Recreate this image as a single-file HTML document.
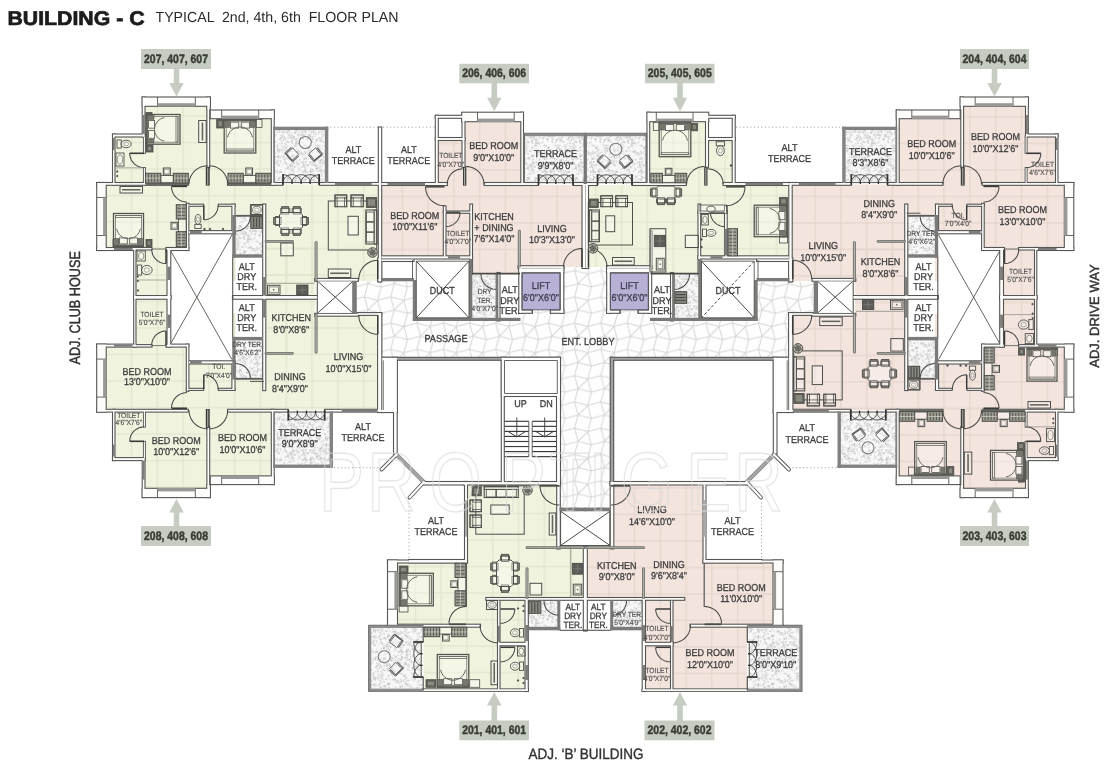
<!DOCTYPE html>
<html lang="en">
<head>
<meta charset="utf-8">
<title>Building C - Typical 2nd, 4th, 6th Floor Plan</title>
<style>
html,body{margin:0;padding:0;background:#fff;}
body{width:1104px;height:768px;overflow:hidden;}
svg{display:block;}
#all{filter:blur(0.5px);}
svg text{font-family:"Liberation Sans",sans-serif;text-rendering:geometricPrecision;}
</style>
</head>
<body>
<svg width="1104" height="768" viewBox="0 0 1104 768">
<defs>
<pattern id="tx" width="48" height="48" patternUnits="userSpaceOnUse"><rect width="48" height="48" fill="#f8f8f8"/><ellipse cx="11.42" cy="26.12" rx="0.87" ry="0.76" fill="#cccccc" transform="rotate(112.63 11.42 26.12)"/><ellipse cx="29.07" cy="43.62" rx="0.97" ry="0.73" fill="#c4c4c4" transform="rotate(34.51 29.07 43.62)"/><ellipse cx="22.57" cy="40.15" rx="0.98" ry="0.78" fill="#c4c4c4" transform="rotate(27.11 22.57 40.15)"/><ellipse cx="7.28" cy="44.44" rx="0.89" ry="0.41" fill="#d4d4d4" transform="rotate(139.9 7.28 44.44)"/><ellipse cx="36.4" cy="28.37" rx="0.8" ry="0.42" fill="#dedede" transform="rotate(155.79 36.4 28.37)"/><ellipse cx="28.55" cy="44.17" rx="0.89" ry="0.87" fill="#c4c4c4" transform="rotate(76.85 28.55 44.17)"/><ellipse cx="38.44" cy="21.34" rx="1.44" ry="0.93" fill="#d4d4d4" transform="rotate(17.54 38.44 21.34)"/><ellipse cx="23.75" cy="12.38" rx="1.17" ry="0.87" fill="#dedede" transform="rotate(153.94 23.75 12.38)"/><ellipse cx="24.35" cy="18.52" rx="0.85" ry="0.75" fill="#dadada" transform="rotate(105.17 24.35 18.52)"/><ellipse cx="32.74" cy="44.59" rx="1.36" ry="0.99" fill="#d4d4d4" transform="rotate(120.83 32.74 44.59)"/><ellipse cx="33.53" cy="15.67" rx="1.04" ry="0.74" fill="#c4c4c4" transform="rotate(18.73 33.53 15.67)"/><ellipse cx="10.13" cy="39.92" rx="1.07" ry="0.57" fill="#e6e6e6" transform="rotate(11.42 10.13 39.92)"/><ellipse cx="30.66" cy="23.21" rx="0.84" ry="0.44" fill="#cccccc" transform="rotate(161.48 30.66 23.21)"/><ellipse cx="14.11" cy="36.9" rx="1.37" ry="0.43" fill="#cccccc" transform="rotate(110.62 14.11 36.9)"/><ellipse cx="18.13" cy="28.15" rx="1.05" ry="0.95" fill="#d4d4d4" transform="rotate(50.23 18.13 28.15)"/><ellipse cx="-0.07" cy="14.86" rx="0.58" ry="0.76" fill="#d4d4d4" transform="rotate(5.65 -0.07 14.86)"/><ellipse cx="47.93" cy="14.86" rx="0.58" ry="0.76" fill="#d4d4d4" transform="rotate(5.65 47.93 14.86)"/><ellipse cx="-1.37" cy="14" rx="0.76" ry="0.81" fill="#dadada" transform="rotate(176.38 -1.37 14)"/><ellipse cx="46.63" cy="14" rx="0.76" ry="0.81" fill="#dadada" transform="rotate(176.38 46.63 14)"/><ellipse cx="15.06" cy="-1.98" rx="1.4" ry="0.63" fill="#e2e2e2" transform="rotate(82.87 15.06 -1.98)"/><ellipse cx="15.06" cy="46.02" rx="1.4" ry="0.63" fill="#e2e2e2" transform="rotate(82.87 15.06 46.02)"/><ellipse cx="18.54" cy="41.61" rx="1.18" ry="0.46" fill="#e6e6e6" transform="rotate(175.12 18.54 41.61)"/><ellipse cx="24.34" cy="20.7" rx="1.22" ry="0.54" fill="#dadada" transform="rotate(54.2 24.34 20.7)"/><ellipse cx="25.01" cy="26.32" rx="0.51" ry="0.65" fill="#cccccc" transform="rotate(104.39 25.01 26.32)"/><ellipse cx="18.07" cy="28.28" rx="0.63" ry="0.78" fill="#dadada" transform="rotate(59.84 18.07 28.28)"/><ellipse cx="32.61" cy="16.92" rx="1.21" ry="0.84" fill="#cccccc" transform="rotate(3.99 32.61 16.92)"/><ellipse cx="-2.17" cy="1.02" rx="0.87" ry="0.78" fill="#e2e2e2" transform="rotate(53.75 -2.17 1.02)"/><ellipse cx="-2.17" cy="49.02" rx="0.87" ry="0.78" fill="#e2e2e2" transform="rotate(53.75 -2.17 49.02)"/><ellipse cx="45.83" cy="1.02" rx="0.87" ry="0.78" fill="#e2e2e2" transform="rotate(53.75 45.83 1.02)"/><ellipse cx="45.83" cy="49.02" rx="0.87" ry="0.78" fill="#e2e2e2" transform="rotate(53.75 45.83 49.02)"/><ellipse cx="15.36" cy="17.47" rx="0.81" ry="0.62" fill="#dadada" transform="rotate(107.21 15.36 17.47)"/><ellipse cx="37.79" cy="5.03" rx="1.31" ry="0.98" fill="#d4d4d4" transform="rotate(123.07 37.79 5.03)"/><ellipse cx="14.88" cy="10.68" rx="1.3" ry="0.54" fill="#dedede" transform="rotate(33.73 14.88 10.68)"/><ellipse cx="31.18" cy="4.66" rx="1.1" ry="0.97" fill="#d4d4d4" transform="rotate(121.49 31.18 4.66)"/><ellipse cx="21.04" cy="41.07" rx="0.67" ry="0.6" fill="#e2e2e2" transform="rotate(117.04 21.04 41.07)"/><ellipse cx="21.65" cy="10.8" rx="0.62" ry="0.72" fill="#e6e6e6" transform="rotate(34.34 21.65 10.8)"/><ellipse cx="40.14" cy="27.59" rx="1.36" ry="0.6" fill="#cccccc" transform="rotate(149.03 40.14 27.59)"/><ellipse cx="38.7" cy="16.57" rx="0.63" ry="0.58" fill="#dadada" transform="rotate(142.9 38.7 16.57)"/><ellipse cx="22.31" cy="30.44" rx="0.79" ry="0.74" fill="#dedede" transform="rotate(6.4 22.31 30.44)"/><ellipse cx="7.49" cy="0.22" rx="1.44" ry="0.93" fill="#dedede" transform="rotate(177.64 7.49 0.22)"/><ellipse cx="7.49" cy="48.22" rx="1.44" ry="0.93" fill="#dedede" transform="rotate(177.64 7.49 48.22)"/><ellipse cx="26.83" cy="-0.68" rx="1.22" ry="0.42" fill="#e6e6e6" transform="rotate(82.2 26.83 -0.68)"/><ellipse cx="26.83" cy="47.32" rx="1.22" ry="0.42" fill="#e6e6e6" transform="rotate(82.2 26.83 47.32)"/><ellipse cx="31.82" cy="24.91" rx="0.79" ry="0.6" fill="#cccccc" transform="rotate(40.94 31.82 24.91)"/><ellipse cx="41.18" cy="-1.39" rx="0.62" ry="0.55" fill="#e6e6e6" transform="rotate(6.33 41.18 -1.39)"/><ellipse cx="41.18" cy="46.61" rx="0.62" ry="0.55" fill="#e6e6e6" transform="rotate(6.33 41.18 46.61)"/><ellipse cx="33.3" cy="44.35" rx="1.4" ry="0.94" fill="#cccccc" transform="rotate(103.85 33.3 44.35)"/><ellipse cx="23.09" cy="5.8" rx="1" ry="0.54" fill="#e2e2e2" transform="rotate(3.57 23.09 5.8)"/><ellipse cx="19.86" cy="-2.93" rx="1.11" ry="0.6" fill="#e6e6e6" transform="rotate(45.45 19.86 -2.93)"/><ellipse cx="19.86" cy="45.07" rx="1.11" ry="0.6" fill="#e6e6e6" transform="rotate(45.45 19.86 45.07)"/><ellipse cx="25.97" cy="38.95" rx="0.56" ry="0.53" fill="#e6e6e6" transform="rotate(22 25.97 38.95)"/><ellipse cx="5.72" cy="11.49" rx="0.77" ry="0.93" fill="#cccccc" transform="rotate(23.13 5.72 11.49)"/><ellipse cx="23.4" cy="27.4" rx="0.9" ry="0.85" fill="#e2e2e2" transform="rotate(44.69 23.4 27.4)"/><ellipse cx="25.31" cy="20.3" rx="0.97" ry="0.87" fill="#cccccc" transform="rotate(0.33 25.31 20.3)"/><ellipse cx="37.21" cy="2.22" rx="0.55" ry="0.69" fill="#c4c4c4" transform="rotate(5.94 37.21 2.22)"/><ellipse cx="37.21" cy="50.22" rx="0.55" ry="0.69" fill="#c4c4c4" transform="rotate(5.94 37.21 50.22)"/><ellipse cx="4.13" cy="24.1" rx="0.82" ry="0.59" fill="#c4c4c4" transform="rotate(63.23 4.13 24.1)"/><ellipse cx="18.7" cy="14.6" rx="0.76" ry="0.99" fill="#d4d4d4" transform="rotate(77.17 18.7 14.6)"/><ellipse cx="26.67" cy="34.37" rx="0.88" ry="0.45" fill="#dadada" transform="rotate(32.14 26.67 34.37)"/><ellipse cx="22.12" cy="31.21" rx="1.04" ry="0.78" fill="#dedede" transform="rotate(7.82 22.12 31.21)"/><ellipse cx="2.55" cy="30.12" rx="1.26" ry="0.59" fill="#dedede" transform="rotate(171.05 2.55 30.12)"/><ellipse cx="50.55" cy="30.12" rx="1.26" ry="0.59" fill="#dedede" transform="rotate(171.05 50.55 30.12)"/><ellipse cx="22.12" cy="11.76" rx="1.04" ry="0.82" fill="#dedede" transform="rotate(12.88 22.12 11.76)"/><ellipse cx="10.77" cy="6.26" rx="0.53" ry="0.6" fill="#e2e2e2" transform="rotate(174.39 10.77 6.26)"/><ellipse cx="37.96" cy="12.58" rx="0.96" ry="0.47" fill="#c4c4c4" transform="rotate(146.38 37.96 12.58)"/><ellipse cx="40.79" cy="25.45" rx="0.88" ry="0.47" fill="#e2e2e2" transform="rotate(57.31 40.79 25.45)"/><ellipse cx="4.95" cy="28.21" rx="0.5" ry="0.49" fill="#cccccc" transform="rotate(139.37 4.95 28.21)"/><ellipse cx="25.31" cy="27.09" rx="1.16" ry="0.63" fill="#dadada" transform="rotate(147.5 25.31 27.09)"/><ellipse cx="40.39" cy="5.82" rx="1.34" ry="0.8" fill="#dadada" transform="rotate(150.51 40.39 5.82)"/><ellipse cx="27.8" cy="38.34" rx="0.54" ry="0.86" fill="#c4c4c4" transform="rotate(92.04 27.8 38.34)"/><ellipse cx="11.44" cy="26.61" rx="0.6" ry="0.73" fill="#e6e6e6" transform="rotate(99.02 11.44 26.61)"/><ellipse cx="27.07" cy="39.75" rx="0.74" ry="0.51" fill="#e2e2e2" transform="rotate(44.99 27.07 39.75)"/><ellipse cx="33.61" cy="-2.75" rx="0.75" ry="0.76" fill="#e2e2e2" transform="rotate(168.98 33.61 -2.75)"/><ellipse cx="33.61" cy="45.25" rx="0.75" ry="0.76" fill="#e2e2e2" transform="rotate(168.98 33.61 45.25)"/><ellipse cx="20.07" cy="4" rx="1" ry="0.98" fill="#c4c4c4" transform="rotate(74.31 20.07 4)"/><ellipse cx="-1.58" cy="19.93" rx="1.07" ry="0.75" fill="#c4c4c4" transform="rotate(166.31 -1.58 19.93)"/><ellipse cx="46.42" cy="19.93" rx="1.07" ry="0.75" fill="#c4c4c4" transform="rotate(166.31 46.42 19.93)"/><ellipse cx="23.22" cy="30.86" rx="1.4" ry="0.49" fill="#c4c4c4" transform="rotate(17.25 23.22 30.86)"/><ellipse cx="23.21" cy="33.53" rx="1.45" ry="0.75" fill="#d4d4d4" transform="rotate(154.46 23.21 33.53)"/><ellipse cx="12.83" cy="9.56" rx="1.09" ry="0.59" fill="#c4c4c4" transform="rotate(41.81 12.83 9.56)"/><ellipse cx="25.83" cy="37.42" rx="1.17" ry="0.91" fill="#e2e2e2" transform="rotate(107.14 25.83 37.42)"/><ellipse cx="28.06" cy="12.82" rx="0.72" ry="0.41" fill="#dedede" transform="rotate(86.31 28.06 12.82)"/><ellipse cx="9.63" cy="27.35" rx="0.74" ry="0.69" fill="#dedede" transform="rotate(155.48 9.63 27.35)"/><ellipse cx="-0.42" cy="23.02" rx="1.1" ry="0.68" fill="#e6e6e6" transform="rotate(150.23 -0.42 23.02)"/><ellipse cx="47.58" cy="23.02" rx="1.1" ry="0.68" fill="#e6e6e6" transform="rotate(150.23 47.58 23.02)"/><ellipse cx="31.32" cy="1.33" rx="1.49" ry="0.44" fill="#e6e6e6" transform="rotate(170.56 31.32 1.33)"/><ellipse cx="31.32" cy="49.33" rx="1.49" ry="0.44" fill="#e6e6e6" transform="rotate(170.56 31.32 49.33)"/><ellipse cx="35.21" cy="-1.91" rx="0.97" ry="0.54" fill="#c4c4c4" transform="rotate(42.26 35.21 -1.91)"/><ellipse cx="35.21" cy="46.09" rx="0.97" ry="0.54" fill="#c4c4c4" transform="rotate(42.26 35.21 46.09)"/><ellipse cx="37.31" cy="3.32" rx="0.72" ry="0.55" fill="#e6e6e6" transform="rotate(160.23 37.31 3.32)"/><ellipse cx="12.41" cy="8.98" rx="1.2" ry="0.92" fill="#dadada" transform="rotate(161.96 12.41 8.98)"/><ellipse cx="8.15" cy="2.16" rx="0.68" ry="0.45" fill="#cccccc" transform="rotate(143.8 8.15 2.16)"/><ellipse cx="8.15" cy="50.16" rx="0.68" ry="0.45" fill="#cccccc" transform="rotate(143.8 8.15 50.16)"/><ellipse cx="4.45" cy="40.03" rx="0.79" ry="0.61" fill="#c4c4c4" transform="rotate(104.45 4.45 40.03)"/><ellipse cx="16.16" cy="1.41" rx="0.83" ry="0.63" fill="#c4c4c4" transform="rotate(14.03 16.16 1.41)"/><ellipse cx="16.16" cy="49.41" rx="0.83" ry="0.63" fill="#c4c4c4" transform="rotate(14.03 16.16 49.41)"/><ellipse cx="28.09" cy="-2.14" rx="0.89" ry="0.73" fill="#dadada" transform="rotate(21.45 28.09 -2.14)"/><ellipse cx="28.09" cy="45.86" rx="0.89" ry="0.73" fill="#dadada" transform="rotate(21.45 28.09 45.86)"/><ellipse cx="3.66" cy="20.76" rx="0.94" ry="0.72" fill="#e2e2e2" transform="rotate(45.17 3.66 20.76)"/><ellipse cx="-2.82" cy="17.96" rx="1.27" ry="0.85" fill="#c4c4c4" transform="rotate(53.2 -2.82 17.96)"/><ellipse cx="45.18" cy="17.96" rx="1.27" ry="0.85" fill="#c4c4c4" transform="rotate(53.2 45.18 17.96)"/><ellipse cx="32.16" cy="-2.68" rx="1.32" ry="0.46" fill="#dadada" transform="rotate(170 32.16 -2.68)"/><ellipse cx="32.16" cy="45.32" rx="1.32" ry="0.46" fill="#dadada" transform="rotate(170 32.16 45.32)"/><ellipse cx="32.3" cy="25.74" rx="0.61" ry="0.7" fill="#c4c4c4" transform="rotate(63.39 32.3 25.74)"/><ellipse cx="14.13" cy="34.94" rx="1.24" ry="0.79" fill="#d4d4d4" transform="rotate(131.44 14.13 34.94)"/><ellipse cx="8.6" cy="42.72" rx="1.16" ry="0.47" fill="#d4d4d4" transform="rotate(167.73 8.6 42.72)"/><ellipse cx="44.2" cy="30.96" rx="1.15" ry="0.65" fill="#d4d4d4" transform="rotate(54.1 44.2 30.96)"/><ellipse cx="21.97" cy="15" rx="0.68" ry="0.44" fill="#e6e6e6" transform="rotate(128.85 21.97 15)"/><ellipse cx="26.58" cy="27.64" rx="0.89" ry="0.46" fill="#cccccc" transform="rotate(48.75 26.58 27.64)"/><ellipse cx="41.88" cy="2.02" rx="1" ry="0.55" fill="#dadada" transform="rotate(138.4 41.88 2.02)"/><ellipse cx="41.88" cy="50.02" rx="1" ry="0.55" fill="#dadada" transform="rotate(138.4 41.88 50.02)"/><ellipse cx="42.01" cy="-2.64" rx="0.95" ry="0.89" fill="#dedede" transform="rotate(12.46 42.01 -2.64)"/><ellipse cx="42.01" cy="45.36" rx="0.95" ry="0.89" fill="#dedede" transform="rotate(12.46 42.01 45.36)"/><ellipse cx="40.65" cy="5.38" rx="0.77" ry="0.46" fill="#e6e6e6" transform="rotate(20.28 40.65 5.38)"/><ellipse cx="43.68" cy="5.38" rx="1.2" ry="0.74" fill="#dedede" transform="rotate(120.63 43.68 5.38)"/><ellipse cx="39.16" cy="35.94" rx="1.09" ry="0.49" fill="#d4d4d4" transform="rotate(71.72 39.16 35.94)"/><ellipse cx="26.15" cy="8.18" rx="0.68" ry="0.92" fill="#dadada" transform="rotate(66.53 26.15 8.18)"/><ellipse cx="1.44" cy="38.55" rx="1.39" ry="0.97" fill="#e2e2e2" transform="rotate(68.97 1.44 38.55)"/><ellipse cx="49.44" cy="38.55" rx="1.39" ry="0.97" fill="#e2e2e2" transform="rotate(68.97 49.44 38.55)"/><ellipse cx="43.5" cy="14.86" rx="1" ry="0.72" fill="#e6e6e6" transform="rotate(127.25 43.5 14.86)"/><ellipse cx="32.05" cy="1.45" rx="0.69" ry="0.78" fill="#e6e6e6" transform="rotate(19.35 32.05 1.45)"/><ellipse cx="32.05" cy="49.45" rx="0.69" ry="0.78" fill="#e6e6e6" transform="rotate(19.35 32.05 49.45)"/><ellipse cx="31.77" cy="23.61" rx="1.02" ry="0.68" fill="#e2e2e2" transform="rotate(34.82 31.77 23.61)"/><ellipse cx="10.17" cy="39.01" rx="1.43" ry="0.97" fill="#dadada" transform="rotate(20.08 10.17 39.01)"/><ellipse cx="-1.97" cy="42.82" rx="0.64" ry="0.88" fill="#cccccc" transform="rotate(112.19 -1.97 42.82)"/><ellipse cx="46.03" cy="42.82" rx="0.64" ry="0.88" fill="#cccccc" transform="rotate(112.19 46.03 42.82)"/><ellipse cx="1.22" cy="29.68" rx="1.01" ry="0.7" fill="#dadada" transform="rotate(3.4 1.22 29.68)"/><ellipse cx="49.22" cy="29.68" rx="1.01" ry="0.7" fill="#dadada" transform="rotate(3.4 49.22 29.68)"/><ellipse cx="15.51" cy="41.78" rx="1.19" ry="0.48" fill="#e2e2e2" transform="rotate(154.49 15.51 41.78)"/><ellipse cx="37.22" cy="1.63" rx="0.58" ry="1" fill="#d4d4d4" transform="rotate(179.61 37.22 1.63)"/><ellipse cx="37.22" cy="49.63" rx="0.58" ry="1" fill="#d4d4d4" transform="rotate(179.61 37.22 49.63)"/><ellipse cx="44.72" cy="41.35" rx="0.94" ry="0.85" fill="#cccccc" transform="rotate(87.3 44.72 41.35)"/><ellipse cx="37.77" cy="19.61" rx="1.35" ry="0.82" fill="#dedede" transform="rotate(70.47 37.77 19.61)"/><ellipse cx="33.57" cy="25.8" rx="0.92" ry="0.79" fill="#dedede" transform="rotate(54.84 33.57 25.8)"/><ellipse cx="21.96" cy="33.18" rx="0.94" ry="0.67" fill="#dadada" transform="rotate(6.7 21.96 33.18)"/><ellipse cx="17.61" cy="17.81" rx="1.03" ry="0.76" fill="#cccccc" transform="rotate(40.29 17.61 17.81)"/><ellipse cx="38.6" cy="12.42" rx="0.87" ry="0.91" fill="#d4d4d4" transform="rotate(96.09 38.6 12.42)"/><ellipse cx="10.05" cy="8.2" rx="0.9" ry="0.5" fill="#cccccc" transform="rotate(4.95 10.05 8.2)"/><ellipse cx="29.22" cy="21.25" rx="0.68" ry="0.9" fill="#dadada" transform="rotate(72.56 29.22 21.25)"/><ellipse cx="19.57" cy="33.77" rx="0.55" ry="0.64" fill="#cccccc" transform="rotate(71.39 19.57 33.77)"/><ellipse cx="43.63" cy="42.39" rx="0.74" ry="0.63" fill="#dadada" transform="rotate(34.32 43.63 42.39)"/><ellipse cx="29.88" cy="16.63" rx="0.62" ry="0.43" fill="#dadada" transform="rotate(130.98 29.88 16.63)"/><ellipse cx="-0.9" cy="-2.78" rx="1.29" ry="0.98" fill="#e2e2e2" transform="rotate(87.94 -0.9 -2.78)"/><ellipse cx="-0.9" cy="45.22" rx="1.29" ry="0.98" fill="#e2e2e2" transform="rotate(87.94 -0.9 45.22)"/><ellipse cx="47.1" cy="-2.78" rx="1.29" ry="0.98" fill="#e2e2e2" transform="rotate(87.94 47.1 -2.78)"/><ellipse cx="47.1" cy="45.22" rx="1.29" ry="0.98" fill="#e2e2e2" transform="rotate(87.94 47.1 45.22)"/><ellipse cx="12.76" cy="39.1" rx="1.13" ry="0.61" fill="#c4c4c4" transform="rotate(16.87 12.76 39.1)"/><ellipse cx="20.9" cy="4.29" rx="1.12" ry="0.46" fill="#cccccc" transform="rotate(122.55 20.9 4.29)"/><ellipse cx="8.18" cy="1.76" rx="0.55" ry="0.79" fill="#d4d4d4" transform="rotate(162.05 8.18 1.76)"/><ellipse cx="8.18" cy="49.76" rx="0.55" ry="0.79" fill="#d4d4d4" transform="rotate(162.05 8.18 49.76)"/><ellipse cx="43.19" cy="36.36" rx="0.84" ry="0.69" fill="#c4c4c4" transform="rotate(63.28 43.19 36.36)"/><ellipse cx="1.64" cy="14.63" rx="1.11" ry="0.97" fill="#dadada" transform="rotate(15.8 1.64 14.63)"/><ellipse cx="49.64" cy="14.63" rx="1.11" ry="0.97" fill="#dadada" transform="rotate(15.8 49.64 14.63)"/><ellipse cx="8.84" cy="19.83" rx="1.01" ry="0.73" fill="#e6e6e6" transform="rotate(96.57 8.84 19.83)"/><ellipse cx="44.57" cy="8.38" rx="1.24" ry="0.84" fill="#e2e2e2" transform="rotate(150.42 44.57 8.38)"/><ellipse cx="17.24" cy="8.83" rx="1.3" ry="0.66" fill="#c4c4c4" transform="rotate(80.01 17.24 8.83)"/><ellipse cx="23.07" cy="12.93" rx="0.67" ry="0.83" fill="#c4c4c4" transform="rotate(109.03 23.07 12.93)"/><ellipse cx="33.45" cy="-2.43" rx="0.54" ry="0.5" fill="#e6e6e6" transform="rotate(135.3 33.45 -2.43)"/><ellipse cx="33.45" cy="45.57" rx="0.54" ry="0.5" fill="#e6e6e6" transform="rotate(135.3 33.45 45.57)"/><ellipse cx="22.41" cy="36.41" rx="1.18" ry="0.46" fill="#e6e6e6" transform="rotate(42.69 22.41 36.41)"/><ellipse cx="38.46" cy="2.71" rx="1.11" ry="0.43" fill="#e6e6e6" transform="rotate(83.96 38.46 2.71)"/><ellipse cx="38.46" cy="50.71" rx="1.11" ry="0.43" fill="#e6e6e6" transform="rotate(83.96 38.46 50.71)"/><ellipse cx="35.18" cy="16.02" rx="0.87" ry="0.44" fill="#cccccc" transform="rotate(71.88 35.18 16.02)"/><ellipse cx="16.25" cy="14.94" rx="0.95" ry="0.89" fill="#c4c4c4" transform="rotate(37.87 16.25 14.94)"/><ellipse cx="2.34" cy="7.33" rx="1.14" ry="0.75" fill="#d4d4d4" transform="rotate(2.1 2.34 7.33)"/><ellipse cx="50.34" cy="7.33" rx="1.14" ry="0.75" fill="#d4d4d4" transform="rotate(2.1 50.34 7.33)"/><ellipse cx="13.8" cy="10.02" rx="1.35" ry="0.71" fill="#e2e2e2" transform="rotate(90.89 13.8 10.02)"/><ellipse cx="15.31" cy="42.38" rx="1.28" ry="0.68" fill="#cccccc" transform="rotate(112.03 15.31 42.38)"/><ellipse cx="39.62" cy="5.4" rx="0.52" ry="0.98" fill="#dadada" transform="rotate(35.87 39.62 5.4)"/><ellipse cx="4.12" cy="22.33" rx="0.72" ry="0.9" fill="#c4c4c4" transform="rotate(110.78 4.12 22.33)"/><ellipse cx="23.31" cy="32.09" rx="1.2" ry="0.64" fill="#e6e6e6" transform="rotate(118.99 23.31 32.09)"/><ellipse cx="5.33" cy="40.1" rx="1.09" ry="0.89" fill="#e2e2e2" transform="rotate(37.08 5.33 40.1)"/><ellipse cx="0.36" cy="14.37" rx="1.14" ry="0.6" fill="#e6e6e6" transform="rotate(34.55 0.36 14.37)"/><ellipse cx="48.36" cy="14.37" rx="1.14" ry="0.6" fill="#e6e6e6" transform="rotate(34.55 48.36 14.37)"/><ellipse cx="3.43" cy="26.53" rx="1.24" ry="0.65" fill="#e2e2e2" transform="rotate(116.71 3.43 26.53)"/><ellipse cx="24.9" cy="11.99" rx="1.34" ry="0.44" fill="#dedede" transform="rotate(42.51 24.9 11.99)"/><ellipse cx="4.04" cy="10.46" rx="0.67" ry="0.96" fill="#e6e6e6" transform="rotate(130.75 4.04 10.46)"/><ellipse cx="42.02" cy="35.29" rx="0.96" ry="0.83" fill="#dadada" transform="rotate(153.46 42.02 35.29)"/><ellipse cx="-2.49" cy="43.35" rx="1.45" ry="0.69" fill="#dedede" transform="rotate(139.22 -2.49 43.35)"/><ellipse cx="45.51" cy="43.35" rx="1.45" ry="0.69" fill="#dedede" transform="rotate(139.22 45.51 43.35)"/><ellipse cx="22.53" cy="28.2" rx="0.53" ry="0.97" fill="#cccccc" transform="rotate(3.26 22.53 28.2)"/><ellipse cx="1.36" cy="7.23" rx="1" ry="0.44" fill="#d4d4d4" transform="rotate(84.98 1.36 7.23)"/><ellipse cx="49.36" cy="7.23" rx="1" ry="0.44" fill="#d4d4d4" transform="rotate(84.98 49.36 7.23)"/><ellipse cx="35.77" cy="13.25" rx="0.93" ry="0.61" fill="#c4c4c4" transform="rotate(133.58 35.77 13.25)"/><ellipse cx="37.54" cy="6.86" rx="0.94" ry="0.95" fill="#d4d4d4" transform="rotate(79.89 37.54 6.86)"/><ellipse cx="7.35" cy="36.61" rx="1.2" ry="0.99" fill="#c4c4c4" transform="rotate(176.34 7.35 36.61)"/><ellipse cx="17.88" cy="7.74" rx="0.81" ry="0.68" fill="#e2e2e2" transform="rotate(94.67 17.88 7.74)"/><ellipse cx="10.69" cy="-2.09" rx="0.79" ry="0.42" fill="#dadada" transform="rotate(67.23 10.69 -2.09)"/><ellipse cx="10.69" cy="45.91" rx="0.79" ry="0.42" fill="#dadada" transform="rotate(67.23 10.69 45.91)"/><ellipse cx="38.74" cy="14.28" rx="0.74" ry="0.88" fill="#d4d4d4" transform="rotate(1.81 38.74 14.28)"/><ellipse cx="30.2" cy="7.16" rx="0.52" ry="0.97" fill="#e6e6e6" transform="rotate(0.35 30.2 7.16)"/><ellipse cx="38.07" cy="17.03" rx="1.47" ry="0.62" fill="#dedede" transform="rotate(99.48 38.07 17.03)"/><ellipse cx="8.88" cy="0.63" rx="0.93" ry="0.6" fill="#e2e2e2" transform="rotate(9.23 8.88 0.63)"/><ellipse cx="8.88" cy="48.63" rx="0.93" ry="0.6" fill="#e2e2e2" transform="rotate(9.23 8.88 48.63)"/><ellipse cx="38.94" cy="21.6" rx="0.76" ry="0.8" fill="#c4c4c4" transform="rotate(89.75 38.94 21.6)"/><ellipse cx="12.5" cy="2.11" rx="0.93" ry="0.78" fill="#e6e6e6" transform="rotate(121.54 12.5 2.11)"/><ellipse cx="12.5" cy="50.11" rx="0.93" ry="0.78" fill="#e6e6e6" transform="rotate(121.54 12.5 50.11)"/><ellipse cx="38.81" cy="11.87" rx="0.64" ry="0.85" fill="#e2e2e2" transform="rotate(142.11 38.81 11.87)"/><ellipse cx="36.03" cy="16.2" rx="0.63" ry="0.41" fill="#dedede" transform="rotate(8.17 36.03 16.2)"/><ellipse cx="30.87" cy="43.05" rx="1.41" ry="0.68" fill="#e6e6e6" transform="rotate(119.79 30.87 43.05)"/><ellipse cx="39.07" cy="28.93" rx="0.91" ry="0.71" fill="#d4d4d4" transform="rotate(30.74 39.07 28.93)"/><ellipse cx="3.54" cy="6.7" rx="1.33" ry="0.46" fill="#dedede" transform="rotate(139.35 3.54 6.7)"/><ellipse cx="21.83" cy="38.54" rx="0.95" ry="0.98" fill="#dadada" transform="rotate(27.95 21.83 38.54)"/><ellipse cx="6.7" cy="1.81" rx="0.99" ry="0.54" fill="#e2e2e2" transform="rotate(82.61 6.7 1.81)"/><ellipse cx="6.7" cy="49.81" rx="0.99" ry="0.54" fill="#e2e2e2" transform="rotate(82.61 6.7 49.81)"/><ellipse cx="29.4" cy="1.47" rx="1.07" ry="0.73" fill="#dadada" transform="rotate(87.77 29.4 1.47)"/><ellipse cx="29.4" cy="49.47" rx="1.07" ry="0.73" fill="#dadada" transform="rotate(87.77 29.4 49.47)"/><ellipse cx="37.7" cy="36.18" rx="0.77" ry="0.66" fill="#cccccc" transform="rotate(13.65 37.7 36.18)"/><ellipse cx="24.71" cy="42.99" rx="1.46" ry="0.79" fill="#dadada" transform="rotate(35.12 24.71 42.99)"/><ellipse cx="8.69" cy="18.4" rx="1.33" ry="0.59" fill="#cccccc" transform="rotate(48.76 8.69 18.4)"/><ellipse cx="-2.7" cy="15.23" rx="0.89" ry="0.57" fill="#dadada" transform="rotate(23.67 -2.7 15.23)"/><ellipse cx="45.3" cy="15.23" rx="0.89" ry="0.57" fill="#dadada" transform="rotate(23.67 45.3 15.23)"/><ellipse cx="19.84" cy="43.17" rx="1" ry="0.97" fill="#c4c4c4" transform="rotate(132.74 19.84 43.17)"/><ellipse cx="25.26" cy="35.66" rx="1.34" ry="0.78" fill="#cccccc" transform="rotate(147.21 25.26 35.66)"/><ellipse cx="-2.78" cy="-1.23" rx="1.19" ry="0.66" fill="#dedede" transform="rotate(177.12 -2.78 -1.23)"/><ellipse cx="-2.78" cy="46.77" rx="1.19" ry="0.66" fill="#dedede" transform="rotate(177.12 -2.78 46.77)"/><ellipse cx="45.22" cy="-1.23" rx="1.19" ry="0.66" fill="#dedede" transform="rotate(177.12 45.22 -1.23)"/><ellipse cx="45.22" cy="46.77" rx="1.19" ry="0.66" fill="#dedede" transform="rotate(177.12 45.22 46.77)"/><ellipse cx="12.86" cy="26.21" rx="0.55" ry="0.54" fill="#d4d4d4" transform="rotate(172.36 12.86 26.21)"/><ellipse cx="7.19" cy="33.87" rx="1.19" ry="0.68" fill="#cccccc" transform="rotate(71.57 7.19 33.87)"/><ellipse cx="6.83" cy="2.62" rx="1.26" ry="0.51" fill="#e6e6e6" transform="rotate(34.13 6.83 2.62)"/><ellipse cx="6.83" cy="50.62" rx="1.26" ry="0.51" fill="#e6e6e6" transform="rotate(34.13 6.83 50.62)"/><ellipse cx="6.28" cy="7.04" rx="1.02" ry="0.49" fill="#e6e6e6" transform="rotate(38.57 6.28 7.04)"/><ellipse cx="5.14" cy="18.71" rx="1.49" ry="0.57" fill="#d4d4d4" transform="rotate(23.64 5.14 18.71)"/><ellipse cx="14.16" cy="18.41" rx="1.44" ry="0.76" fill="#cccccc" transform="rotate(168.22 14.16 18.41)"/><ellipse cx="-2.91" cy="-0.15" rx="1.48" ry="0.55" fill="#dedede" transform="rotate(63.79 -2.91 -0.15)"/><ellipse cx="-2.91" cy="47.85" rx="1.48" ry="0.55" fill="#dedede" transform="rotate(63.79 -2.91 47.85)"/><ellipse cx="45.09" cy="-0.15" rx="1.48" ry="0.55" fill="#dedede" transform="rotate(63.79 45.09 -0.15)"/><ellipse cx="45.09" cy="47.85" rx="1.48" ry="0.55" fill="#dedede" transform="rotate(63.79 45.09 47.85)"/><ellipse cx="4.98" cy="40.65" rx="0.97" ry="0.84" fill="#e6e6e6" transform="rotate(95.56 4.98 40.65)"/><ellipse cx="37.53" cy="27.31" rx="0.96" ry="0.72" fill="#e2e2e2" transform="rotate(79.61 37.53 27.31)"/><ellipse cx="21.9" cy="18.43" rx="1.26" ry="0.58" fill="#c4c4c4" transform="rotate(134.93 21.9 18.43)"/><ellipse cx="8.61" cy="-1.75" rx="1.34" ry="0.5" fill="#d4d4d4" transform="rotate(47.86 8.61 -1.75)"/><ellipse cx="8.61" cy="46.25" rx="1.34" ry="0.5" fill="#d4d4d4" transform="rotate(47.86 8.61 46.25)"/><ellipse cx="6.26" cy="28.97" rx="0.56" ry="0.77" fill="#e2e2e2" transform="rotate(32.02 6.26 28.97)"/><ellipse cx="0.67" cy="41.75" rx="1.29" ry="0.99" fill="#e2e2e2" transform="rotate(123.38 0.67 41.75)"/><ellipse cx="48.67" cy="41.75" rx="1.29" ry="0.99" fill="#e2e2e2" transform="rotate(123.38 48.67 41.75)"/><ellipse cx="33.46" cy="13.21" rx="0.96" ry="0.75" fill="#e2e2e2" transform="rotate(58.65 33.46 13.21)"/><ellipse cx="28.82" cy="15.51" rx="1.01" ry="0.62" fill="#dadada" transform="rotate(57.26 28.82 15.51)"/><ellipse cx="33.72" cy="37.01" rx="1.22" ry="0.61" fill="#dadada" transform="rotate(124.28 33.72 37.01)"/><ellipse cx="13.77" cy="-1.12" rx="0.77" ry="0.47" fill="#c4c4c4" transform="rotate(90.15 13.77 -1.12)"/><ellipse cx="13.77" cy="46.88" rx="0.77" ry="0.47" fill="#c4c4c4" transform="rotate(90.15 13.77 46.88)"/><ellipse cx="-0.22" cy="34.98" rx="0.75" ry="0.66" fill="#d4d4d4" transform="rotate(48.03 -0.22 34.98)"/><ellipse cx="47.78" cy="34.98" rx="0.75" ry="0.66" fill="#d4d4d4" transform="rotate(48.03 47.78 34.98)"/><ellipse cx="22.94" cy="25.51" rx="1.37" ry="0.99" fill="#dedede" transform="rotate(95.13 22.94 25.51)"/><ellipse cx="-0.26" cy="2.48" rx="0.92" ry="0.73" fill="#dadada" transform="rotate(109.9 -0.26 2.48)"/><ellipse cx="-0.26" cy="50.48" rx="0.92" ry="0.73" fill="#dadada" transform="rotate(109.9 -0.26 50.48)"/><ellipse cx="47.74" cy="2.48" rx="0.92" ry="0.73" fill="#dadada" transform="rotate(109.9 47.74 2.48)"/><ellipse cx="47.74" cy="50.48" rx="0.92" ry="0.73" fill="#dadada" transform="rotate(109.9 47.74 50.48)"/><ellipse cx="2.85" cy="41.02" rx="0.88" ry="0.99" fill="#d4d4d4" transform="rotate(65.99 2.85 41.02)"/><ellipse cx="50.85" cy="41.02" rx="0.88" ry="0.99" fill="#d4d4d4" transform="rotate(65.99 50.85 41.02)"/><ellipse cx="2.66" cy="23.72" rx="0.62" ry="0.84" fill="#e2e2e2" transform="rotate(70.13 2.66 23.72)"/><ellipse cx="50.66" cy="23.72" rx="0.62" ry="0.84" fill="#e2e2e2" transform="rotate(70.13 50.66 23.72)"/><ellipse cx="17.35" cy="14.43" rx="1.01" ry="0.64" fill="#c4c4c4" transform="rotate(67.06 17.35 14.43)"/><ellipse cx="32.9" cy="5" rx="1" ry="0.59" fill="#cccccc" transform="rotate(0.01 32.9 5)"/><ellipse cx="29.5" cy="6.7" rx="0.58" ry="0.59" fill="#cccccc" transform="rotate(50.94 29.5 6.7)"/><ellipse cx="1.36" cy="35.19" rx="0.81" ry="0.67" fill="#c4c4c4" transform="rotate(65.52 1.36 35.19)"/><ellipse cx="49.36" cy="35.19" rx="0.81" ry="0.67" fill="#c4c4c4" transform="rotate(65.52 49.36 35.19)"/><ellipse cx="40.21" cy="43.83" rx="0.94" ry="0.81" fill="#dedede" transform="rotate(21.73 40.21 43.83)"/><ellipse cx="10.79" cy="6.67" rx="0.81" ry="0.73" fill="#d4d4d4" transform="rotate(21.12 10.79 6.67)"/><ellipse cx="28.74" cy="4.07" rx="0.53" ry="0.61" fill="#e6e6e6" transform="rotate(1.35 28.74 4.07)"/><ellipse cx="-0.69" cy="22.69" rx="0.64" ry="0.52" fill="#e2e2e2" transform="rotate(114.44 -0.69 22.69)"/><ellipse cx="47.31" cy="22.69" rx="0.64" ry="0.52" fill="#e2e2e2" transform="rotate(114.44 47.31 22.69)"/><ellipse cx="30.18" cy="31.67" rx="0.94" ry="0.46" fill="#c4c4c4" transform="rotate(176.24 30.18 31.67)"/><ellipse cx="42.13" cy="3.09" rx="1.38" ry="0.85" fill="#e6e6e6" transform="rotate(57.8 42.13 3.09)"/><ellipse cx="0.46" cy="23.04" rx="0.92" ry="0.94" fill="#dadada" transform="rotate(148.77 0.46 23.04)"/><ellipse cx="48.46" cy="23.04" rx="0.92" ry="0.94" fill="#dadada" transform="rotate(148.77 48.46 23.04)"/><ellipse cx="30.92" cy="42.32" rx="0.73" ry="0.59" fill="#cccccc" transform="rotate(116.72 30.92 42.32)"/><ellipse cx="2.49" cy="24.87" rx="1.4" ry="0.71" fill="#e6e6e6" transform="rotate(43.09 2.49 24.87)"/><ellipse cx="50.49" cy="24.87" rx="1.4" ry="0.71" fill="#e6e6e6" transform="rotate(43.09 50.49 24.87)"/><ellipse cx="4.09" cy="11.15" rx="0.97" ry="0.91" fill="#dadada" transform="rotate(97.03 4.09 11.15)"/><ellipse cx="16.51" cy="21.89" rx="1.46" ry="0.54" fill="#dadada" transform="rotate(103.15 16.51 21.89)"/><ellipse cx="43.19" cy="6.38" rx="1.03" ry="0.77" fill="#e6e6e6" transform="rotate(63.87 43.19 6.38)"/><ellipse cx="41.28" cy="28.07" rx="1.22" ry="0.72" fill="#c4c4c4" transform="rotate(80.47 41.28 28.07)"/><ellipse cx="20.78" cy="14.98" rx="0.69" ry="0.92" fill="#e6e6e6" transform="rotate(38.89 20.78 14.98)"/><ellipse cx="4.97" cy="21.93" rx="1.43" ry="0.7" fill="#dadada" transform="rotate(151.6 4.97 21.93)"/><ellipse cx="8.95" cy="1.81" rx="1" ry="0.63" fill="#e6e6e6" transform="rotate(153.26 8.95 1.81)"/><ellipse cx="8.95" cy="49.81" rx="1" ry="0.63" fill="#e6e6e6" transform="rotate(153.26 8.95 49.81)"/><ellipse cx="35" cy="11.37" rx="0.87" ry="0.53" fill="#dadada" transform="rotate(51.29 35 11.37)"/><ellipse cx="12.64" cy="33.32" rx="0.84" ry="0.47" fill="#dedede" transform="rotate(39.67 12.64 33.32)"/><ellipse cx="8.3" cy="8.08" rx="0.98" ry="0.53" fill="#dadada" transform="rotate(145.94 8.3 8.08)"/><ellipse cx="29.25" cy="8.44" rx="1.25" ry="0.64" fill="#e2e2e2" transform="rotate(97.12 29.25 8.44)"/><ellipse cx="8.51" cy="14.49" rx="0.87" ry="0.45" fill="#dedede" transform="rotate(96.54 8.51 14.49)"/><ellipse cx="23.53" cy="27.79" rx="0.77" ry="0.94" fill="#d4d4d4" transform="rotate(123.42 23.53 27.79)"/><ellipse cx="18.68" cy="24.03" rx="0.99" ry="0.64" fill="#e6e6e6" transform="rotate(111.44 18.68 24.03)"/><ellipse cx="8.58" cy="34.41" rx="0.84" ry="0.84" fill="#cccccc" transform="rotate(105.02 8.58 34.41)"/><ellipse cx="16.75" cy="7.04" rx="0.8" ry="0.78" fill="#dedede" transform="rotate(27.35 16.75 7.04)"/><ellipse cx="17.99" cy="2.01" rx="0.85" ry="0.78" fill="#c4c4c4" transform="rotate(112.2 17.99 2.01)"/><ellipse cx="17.99" cy="50.01" rx="0.85" ry="0.78" fill="#c4c4c4" transform="rotate(112.2 17.99 50.01)"/><ellipse cx="36.54" cy="26.52" rx="0.8" ry="0.94" fill="#e2e2e2" transform="rotate(159.23 36.54 26.52)"/><ellipse cx="15.53" cy="19.69" rx="1.42" ry="0.79" fill="#dedede" transform="rotate(166.27 15.53 19.69)"/><ellipse cx="32.57" cy="35.29" rx="0.85" ry="0.69" fill="#d4d4d4" transform="rotate(102.09 32.57 35.29)"/><ellipse cx="14.18" cy="9.08" rx="1.33" ry="0.83" fill="#d4d4d4" transform="rotate(58.33 14.18 9.08)"/><ellipse cx="15.34" cy="34.79" rx="0.67" ry="0.64" fill="#dedede" transform="rotate(35.32 15.34 34.79)"/><ellipse cx="26.54" cy="17.55" rx="1.22" ry="0.76" fill="#d4d4d4" transform="rotate(126.33 26.54 17.55)"/><ellipse cx="24.24" cy="8.02" rx="0.6" ry="0.72" fill="#e6e6e6" transform="rotate(166.17 24.24 8.02)"/><ellipse cx="26.73" cy="15.15" rx="0.77" ry="0.69" fill="#d4d4d4" transform="rotate(123.15 26.73 15.15)"/><ellipse cx="-2.81" cy="5.63" rx="1.45" ry="0.69" fill="#dadada" transform="rotate(78.13 -2.81 5.63)"/><ellipse cx="45.19" cy="5.63" rx="1.45" ry="0.69" fill="#dadada" transform="rotate(78.13 45.19 5.63)"/><ellipse cx="17.73" cy="32.72" rx="0.76" ry="0.87" fill="#c4c4c4" transform="rotate(170.51 17.73 32.72)"/><ellipse cx="10.7" cy="-0.7" rx="1.29" ry="0.84" fill="#cccccc" transform="rotate(162.52 10.7 -0.7)"/><ellipse cx="10.7" cy="47.3" rx="1.29" ry="0.84" fill="#cccccc" transform="rotate(162.52 10.7 47.3)"/><ellipse cx="41.69" cy="6.5" rx="0.58" ry="0.99" fill="#cccccc" transform="rotate(60.12 41.69 6.5)"/><ellipse cx="15.68" cy="36.59" rx="0.67" ry="0.8" fill="#e2e2e2" transform="rotate(48.5 15.68 36.59)"/><ellipse cx="6.38" cy="43.19" rx="0.94" ry="0.66" fill="#e2e2e2" transform="rotate(101.83 6.38 43.19)"/><ellipse cx="20.53" cy="38.61" rx="0.76" ry="0.73" fill="#dedede" transform="rotate(105.42 20.53 38.61)"/><ellipse cx="7.38" cy="1.51" rx="0.93" ry="0.4" fill="#d4d4d4" transform="rotate(142.36 7.38 1.51)"/><ellipse cx="7.38" cy="49.51" rx="0.93" ry="0.4" fill="#d4d4d4" transform="rotate(142.36 7.38 49.51)"/><ellipse cx="24.24" cy="-2.25" rx="1.35" ry="0.84" fill="#cccccc" transform="rotate(67.05 24.24 -2.25)"/><ellipse cx="24.24" cy="45.75" rx="1.35" ry="0.84" fill="#cccccc" transform="rotate(67.05 24.24 45.75)"/><ellipse cx="30.16" cy="27.06" rx="1.47" ry="0.61" fill="#d4d4d4" transform="rotate(21.24 30.16 27.06)"/><ellipse cx="-0.94" cy="35.49" rx="0.98" ry="0.84" fill="#e2e2e2" transform="rotate(26.9 -0.94 35.49)"/><ellipse cx="47.06" cy="35.49" rx="0.98" ry="0.84" fill="#e2e2e2" transform="rotate(26.9 47.06 35.49)"/><ellipse cx="16.17" cy="39.12" rx="1.23" ry="0.56" fill="#cccccc" transform="rotate(15.62 16.17 39.12)"/><ellipse cx="42.45" cy="6.63" rx="0.51" ry="0.45" fill="#dedede" transform="rotate(141.34 42.45 6.63)"/><ellipse cx="33.99" cy="26.54" rx="1.16" ry="0.67" fill="#e6e6e6" transform="rotate(31.7 33.99 26.54)"/><ellipse cx="0.09" cy="13.51" rx="1.2" ry="0.5" fill="#e2e2e2" transform="rotate(5.88 0.09 13.51)"/><ellipse cx="48.09" cy="13.51" rx="1.2" ry="0.5" fill="#e2e2e2" transform="rotate(5.88 48.09 13.51)"/><ellipse cx="34.86" cy="40.04" rx="0.86" ry="0.43" fill="#cccccc" transform="rotate(38.05 34.86 40.04)"/><ellipse cx="38.66" cy="21.36" rx="1.17" ry="0.6" fill="#dedede" transform="rotate(40.43 38.66 21.36)"/><ellipse cx="11.36" cy="0.28" rx="0.71" ry="0.49" fill="#dedede" transform="rotate(70.61 11.36 0.28)"/><ellipse cx="11.36" cy="48.28" rx="0.71" ry="0.49" fill="#dedede" transform="rotate(70.61 11.36 48.28)"/><ellipse cx="15.16" cy="27.5" rx="1.05" ry="0.76" fill="#cccccc" transform="rotate(52.2 15.16 27.5)"/><ellipse cx="19.49" cy="28.24" rx="0.72" ry="0.67" fill="#c4c4c4" transform="rotate(91.9 19.49 28.24)"/><ellipse cx="36.57" cy="28.87" rx="1.16" ry="0.84" fill="#dedede" transform="rotate(93.89 36.57 28.87)"/><ellipse cx="30.57" cy="38.4" rx="0.68" ry="0.67" fill="#dadada" transform="rotate(95.48 30.57 38.4)"/><ellipse cx="44.48" cy="27.94" rx="1.12" ry="0.66" fill="#e2e2e2" transform="rotate(22.7 44.48 27.94)"/><ellipse cx="8.07" cy="17.58" rx="1.5" ry="0.47" fill="#dedede" transform="rotate(89.91 8.07 17.58)"/><ellipse cx="38.52" cy="35.54" rx="1.27" ry="0.41" fill="#e2e2e2" transform="rotate(4.14 38.52 35.54)"/><ellipse cx="0.23" cy="34.01" rx="1.37" ry="0.94" fill="#c4c4c4" transform="rotate(8.63 0.23 34.01)"/><ellipse cx="48.23" cy="34.01" rx="1.37" ry="0.94" fill="#c4c4c4" transform="rotate(8.63 48.23 34.01)"/><ellipse cx="14.22" cy="39.2" rx="0.99" ry="0.87" fill="#dadada" transform="rotate(144.32 14.22 39.2)"/><ellipse cx="30.03" cy="4.25" rx="1.46" ry="0.43" fill="#d4d4d4" transform="rotate(173.53 30.03 4.25)"/><ellipse cx="11.4" cy="7.61" rx="0.89" ry="0.85" fill="#d4d4d4" transform="rotate(130.07 11.4 7.61)"/><ellipse cx="30.27" cy="3.97" rx="1.17" ry="0.71" fill="#cccccc" transform="rotate(173.2 30.27 3.97)"/><ellipse cx="23.8" cy="17.39" rx="1" ry="0.45" fill="#dadada" transform="rotate(120.02 23.8 17.39)"/><ellipse cx="26.91" cy="18.76" rx="0.97" ry="0.76" fill="#dadada" transform="rotate(5.2 26.91 18.76)"/><ellipse cx="23.1" cy="30.49" rx="1.29" ry="0.85" fill="#cccccc" transform="rotate(37 23.1 30.49)"/><ellipse cx="31.23" cy="35.7" rx="1.46" ry="0.69" fill="#dadada" transform="rotate(36.5 31.23 35.7)"/><ellipse cx="28.8" cy="31.84" rx="1.5" ry="0.43" fill="#dedede" transform="rotate(72.37 28.8 31.84)"/><ellipse cx="8.72" cy="4.71" rx="0.68" ry="0.7" fill="#dedede" transform="rotate(45.93 8.72 4.71)"/><ellipse cx="27.11" cy="16.33" rx="0.93" ry="0.42" fill="#e6e6e6" transform="rotate(131.92 27.11 16.33)"/><ellipse cx="18.93" cy="43.4" rx="0.89" ry="0.72" fill="#d4d4d4" transform="rotate(24.85 18.93 43.4)"/><ellipse cx="36.75" cy="1.49" rx="0.91" ry="0.91" fill="#dedede" transform="rotate(108.8 36.75 1.49)"/><ellipse cx="36.75" cy="49.49" rx="0.91" ry="0.91" fill="#dedede" transform="rotate(108.8 36.75 49.49)"/><ellipse cx="22.96" cy="18.17" rx="1" ry="0.66" fill="#dedede" transform="rotate(36.02 22.96 18.17)"/><ellipse cx="2.8" cy="26.87" rx="0.66" ry="0.41" fill="#c4c4c4" transform="rotate(101.95 2.8 26.87)"/><ellipse cx="50.8" cy="26.87" rx="0.66" ry="0.41" fill="#c4c4c4" transform="rotate(101.95 50.8 26.87)"/><ellipse cx="38.42" cy="34.22" rx="1.48" ry="0.48" fill="#cccccc" transform="rotate(139.79 38.42 34.22)"/><ellipse cx="5.86" cy="28.54" rx="1.45" ry="0.58" fill="#dedede" transform="rotate(153.95 5.86 28.54)"/><ellipse cx="20.88" cy="6.97" rx="0.72" ry="0.9" fill="#dadada" transform="rotate(75.99 20.88 6.97)"/><ellipse cx="30.06" cy="24.67" rx="0.53" ry="0.73" fill="#dadada" transform="rotate(106.32 30.06 24.67)"/><ellipse cx="15.21" cy="18.5" rx="1.48" ry="0.57" fill="#dedede" transform="rotate(15.43 15.21 18.5)"/><ellipse cx="11.71" cy="10.64" rx="1.44" ry="0.54" fill="#dadada" transform="rotate(162.2 11.71 10.64)"/><ellipse cx="26.81" cy="37.15" rx="1.33" ry="0.52" fill="#cccccc" transform="rotate(131.29 26.81 37.15)"/><ellipse cx="24.36" cy="14.31" rx="1.34" ry="0.96" fill="#e6e6e6" transform="rotate(135.55 24.36 14.31)"/><ellipse cx="28.1" cy="37.98" rx="0.84" ry="0.57" fill="#d4d4d4" transform="rotate(62.01 28.1 37.98)"/><ellipse cx="43.45" cy="43.88" rx="1.06" ry="0.47" fill="#cccccc" transform="rotate(76.87 43.45 43.88)"/><ellipse cx="25.6" cy="18.96" rx="1.08" ry="0.9" fill="#dedede" transform="rotate(94.67 25.6 18.96)"/><ellipse cx="44.28" cy="14.94" rx="1.16" ry="0.46" fill="#dedede" transform="rotate(161.71 44.28 14.94)"/><ellipse cx="34.34" cy="38.16" rx="1.28" ry="0.54" fill="#e2e2e2" transform="rotate(134.51 34.34 38.16)"/><ellipse cx="27.62" cy="1.18" rx="1.37" ry="0.61" fill="#dadada" transform="rotate(30.53 27.62 1.18)"/><ellipse cx="27.62" cy="49.18" rx="1.37" ry="0.61" fill="#dadada" transform="rotate(30.53 27.62 49.18)"/><ellipse cx="2.28" cy="37.4" rx="1.11" ry="0.44" fill="#e2e2e2" transform="rotate(160.54 2.28 37.4)"/><ellipse cx="50.28" cy="37.4" rx="1.11" ry="0.44" fill="#e2e2e2" transform="rotate(160.54 50.28 37.4)"/><ellipse cx="13.96" cy="23.35" rx="1.28" ry="0.66" fill="#dedede" transform="rotate(138.22 13.96 23.35)"/><ellipse cx="0.04" cy="37.58" rx="0.87" ry="0.91" fill="#e6e6e6" transform="rotate(50.05 0.04 37.58)"/><ellipse cx="48.04" cy="37.58" rx="0.87" ry="0.91" fill="#e6e6e6" transform="rotate(50.05 48.04 37.58)"/><ellipse cx="24.75" cy="40.62" rx="0.88" ry="0.62" fill="#cccccc" transform="rotate(65.87 24.75 40.62)"/><ellipse cx="44.83" cy="15.84" rx="1.06" ry="0.72" fill="#cccccc" transform="rotate(1.86 44.83 15.84)"/><ellipse cx="34.34" cy="8.93" rx="1.48" ry="0.47" fill="#d4d4d4" transform="rotate(155.94 34.34 8.93)"/><ellipse cx="35.37" cy="-1.81" rx="0.81" ry="0.62" fill="#d4d4d4" transform="rotate(0.8 35.37 -1.81)"/><ellipse cx="35.37" cy="46.19" rx="0.81" ry="0.62" fill="#d4d4d4" transform="rotate(0.8 35.37 46.19)"/><ellipse cx="40.58" cy="42.09" rx="1.48" ry="0.43" fill="#cccccc" transform="rotate(68.23 40.58 42.09)"/><ellipse cx="30.76" cy="24.1" rx="0.85" ry="0.69" fill="#dedede" transform="rotate(1.54 30.76 24.1)"/><ellipse cx="32.49" cy="42.01" rx="1.05" ry="0.45" fill="#cccccc" transform="rotate(160.4 32.49 42.01)"/><ellipse cx="31.96" cy="9.68" rx="0.6" ry="0.45" fill="#e6e6e6" transform="rotate(59.9 31.96 9.68)"/><ellipse cx="10.12" cy="34.35" rx="0.54" ry="0.71" fill="#d4d4d4" transform="rotate(168.75 10.12 34.35)"/><ellipse cx="15.66" cy="21.36" rx="1.48" ry="0.58" fill="#cccccc" transform="rotate(57.9 15.66 21.36)"/><ellipse cx="41.27" cy="33.7" rx="1.15" ry="0.41" fill="#dedede" transform="rotate(135.83 41.27 33.7)"/><ellipse cx="6.16" cy="40.65" rx="0.95" ry="0.71" fill="#d4d4d4" transform="rotate(120.48 6.16 40.65)"/><ellipse cx="29.75" cy="43.9" rx="0.8" ry="0.78" fill="#e6e6e6" transform="rotate(14.04 29.75 43.9)"/><ellipse cx="7.92" cy="43.17" rx="0.94" ry="0.63" fill="#c4c4c4" transform="rotate(93.68 7.92 43.17)"/><ellipse cx="25.71" cy="14.01" rx="0.84" ry="0.85" fill="#dadada" transform="rotate(30.91 25.71 14.01)"/><ellipse cx="3.54" cy="44.55" rx="1.23" ry="0.76" fill="#e2e2e2" transform="rotate(72.84 3.54 44.55)"/><ellipse cx="20.67" cy="10.39" rx="0.6" ry="0.61" fill="#dadada" transform="rotate(108.14 20.67 10.39)"/><ellipse cx="21.15" cy="2.63" rx="1.14" ry="0.72" fill="#dadada" transform="rotate(148.53 21.15 2.63)"/><ellipse cx="21.15" cy="50.63" rx="1.14" ry="0.72" fill="#dadada" transform="rotate(148.53 21.15 50.63)"/><ellipse cx="29.64" cy="23.77" rx="1.02" ry="0.69" fill="#d4d4d4" transform="rotate(149.64 29.64 23.77)"/><ellipse cx="40.67" cy="-0.07" rx="0.59" ry="0.81" fill="#e6e6e6" transform="rotate(146.35 40.67 -0.07)"/><ellipse cx="40.67" cy="47.93" rx="0.59" ry="0.81" fill="#e6e6e6" transform="rotate(146.35 40.67 47.93)"/><ellipse cx="21.26" cy="34.15" rx="0.7" ry="0.56" fill="#e2e2e2" transform="rotate(23.93 21.26 34.15)"/><ellipse cx="43.54" cy="12.57" rx="1.49" ry="0.96" fill="#d4d4d4" transform="rotate(112.52 43.54 12.57)"/><ellipse cx="21.84" cy="27.15" rx="0.79" ry="0.8" fill="#c4c4c4" transform="rotate(146.34 21.84 27.15)"/><ellipse cx="4.85" cy="15.61" rx="0.8" ry="0.76" fill="#c4c4c4" transform="rotate(164.23 4.85 15.61)"/><ellipse cx="15.3" cy="14.08" rx="1.13" ry="0.75" fill="#e6e6e6" transform="rotate(89.36 15.3 14.08)"/><ellipse cx="-0.78" cy="22.85" rx="0.74" ry="0.52" fill="#e2e2e2" transform="rotate(6.34 -0.78 22.85)"/><ellipse cx="47.22" cy="22.85" rx="0.74" ry="0.52" fill="#e2e2e2" transform="rotate(6.34 47.22 22.85)"/><ellipse cx="3.56" cy="39.45" rx="0.68" ry="0.68" fill="#d4d4d4" transform="rotate(58.8 3.56 39.45)"/><ellipse cx="40.87" cy="27.88" rx="0.74" ry="0.83" fill="#cccccc" transform="rotate(114.2 40.87 27.88)"/><ellipse cx="0.55" cy="26.18" rx="1.18" ry="0.59" fill="#e2e2e2" transform="rotate(102.74 0.55 26.18)"/><ellipse cx="48.55" cy="26.18" rx="1.18" ry="0.59" fill="#e2e2e2" transform="rotate(102.74 48.55 26.18)"/><ellipse cx="11.96" cy="41.39" rx="1.32" ry="0.75" fill="#dedede" transform="rotate(26.82 11.96 41.39)"/><ellipse cx="32.16" cy="19.44" rx="0.96" ry="0.64" fill="#c4c4c4" transform="rotate(4.02 32.16 19.44)"/><ellipse cx="33.53" cy="29.65" rx="1.48" ry="0.56" fill="#cccccc" transform="rotate(55 33.53 29.65)"/><ellipse cx="0.39" cy="-1.77" rx="1.3" ry="0.64" fill="#c4c4c4" transform="rotate(7.92 0.39 -1.77)"/><ellipse cx="0.39" cy="46.23" rx="1.3" ry="0.64" fill="#c4c4c4" transform="rotate(7.92 0.39 46.23)"/><ellipse cx="48.39" cy="-1.77" rx="1.3" ry="0.64" fill="#c4c4c4" transform="rotate(7.92 48.39 -1.77)"/><ellipse cx="48.39" cy="46.23" rx="1.3" ry="0.64" fill="#c4c4c4" transform="rotate(7.92 48.39 46.23)"/><ellipse cx="42.13" cy="36.46" rx="1.19" ry="0.91" fill="#dadada" transform="rotate(7.66 42.13 36.46)"/><ellipse cx="-2.79" cy="8.82" rx="1.41" ry="0.61" fill="#cccccc" transform="rotate(74.38 -2.79 8.82)"/><ellipse cx="45.21" cy="8.82" rx="1.41" ry="0.61" fill="#cccccc" transform="rotate(74.38 45.21 8.82)"/><ellipse cx="44.58" cy="33.41" rx="0.86" ry="0.7" fill="#e6e6e6" transform="rotate(134.74 44.58 33.41)"/><ellipse cx="18.4" cy="33.31" rx="0.79" ry="0.5" fill="#c4c4c4" transform="rotate(65.42 18.4 33.31)"/><ellipse cx="0" cy="31.14" rx="0.99" ry="0.52" fill="#dedede" transform="rotate(102.63 0 31.14)"/><ellipse cx="48" cy="31.14" rx="0.99" ry="0.52" fill="#dedede" transform="rotate(102.63 48 31.14)"/><ellipse cx="-0.97" cy="36.44" rx="1.03" ry="0.89" fill="#d4d4d4" transform="rotate(79.66 -0.97 36.44)"/><ellipse cx="47.03" cy="36.44" rx="1.03" ry="0.89" fill="#d4d4d4" transform="rotate(79.66 47.03 36.44)"/><ellipse cx="36.06" cy="19.43" rx="0.76" ry="0.63" fill="#cccccc" transform="rotate(103.13 36.06 19.43)"/><ellipse cx="9.91" cy="31.34" rx="0.71" ry="0.85" fill="#e6e6e6" transform="rotate(103.38 9.91 31.34)"/><ellipse cx="38.03" cy="12.45" rx="1.34" ry="0.82" fill="#c4c4c4" transform="rotate(116.42 38.03 12.45)"/><ellipse cx="26.91" cy="20.91" rx="1.14" ry="0.71" fill="#dadada" transform="rotate(51.4 26.91 20.91)"/><ellipse cx="42.49" cy="36.42" rx="0.78" ry="0.52" fill="#e6e6e6" transform="rotate(131.59 42.49 36.42)"/><ellipse cx="19.12" cy="39.36" rx="1.15" ry="0.53" fill="#e6e6e6" transform="rotate(42 19.12 39.36)"/><ellipse cx="28.27" cy="21.54" rx="1.15" ry="0.85" fill="#cccccc" transform="rotate(176.89 28.27 21.54)"/><ellipse cx="24.64" cy="-2.07" rx="0.52" ry="0.93" fill="#e6e6e6" transform="rotate(74.35 24.64 -2.07)"/><ellipse cx="24.64" cy="45.93" rx="0.52" ry="0.93" fill="#e6e6e6" transform="rotate(74.35 24.64 45.93)"/><ellipse cx="1.5" cy="38.05" rx="1.12" ry="0.75" fill="#e2e2e2" transform="rotate(55.92 1.5 38.05)"/><ellipse cx="49.5" cy="38.05" rx="1.12" ry="0.75" fill="#e2e2e2" transform="rotate(55.92 49.5 38.05)"/><ellipse cx="17.12" cy="35.67" rx="0.63" ry="0.95" fill="#dedede" transform="rotate(31.1 17.12 35.67)"/><ellipse cx="36.92" cy="32.28" rx="0.76" ry="0.54" fill="#e2e2e2" transform="rotate(121.73 36.92 32.28)"/><ellipse cx="36.67" cy="36.48" rx="0.58" ry="0.89" fill="#e2e2e2" transform="rotate(2.17 36.67 36.48)"/><ellipse cx="32.27" cy="41.81" rx="1.06" ry="0.66" fill="#dedede" transform="rotate(20.87 32.27 41.81)"/><ellipse cx="15.1" cy="39.09" rx="0.86" ry="0.94" fill="#cccccc" transform="rotate(72.16 15.1 39.09)"/><ellipse cx="22.28" cy="9.34" rx="1.18" ry="0.66" fill="#dadada" transform="rotate(131.6 22.28 9.34)"/><ellipse cx="26.12" cy="41.23" rx="1.09" ry="0.61" fill="#e6e6e6" transform="rotate(136.44 26.12 41.23)"/><ellipse cx="11.89" cy="32.61" rx="1.41" ry="0.92" fill="#cccccc" transform="rotate(8.82 11.89 32.61)"/><ellipse cx="-1.35" cy="0.08" rx="0.7" ry="0.54" fill="#d4d4d4" transform="rotate(142.72 -1.35 0.08)"/><ellipse cx="-1.35" cy="48.08" rx="0.7" ry="0.54" fill="#d4d4d4" transform="rotate(142.72 -1.35 48.08)"/><ellipse cx="46.65" cy="0.08" rx="0.7" ry="0.54" fill="#d4d4d4" transform="rotate(142.72 46.65 0.08)"/><ellipse cx="46.65" cy="48.08" rx="0.7" ry="0.54" fill="#d4d4d4" transform="rotate(142.72 46.65 48.08)"/><ellipse cx="17.03" cy="25.6" rx="0.59" ry="0.64" fill="#cccccc" transform="rotate(90.6 17.03 25.6)"/><ellipse cx="43.13" cy="39.35" rx="0.71" ry="0.87" fill="#d4d4d4" transform="rotate(74.69 43.13 39.35)"/><ellipse cx="5.23" cy="4.24" rx="0.57" ry="0.83" fill="#e6e6e6" transform="rotate(121.21 5.23 4.24)"/><ellipse cx="9.46" cy="21.35" rx="0.59" ry="0.61" fill="#e2e2e2" transform="rotate(159.24 9.46 21.35)"/><ellipse cx="31.65" cy="6.81" rx="0.73" ry="0.69" fill="#c4c4c4" transform="rotate(72.8 31.65 6.81)"/><ellipse cx="2.91" cy="41.71" rx="1.12" ry="0.89" fill="#cccccc" transform="rotate(63.76 2.91 41.71)"/><ellipse cx="50.91" cy="41.71" rx="1.12" ry="0.89" fill="#cccccc" transform="rotate(63.76 50.91 41.71)"/><ellipse cx="30.75" cy="7.65" rx="1.12" ry="0.67" fill="#d4d4d4" transform="rotate(138.59 30.75 7.65)"/><ellipse cx="42.15" cy="41.09" rx="1.34" ry="0.73" fill="#c4c4c4" transform="rotate(157.55 42.15 41.09)"/><ellipse cx="10.15" cy="37.24" rx="1.44" ry="0.58" fill="#e2e2e2" transform="rotate(78.82 10.15 37.24)"/><ellipse cx="22.12" cy="5.81" rx="1.47" ry="0.75" fill="#d4d4d4" transform="rotate(133.27 22.12 5.81)"/><ellipse cx="10.86" cy="42.54" rx="1.46" ry="0.56" fill="#e6e6e6" transform="rotate(22.59 10.86 42.54)"/><ellipse cx="41.5" cy="42.86" rx="1.48" ry="0.42" fill="#e6e6e6" transform="rotate(69.47 41.5 42.86)"/><ellipse cx="11.26" cy="20.11" rx="1.24" ry="0.45" fill="#cccccc" transform="rotate(167.09 11.26 20.11)"/><ellipse cx="38.93" cy="8.44" rx="0.82" ry="0.76" fill="#dadada" transform="rotate(163.41 38.93 8.44)"/><ellipse cx="22.57" cy="33.54" rx="0.79" ry="0.9" fill="#dadada" transform="rotate(19.59 22.57 33.54)"/><ellipse cx="28.43" cy="2.97" rx="1.44" ry="0.59" fill="#dadada" transform="rotate(12.27 28.43 2.97)"/><ellipse cx="28.43" cy="50.97" rx="1.44" ry="0.59" fill="#dadada" transform="rotate(12.27 28.43 50.97)"/><ellipse cx="5.73" cy="41.37" rx="1.19" ry="0.77" fill="#cccccc" transform="rotate(84.56 5.73 41.37)"/><ellipse cx="40.99" cy="39.47" rx="1.21" ry="0.63" fill="#d4d4d4" transform="rotate(45.32 40.99 39.47)"/><ellipse cx="40.52" cy="16.9" rx="1.15" ry="0.44" fill="#dadada" transform="rotate(140.81 40.52 16.9)"/><ellipse cx="26.23" cy="30.14" rx="0.66" ry="0.55" fill="#d4d4d4" transform="rotate(123.96 26.23 30.14)"/><ellipse cx="23.5" cy="24.44" rx="0.59" ry="0.58" fill="#e6e6e6" transform="rotate(12.88 23.5 24.44)"/><ellipse cx="-2.67" cy="25.26" rx="1.25" ry="0.81" fill="#e2e2e2" transform="rotate(35.14 -2.67 25.26)"/><ellipse cx="45.33" cy="25.26" rx="1.25" ry="0.81" fill="#e2e2e2" transform="rotate(35.14 45.33 25.26)"/><ellipse cx="34.72" cy="18.89" rx="1.45" ry="0.78" fill="#c4c4c4" transform="rotate(52.3 34.72 18.89)"/><ellipse cx="38.99" cy="6.89" rx="1.2" ry="0.78" fill="#cccccc" transform="rotate(168.9 38.99 6.89)"/><ellipse cx="11.58" cy="24.29" rx="0.95" ry="0.84" fill="#e6e6e6" transform="rotate(74.58 11.58 24.29)"/><ellipse cx="19.1" cy="21.05" rx="1.06" ry="0.99" fill="#e6e6e6" transform="rotate(96.01 19.1 21.05)"/><ellipse cx="-1.95" cy="3.76" rx="1.32" ry="0.77" fill="#cccccc" transform="rotate(56.8 -1.95 3.76)"/><ellipse cx="46.05" cy="3.76" rx="1.32" ry="0.77" fill="#cccccc" transform="rotate(56.8 46.05 3.76)"/><ellipse cx="3.83" cy="-1.58" rx="1.11" ry="0.56" fill="#cccccc" transform="rotate(83.58 3.83 -1.58)"/><ellipse cx="3.83" cy="46.42" rx="1.11" ry="0.56" fill="#cccccc" transform="rotate(83.58 3.83 46.42)"/><ellipse cx="-0.06" cy="21.79" rx="1.07" ry="0.77" fill="#e6e6e6" transform="rotate(87.02 -0.06 21.79)"/><ellipse cx="47.94" cy="21.79" rx="1.07" ry="0.77" fill="#e6e6e6" transform="rotate(87.02 47.94 21.79)"/><ellipse cx="5.19" cy="18.21" rx="1" ry="0.83" fill="#c4c4c4" transform="rotate(53.7 5.19 18.21)"/><ellipse cx="42.08" cy="-0.79" rx="1.18" ry="0.58" fill="#d4d4d4" transform="rotate(24.72 42.08 -0.79)"/><ellipse cx="42.08" cy="47.21" rx="1.18" ry="0.58" fill="#d4d4d4" transform="rotate(24.72 42.08 47.21)"/><ellipse cx="34.7" cy="2.02" rx="0.91" ry="0.63" fill="#e6e6e6" transform="rotate(144.67 34.7 2.02)"/><ellipse cx="34.7" cy="50.02" rx="0.91" ry="0.63" fill="#e6e6e6" transform="rotate(144.67 34.7 50.02)"/><ellipse cx="44.62" cy="37.64" rx="0.65" ry="0.4" fill="#dedede" transform="rotate(172.91 44.62 37.64)"/><ellipse cx="21.61" cy="11.73" rx="1.34" ry="0.81" fill="#cccccc" transform="rotate(115.97 21.61 11.73)"/><ellipse cx="32.49" cy="16.91" rx="1.15" ry="0.97" fill="#c4c4c4" transform="rotate(142.73 32.49 16.91)"/><ellipse cx="16.67" cy="1.19" rx="0.86" ry="0.43" fill="#dadada" transform="rotate(151.82 16.67 1.19)"/><ellipse cx="16.67" cy="49.19" rx="0.86" ry="0.43" fill="#dadada" transform="rotate(151.82 16.67 49.19)"/><ellipse cx="23.55" cy="36.07" rx="0.7" ry="0.83" fill="#cccccc" transform="rotate(176.13 23.55 36.07)"/><ellipse cx="42.24" cy="-2.78" rx="0.51" ry="0.55" fill="#dedede" transform="rotate(57.9 42.24 -2.78)"/><ellipse cx="42.24" cy="45.22" rx="0.51" ry="0.55" fill="#dedede" transform="rotate(57.9 42.24 45.22)"/><ellipse cx="3.34" cy="30.22" rx="0.51" ry="0.91" fill="#e2e2e2" transform="rotate(54.43 3.34 30.22)"/><ellipse cx="6.56" cy="19.34" rx="0.65" ry="0.85" fill="#cccccc" transform="rotate(17.16 6.56 19.34)"/><ellipse cx="41.59" cy="11.87" rx="0.52" ry="0.81" fill="#e6e6e6" transform="rotate(56.33 41.59 11.87)"/><ellipse cx="26.49" cy="19.83" rx="1.45" ry="0.6" fill="#e6e6e6" transform="rotate(85.67 26.49 19.83)"/><ellipse cx="33.73" cy="18.31" rx="1.34" ry="0.9" fill="#e6e6e6" transform="rotate(30.84 33.73 18.31)"/><ellipse cx="17.22" cy="26.75" rx="1.4" ry="0.94" fill="#cccccc" transform="rotate(32.17 17.22 26.75)"/><ellipse cx="16.42" cy="8.47" rx="0.73" ry="0.92" fill="#e2e2e2" transform="rotate(23.52 16.42 8.47)"/><ellipse cx="14.62" cy="22.27" rx="0.79" ry="0.46" fill="#cccccc" transform="rotate(11.91 14.62 22.27)"/><ellipse cx="39.41" cy="43.05" rx="1.06" ry="0.55" fill="#d4d4d4" transform="rotate(164.21 39.41 43.05)"/><ellipse cx="8.32" cy="-1.18" rx="1.23" ry="0.87" fill="#c4c4c4" transform="rotate(94.56 8.32 -1.18)"/><ellipse cx="8.32" cy="46.82" rx="1.23" ry="0.87" fill="#c4c4c4" transform="rotate(94.56 8.32 46.82)"/><ellipse cx="-1.01" cy="7.5" rx="0.84" ry="0.99" fill="#e6e6e6" transform="rotate(142.59 -1.01 7.5)"/><ellipse cx="46.99" cy="7.5" rx="0.84" ry="0.99" fill="#e6e6e6" transform="rotate(142.59 46.99 7.5)"/><ellipse cx="11.37" cy="32.03" rx="0.67" ry="0.83" fill="#dadada" transform="rotate(44.26 11.37 32.03)"/><ellipse cx="44.65" cy="2.28" rx="0.95" ry="0.94" fill="#dadada" transform="rotate(59.84 44.65 2.28)"/><ellipse cx="44.65" cy="50.28" rx="0.95" ry="0.94" fill="#dadada" transform="rotate(59.84 44.65 50.28)"/><ellipse cx="16.16" cy="27.59" rx="1.07" ry="0.94" fill="#dadada" transform="rotate(17.83 16.16 27.59)"/><ellipse cx="33.94" cy="9.35" rx="1.19" ry="0.75" fill="#e2e2e2" transform="rotate(86.9 33.94 9.35)"/><ellipse cx="21.44" cy="34.13" rx="1.19" ry="0.98" fill="#dedede" transform="rotate(145.93 21.44 34.13)"/><ellipse cx="-1.13" cy="24.52" rx="1.18" ry="0.6" fill="#dadada" transform="rotate(26.8 -1.13 24.52)"/><ellipse cx="46.87" cy="24.52" rx="1.18" ry="0.6" fill="#dadada" transform="rotate(26.8 46.87 24.52)"/><ellipse cx="2.94" cy="29.31" rx="0.5" ry="0.54" fill="#dadada" transform="rotate(66.54 2.94 29.31)"/><ellipse cx="50.94" cy="29.31" rx="0.5" ry="0.54" fill="#dadada" transform="rotate(66.54 50.94 29.31)"/><ellipse cx="8.59" cy="21.3" rx="0.63" ry="0.49" fill="#dadada" transform="rotate(94.05 8.59 21.3)"/><ellipse cx="28.57" cy="24.76" rx="1.2" ry="0.93" fill="#c4c4c4" transform="rotate(76.43 28.57 24.76)"/><ellipse cx="3.88" cy="19.98" rx="1.35" ry="0.74" fill="#e6e6e6" transform="rotate(46.03 3.88 19.98)"/><ellipse cx="5.2" cy="6.57" rx="0.52" ry="0.66" fill="#dadada" transform="rotate(154.57 5.2 6.57)"/><ellipse cx="10.03" cy="19.17" rx="1.24" ry="0.94" fill="#dedede" transform="rotate(21.35 10.03 19.17)"/><ellipse cx="4.23" cy="25.31" rx="0.64" ry="0.76" fill="#dedede" transform="rotate(153.24 4.23 25.31)"/><ellipse cx="11.55" cy="15.79" rx="0.93" ry="0.98" fill="#cccccc" transform="rotate(70.89 11.55 15.79)"/><ellipse cx="18.08" cy="24.28" rx="0.77" ry="0.79" fill="#e6e6e6" transform="rotate(45.98 18.08 24.28)"/><ellipse cx="16.88" cy="10.64" rx="0.58" ry="0.48" fill="#cccccc" transform="rotate(38.8 16.88 10.64)"/><ellipse cx="20" cy="21.27" rx="1.46" ry="0.98" fill="#d4d4d4" transform="rotate(137.83 20 21.27)"/><ellipse cx="4.42" cy="36.85" rx="1.14" ry="0.71" fill="#e2e2e2" transform="rotate(4.67 4.42 36.85)"/><ellipse cx="11.58" cy="35.97" rx="1.1" ry="0.67" fill="#e2e2e2" transform="rotate(84.9 11.58 35.97)"/><ellipse cx="30.64" cy="36.44" rx="1.25" ry="0.7" fill="#d4d4d4" transform="rotate(123.13 30.64 36.44)"/><ellipse cx="-1.99" cy="36.32" rx="0.85" ry="0.41" fill="#dedede" transform="rotate(78.7 -1.99 36.32)"/><ellipse cx="46.01" cy="36.32" rx="0.85" ry="0.41" fill="#dedede" transform="rotate(78.7 46.01 36.32)"/><ellipse cx="15.02" cy="28.51" rx="0.53" ry="0.73" fill="#e2e2e2" transform="rotate(25.79 15.02 28.51)"/><ellipse cx="4.56" cy="21.35" rx="0.79" ry="0.69" fill="#dadada" transform="rotate(92.49 4.56 21.35)"/><ellipse cx="2.53" cy="20.62" rx="1.41" ry="0.96" fill="#d4d4d4" transform="rotate(117.36 2.53 20.62)"/><ellipse cx="50.53" cy="20.62" rx="1.41" ry="0.96" fill="#d4d4d4" transform="rotate(117.36 50.53 20.62)"/><ellipse cx="42.11" cy="22.86" rx="1.06" ry="0.44" fill="#e2e2e2" transform="rotate(2.74 42.11 22.86)"/><ellipse cx="23.49" cy="20.43" rx="1.16" ry="0.9" fill="#e2e2e2" transform="rotate(71.43 23.49 20.43)"/><ellipse cx="18.08" cy="17.68" rx="1.21" ry="0.75" fill="#dedede" transform="rotate(150.56 18.08 17.68)"/><ellipse cx="24.11" cy="8.81" rx="0.75" ry="0.89" fill="#d4d4d4" transform="rotate(62.88 24.11 8.81)"/><ellipse cx="-0.1" cy="24.11" rx="1.27" ry="0.56" fill="#c4c4c4" transform="rotate(171.24 -0.1 24.11)"/><ellipse cx="47.9" cy="24.11" rx="1.27" ry="0.56" fill="#c4c4c4" transform="rotate(171.24 47.9 24.11)"/><ellipse cx="10.4" cy="24.22" rx="1.1" ry="0.45" fill="#dadada" transform="rotate(106.31 10.4 24.22)"/><ellipse cx="39.85" cy="20.77" rx="0.61" ry="0.75" fill="#e6e6e6" transform="rotate(22.26 39.85 20.77)"/><ellipse cx="5.34" cy="42.03" rx="1.41" ry="0.87" fill="#d4d4d4" transform="rotate(114.59 5.34 42.03)"/><ellipse cx="26.67" cy="32.44" rx="1.15" ry="0.92" fill="#dadada" transform="rotate(154.08 26.67 32.44)"/><ellipse cx="43.44" cy="32.1" rx="0.82" ry="0.58" fill="#e6e6e6" transform="rotate(114.54 43.44 32.1)"/><ellipse cx="40.74" cy="32.97" rx="1.04" ry="0.82" fill="#e6e6e6" transform="rotate(35.14 40.74 32.97)"/><ellipse cx="17.4" cy="13.77" rx="1.41" ry="0.95" fill="#dedede" transform="rotate(131.94 17.4 13.77)"/><ellipse cx="28.79" cy="22.27" rx="1.2" ry="0.46" fill="#dedede" transform="rotate(157.55 28.79 22.27)"/><ellipse cx="32.24" cy="21.7" rx="1.35" ry="0.72" fill="#dedede" transform="rotate(64.22 32.24 21.7)"/><ellipse cx="17.25" cy="35.87" rx="0.66" ry="0.95" fill="#cccccc" transform="rotate(8.99 17.25 35.87)"/><ellipse cx="40.71" cy="17.94" rx="1.03" ry="0.75" fill="#dadada" transform="rotate(129.22 40.71 17.94)"/><ellipse cx="0.21" cy="40.13" rx="1.36" ry="0.52" fill="#dedede" transform="rotate(104.42 0.21 40.13)"/><ellipse cx="48.21" cy="40.13" rx="1.36" ry="0.52" fill="#dedede" transform="rotate(104.42 48.21 40.13)"/><ellipse cx="14.58" cy="35.97" rx="0.88" ry="0.76" fill="#e6e6e6" transform="rotate(57.73 14.58 35.97)"/><ellipse cx="17.21" cy="38.8" rx="1.14" ry="0.7" fill="#e6e6e6" transform="rotate(122.46 17.21 38.8)"/><ellipse cx="9.14" cy="44.69" rx="1.46" ry="0.48" fill="#c4c4c4" transform="rotate(139.6 9.14 44.69)"/><ellipse cx="12.64" cy="37.47" rx="0.8" ry="0.87" fill="#dedede" transform="rotate(91.51 12.64 37.47)"/><ellipse cx="43" cy="20.19" rx="0.88" ry="0.68" fill="#dedede" transform="rotate(42.58 43 20.19)"/><ellipse cx="4.35" cy="12.45" rx="1.5" ry="0.85" fill="#c4c4c4" transform="rotate(161.28 4.35 12.45)"/><ellipse cx="21.3" cy="39.81" rx="1.45" ry="0.8" fill="#cccccc" transform="rotate(127.48 21.3 39.81)"/><ellipse cx="39.35" cy="34.12" rx="1.26" ry="0.95" fill="#cccccc" transform="rotate(77.26 39.35 34.12)"/><ellipse cx="28.7" cy="5.8" rx="1.11" ry="0.78" fill="#d4d4d4" transform="rotate(64.42 28.7 5.8)"/><ellipse cx="32.66" cy="26.87" rx="1.37" ry="0.83" fill="#cccccc" transform="rotate(156.35 32.66 26.87)"/><ellipse cx="22.82" cy="26.59" rx="0.88" ry="0.72" fill="#cccccc" transform="rotate(79.79 22.82 26.59)"/><ellipse cx="39.06" cy="0.12" rx="1.4" ry="0.6" fill="#dedede" transform="rotate(113.16 39.06 0.12)"/><ellipse cx="39.06" cy="48.12" rx="1.4" ry="0.6" fill="#dedede" transform="rotate(113.16 39.06 48.12)"/><ellipse cx="28.69" cy="6.62" rx="0.87" ry="0.77" fill="#e2e2e2" transform="rotate(151.4 28.69 6.62)"/><ellipse cx="21.89" cy="7.46" rx="0.86" ry="0.74" fill="#e2e2e2" transform="rotate(67.04 21.89 7.46)"/><ellipse cx="4.11" cy="27.23" rx="0.86" ry="0.52" fill="#e6e6e6" transform="rotate(132.51 4.11 27.23)"/><ellipse cx="-2.84" cy="25.43" rx="0.52" ry="0.45" fill="#e6e6e6" transform="rotate(136.32 -2.84 25.43)"/><ellipse cx="45.16" cy="25.43" rx="0.52" ry="0.45" fill="#e6e6e6" transform="rotate(136.32 45.16 25.43)"/><ellipse cx="35.17" cy="26.98" rx="0.89" ry="0.76" fill="#cccccc" transform="rotate(172.28 35.17 26.98)"/><ellipse cx="0" cy="9.87" rx="1.11" ry="0.91" fill="#dadada" transform="rotate(117.02 0 9.87)"/><ellipse cx="48" cy="9.87" rx="1.11" ry="0.91" fill="#dadada" transform="rotate(117.02 48 9.87)"/><ellipse cx="17.49" cy="35.19" rx="1.36" ry="0.94" fill="#cccccc" transform="rotate(102.93 17.49 35.19)"/><ellipse cx="35.75" cy="38.95" rx="0.88" ry="0.85" fill="#d4d4d4" transform="rotate(69.46 35.75 38.95)"/><ellipse cx="36.41" cy="17.85" rx="0.87" ry="0.9" fill="#dadada" transform="rotate(140.36 36.41 17.85)"/><ellipse cx="15.3" cy="10" rx="1.23" ry="0.51" fill="#e2e2e2" transform="rotate(105.29 15.3 10)"/><ellipse cx="17.35" cy="20.36" rx="1.47" ry="0.8" fill="#e2e2e2" transform="rotate(163.08 17.35 20.36)"/><ellipse cx="19.41" cy="8.92" rx="1.45" ry="0.85" fill="#dedede" transform="rotate(98.19 19.41 8.92)"/><ellipse cx="33.55" cy="43.71" rx="0.52" ry="0.66" fill="#cccccc" transform="rotate(98.34 33.55 43.71)"/><ellipse cx="4.75" cy="-0.91" rx="0.87" ry="1" fill="#dadada" transform="rotate(138.51 4.75 -0.91)"/><ellipse cx="4.75" cy="47.09" rx="0.87" ry="1" fill="#dadada" transform="rotate(138.51 4.75 47.09)"/><ellipse cx="38.92" cy="27.08" rx="0.6" ry="0.69" fill="#dedede" transform="rotate(143.88 38.92 27.08)"/><ellipse cx="26.08" cy="37.55" rx="1.32" ry="0.9" fill="#e6e6e6" transform="rotate(51.92 26.08 37.55)"/><ellipse cx="23.64" cy="41.59" rx="0.52" ry="0.93" fill="#dedede" transform="rotate(43.14 23.64 41.59)"/><ellipse cx="17.55" cy="30.05" rx="0.95" ry="0.75" fill="#dadada" transform="rotate(56.67 17.55 30.05)"/><ellipse cx="34.1" cy="44" rx="1.4" ry="0.56" fill="#e6e6e6" transform="rotate(90.32 34.1 44)"/><ellipse cx="4.32" cy="3.39" rx="0.68" ry="0.84" fill="#c4c4c4" transform="rotate(58.52 4.32 3.39)"/><ellipse cx="38.36" cy="18.97" rx="0.54" ry="0.56" fill="#d4d4d4" transform="rotate(125.28 38.36 18.97)"/><ellipse cx="33.73" cy="41.47" rx="1.32" ry="0.77" fill="#e2e2e2" transform="rotate(155.88 33.73 41.47)"/><ellipse cx="43.19" cy="3.61" rx="1.11" ry="0.85" fill="#e6e6e6" transform="rotate(38.31 43.19 3.61)"/><ellipse cx="42.37" cy="5.08" rx="1.4" ry="0.56" fill="#e6e6e6" transform="rotate(135.9 42.37 5.08)"/><ellipse cx="9.58" cy="7.6" rx="1.04" ry="0.72" fill="#c4c4c4" transform="rotate(13 9.58 7.6)"/><ellipse cx="30.8" cy="1.47" rx="0.94" ry="0.56" fill="#c4c4c4" transform="rotate(40.41 30.8 1.47)"/><ellipse cx="30.8" cy="49.47" rx="0.94" ry="0.56" fill="#c4c4c4" transform="rotate(40.41 30.8 49.47)"/><ellipse cx="-2.86" cy="17.38" rx="1.33" ry="0.67" fill="#e6e6e6" transform="rotate(58.88 -2.86 17.38)"/><ellipse cx="45.14" cy="17.38" rx="1.33" ry="0.67" fill="#e6e6e6" transform="rotate(58.88 45.14 17.38)"/><ellipse cx="35.13" cy="38.94" rx="1.36" ry="0.62" fill="#dedede" transform="rotate(73.14 35.13 38.94)"/><ellipse cx="2.47" cy="21.88" rx="1.45" ry="0.91" fill="#d4d4d4" transform="rotate(66.4 2.47 21.88)"/><ellipse cx="50.47" cy="21.88" rx="1.45" ry="0.91" fill="#d4d4d4" transform="rotate(66.4 50.47 21.88)"/><ellipse cx="1.06" cy="39.07" rx="0.7" ry="0.45" fill="#c4c4c4" transform="rotate(163.64 1.06 39.07)"/><ellipse cx="49.06" cy="39.07" rx="0.7" ry="0.45" fill="#c4c4c4" transform="rotate(163.64 49.06 39.07)"/><ellipse cx="6.7" cy="23.19" rx="1.48" ry="0.75" fill="#cccccc" transform="rotate(110.83 6.7 23.19)"/><ellipse cx="25.54" cy="30.12" rx="1.46" ry="0.57" fill="#e2e2e2" transform="rotate(31.29 25.54 30.12)"/><ellipse cx="1.02" cy="14.15" rx="1.38" ry="0.73" fill="#cccccc" transform="rotate(70.77 1.02 14.15)"/><ellipse cx="49.02" cy="14.15" rx="1.38" ry="0.73" fill="#cccccc" transform="rotate(70.77 49.02 14.15)"/><ellipse cx="22.63" cy="9.51" rx="0.95" ry="0.67" fill="#e6e6e6" transform="rotate(67.57 22.63 9.51)"/><ellipse cx="16.37" cy="23.61" rx="1.03" ry="0.84" fill="#d4d4d4" transform="rotate(21.09 16.37 23.61)"/><ellipse cx="3.99" cy="4.3" rx="0.56" ry="0.98" fill="#dedede" transform="rotate(90.99 3.99 4.3)"/><ellipse cx="44.33" cy="10.32" rx="0.74" ry="0.77" fill="#e6e6e6" transform="rotate(32.31 44.33 10.32)"/><ellipse cx="27.26" cy="14.93" rx="0.68" ry="0.58" fill="#dadada" transform="rotate(26.99 27.26 14.93)"/><ellipse cx="-2.83" cy="-0.68" rx="0.69" ry="0.83" fill="#e2e2e2" transform="rotate(169.28 -2.83 -0.68)"/><ellipse cx="-2.83" cy="47.32" rx="0.69" ry="0.83" fill="#e2e2e2" transform="rotate(169.28 -2.83 47.32)"/><ellipse cx="45.17" cy="-0.68" rx="0.69" ry="0.83" fill="#e2e2e2" transform="rotate(169.28 45.17 -0.68)"/><ellipse cx="45.17" cy="47.32" rx="0.69" ry="0.83" fill="#e2e2e2" transform="rotate(169.28 45.17 47.32)"/><ellipse cx="16.89" cy="21.63" rx="1.04" ry="0.87" fill="#e2e2e2" transform="rotate(54.64 16.89 21.63)"/><ellipse cx="1.77" cy="32.47" rx="0.52" ry="0.8" fill="#e6e6e6" transform="rotate(71.75 1.77 32.47)"/><ellipse cx="49.77" cy="32.47" rx="0.52" ry="0.8" fill="#e6e6e6" transform="rotate(71.75 49.77 32.47)"/><ellipse cx="42.42" cy="8.39" rx="1.13" ry="0.48" fill="#e2e2e2" transform="rotate(48.8 42.42 8.39)"/><ellipse cx="-2.91" cy="8.43" rx="0.73" ry="0.99" fill="#e6e6e6" transform="rotate(18.38 -2.91 8.43)"/><ellipse cx="45.09" cy="8.43" rx="0.73" ry="0.99" fill="#e6e6e6" transform="rotate(18.38 45.09 8.43)"/><ellipse cx="40.62" cy="13.4" rx="1.26" ry="0.85" fill="#e2e2e2" transform="rotate(107.27 40.62 13.4)"/><ellipse cx="14.35" cy="28.76" rx="0.54" ry="0.55" fill="#c4c4c4" transform="rotate(120.07 14.35 28.76)"/><ellipse cx="34.13" cy="22.19" rx="1.4" ry="0.59" fill="#e2e2e2" transform="rotate(99.25 34.13 22.19)"/><ellipse cx="9.2" cy="19.23" rx="0.93" ry="0.83" fill="#e2e2e2" transform="rotate(90.8 9.2 19.23)"/><ellipse cx="21.65" cy="33.38" rx="1.36" ry="0.99" fill="#dedede" transform="rotate(41.34 21.65 33.38)"/><ellipse cx="44.68" cy="9.71" rx="1.09" ry="0.51" fill="#dadada" transform="rotate(72.79 44.68 9.71)"/><ellipse cx="14.65" cy="11.23" rx="0.79" ry="0.57" fill="#dadada" transform="rotate(95.92 14.65 11.23)"/><ellipse cx="24.68" cy="25.55" rx="1.39" ry="0.65" fill="#dadada" transform="rotate(98.29 24.68 25.55)"/><ellipse cx="35.16" cy="34.79" rx="0.9" ry="0.52" fill="#c4c4c4" transform="rotate(136.42 35.16 34.79)"/><ellipse cx="7.44" cy="2.38" rx="0.8" ry="0.55" fill="#dedede" transform="rotate(164.85 7.44 2.38)"/><ellipse cx="7.44" cy="50.38" rx="0.8" ry="0.55" fill="#dedede" transform="rotate(164.85 7.44 50.38)"/><ellipse cx="-1.42" cy="5.48" rx="1.19" ry="0.87" fill="#e2e2e2" transform="rotate(25.43 -1.42 5.48)"/><ellipse cx="46.58" cy="5.48" rx="1.19" ry="0.87" fill="#e2e2e2" transform="rotate(25.43 46.58 5.48)"/><ellipse cx="16.21" cy="40.86" rx="1.22" ry="0.78" fill="#e6e6e6" transform="rotate(55.32 16.21 40.86)"/><ellipse cx="28.16" cy="38.26" rx="1.47" ry="0.49" fill="#e6e6e6" transform="rotate(152.51 28.16 38.26)"/><ellipse cx="31.16" cy="16.02" rx="0.68" ry="0.66" fill="#dadada" transform="rotate(67.04 31.16 16.02)"/><ellipse cx="32.81" cy="10.6" rx="0.69" ry="0.47" fill="#dadada" transform="rotate(171.71 32.81 10.6)"/><ellipse cx="34.12" cy="31.94" rx="1.14" ry="0.94" fill="#dedede" transform="rotate(136.39 34.12 31.94)"/><ellipse cx="31.13" cy="18.25" rx="0.87" ry="0.94" fill="#dedede" transform="rotate(7.02 31.13 18.25)"/><ellipse cx="34.47" cy="36.04" rx="0.8" ry="0.72" fill="#e2e2e2" transform="rotate(13.47 34.47 36.04)"/><ellipse cx="44.2" cy="35.34" rx="1.2" ry="0.73" fill="#cccccc" transform="rotate(179.61 44.2 35.34)"/><ellipse cx="8.24" cy="-1.73" rx="1.49" ry="0.53" fill="#d4d4d4" transform="rotate(52.5 8.24 -1.73)"/><ellipse cx="8.24" cy="46.27" rx="1.49" ry="0.53" fill="#d4d4d4" transform="rotate(52.5 8.24 46.27)"/><ellipse cx="14.72" cy="8.94" rx="1.1" ry="0.57" fill="#e6e6e6" transform="rotate(113.28 14.72 8.94)"/><ellipse cx="37.15" cy="17.1" rx="0.83" ry="0.66" fill="#dadada" transform="rotate(126.03 37.15 17.1)"/><ellipse cx="34.36" cy="39.72" rx="0.78" ry="0.42" fill="#e6e6e6" transform="rotate(177.06 34.36 39.72)"/><ellipse cx="26.66" cy="22.12" rx="1.23" ry="0.46" fill="#cccccc" transform="rotate(32 26.66 22.12)"/><ellipse cx="35.81" cy="-2.05" rx="0.66" ry="0.69" fill="#dedede" transform="rotate(155.41 35.81 -2.05)"/><ellipse cx="35.81" cy="45.95" rx="0.66" ry="0.69" fill="#dedede" transform="rotate(155.41 35.81 45.95)"/><ellipse cx="39.43" cy="14.07" rx="0.72" ry="0.72" fill="#e2e2e2" transform="rotate(41.26 39.43 14.07)"/><ellipse cx="16.24" cy="30.94" rx="0.92" ry="0.98" fill="#e6e6e6" transform="rotate(158.92 16.24 30.94)"/><ellipse cx="35.93" cy="9.29" rx="1.4" ry="0.77" fill="#e2e2e2" transform="rotate(160 35.93 9.29)"/><ellipse cx="5.21" cy="26.33" rx="1.29" ry="0.91" fill="#d4d4d4" transform="rotate(97.02 5.21 26.33)"/><ellipse cx="3.89" cy="44.76" rx="1.04" ry="0.75" fill="#c4c4c4" transform="rotate(165.42 3.89 44.76)"/><ellipse cx="13.93" cy="31.31" rx="0.64" ry="0.59" fill="#d4d4d4" transform="rotate(4.01 13.93 31.31)"/></pattern>
<pattern id="lb" width="26.27" height="26.27" patternUnits="userSpaceOnUse" patternTransform="translate(5 3)"><rect width="26.27" height="26.27" fill="#fefefe"/><path d="M-21.46 -17.94L-34.6 -21.46M-4.81 -8.33L-17.94 -4.81M-34.6 -21.46L-31.08 -34.6M-17.94 -4.81L-21.46 -17.94M-31.08 -34.6L-17.94 -31.08M-21.46 -17.94L-8.33 -21.46M-17.94 -31.08L-21.46 -17.94M-8.33 -21.46L-4.81 -8.33M-21.46 -17.94L-31.08 -8.33M-17.94 -31.08L-4.81 -34.6M-21.46 8.33L-34.6 4.81M-4.81 17.94L-17.94 21.46M-34.6 4.81L-31.08 -8.33M-17.94 21.46L-21.46 8.33M-31.08 -8.33L-17.94 -4.81M-21.46 8.33L-8.33 4.81M-17.94 -4.81L-21.46 8.33M-8.33 4.81L-4.81 17.94M-21.46 8.33L-31.08 17.94M-17.94 -4.81L-4.81 -8.33M-21.46 34.6L-34.6 31.08M-4.81 44.22L-17.94 47.74M-34.6 31.08L-31.08 17.94M-17.94 47.74L-21.46 34.6M-31.08 17.94L-17.94 21.46M-21.46 34.6L-8.33 31.08M-17.94 21.46L-21.46 34.6M-8.33 31.08L-4.81 44.22M-21.46 34.6L-31.08 44.22M-17.94 21.46L-4.81 17.94M-21.46 60.87L-34.6 57.35M-4.81 70.49L-17.94 74.01M-34.6 57.35L-31.08 44.22M-17.94 74.01L-21.46 60.87M-31.08 44.22L-17.94 47.74M-21.46 60.87L-8.33 57.35M-17.94 47.74L-21.46 60.87M-8.33 57.35L-4.81 70.49M-21.46 60.87L-31.08 70.49M-17.94 47.74L-4.81 44.22M4.81 -17.94L-8.33 -21.46M21.46 -8.33L8.33 -4.81M-8.33 -21.46L-4.81 -34.6M8.33 -4.81L4.81 -17.94M-4.81 -34.6L8.33 -31.08M4.81 -17.94L17.94 -21.46M8.33 -31.08L4.81 -17.94M17.94 -21.46L21.46 -8.33M4.81 -17.94L-4.81 -8.33M8.33 -31.08L21.46 -34.6M4.81 8.33L-8.33 4.81M21.46 17.94L8.33 21.46M-8.33 4.81L-4.81 -8.33M8.33 21.46L4.81 8.33M-4.81 -8.33L8.33 -4.81M4.81 8.33L17.94 4.81M8.33 -4.81L4.81 8.33M17.94 4.81L21.46 17.94M4.81 8.33L-4.81 17.94M8.33 -4.81L21.46 -8.33M4.81 34.6L-8.33 31.08M21.46 44.22L8.33 47.74M-8.33 31.08L-4.81 17.94M8.33 47.74L4.81 34.6M-4.81 17.94L8.33 21.46M4.81 34.6L17.94 31.08M8.33 21.46L4.81 34.6M17.94 31.08L21.46 44.22M4.81 34.6L-4.81 44.22M8.33 21.46L21.46 17.94M4.81 60.87L-8.33 57.35M21.46 70.49L8.33 74.01M-8.33 57.35L-4.81 44.22M8.33 74.01L4.81 60.87M-4.81 44.22L8.33 47.74M4.81 60.87L17.94 57.35M8.33 47.74L4.81 60.87M17.94 57.35L21.46 70.49M4.81 60.87L-4.81 70.49M8.33 47.74L21.46 44.22M31.08 -17.94L17.94 -21.46M47.74 -8.33L34.6 -4.81M17.94 -21.46L21.46 -34.6M34.6 -4.81L31.08 -17.94M21.46 -34.6L34.6 -31.08M31.08 -17.94L44.22 -21.46M34.6 -31.08L31.08 -17.94M44.22 -21.46L47.74 -8.33M31.08 -17.94L21.46 -8.33M34.6 -31.08L47.74 -34.6M31.08 8.33L17.94 4.81M47.74 17.94L34.6 21.46M17.94 4.81L21.46 -8.33M34.6 21.46L31.08 8.33M21.46 -8.33L34.6 -4.81M31.08 8.33L44.22 4.81M34.6 -4.81L31.08 8.33M44.22 4.81L47.74 17.94M31.08 8.33L21.46 17.94M34.6 -4.81L47.74 -8.33M31.08 34.6L17.94 31.08M47.74 44.22L34.6 47.74M17.94 31.08L21.46 17.94M34.6 47.74L31.08 34.6M21.46 17.94L34.6 21.46M31.08 34.6L44.22 31.08M34.6 21.46L31.08 34.6M44.22 31.08L47.74 44.22M31.08 34.6L21.46 44.22M34.6 21.46L47.74 17.94M31.08 60.87L17.94 57.35M47.74 70.49L34.6 74.01M17.94 57.35L21.46 44.22M34.6 74.01L31.08 60.87M21.46 44.22L34.6 47.74M31.08 60.87L44.22 57.35M34.6 47.74L31.08 60.87M44.22 57.35L47.74 70.49M31.08 60.87L21.46 70.49M34.6 47.74L47.74 44.22M57.35 -17.94L44.22 -21.46M74.01 -8.33L60.87 -4.81M44.22 -21.46L47.74 -34.6M60.87 -4.81L57.35 -17.94M47.74 -34.6L60.87 -31.08M57.35 -17.94L70.49 -21.46M60.87 -31.08L57.35 -17.94M70.49 -21.46L74.01 -8.33M57.35 -17.94L47.74 -8.33M60.87 -31.08L74.01 -34.6M57.35 8.33L44.22 4.81M74.01 17.94L60.87 21.46M44.22 4.81L47.74 -8.33M60.87 21.46L57.35 8.33M47.74 -8.33L60.87 -4.81M57.35 8.33L70.49 4.81M60.87 -4.81L57.35 8.33M70.49 4.81L74.01 17.94M57.35 8.33L47.74 17.94M60.87 -4.81L74.01 -8.33M57.35 34.6L44.22 31.08M74.01 44.22L60.87 47.74M44.22 31.08L47.74 17.94M60.87 47.74L57.35 34.6M47.74 17.94L60.87 21.46M57.35 34.6L70.49 31.08M60.87 21.46L57.35 34.6M70.49 31.08L74.01 44.22M57.35 34.6L47.74 44.22M60.87 21.46L74.01 17.94M57.35 60.87L44.22 57.35M74.01 70.49L60.87 74.01M44.22 57.35L47.74 44.22M60.87 74.01L57.35 60.87M47.74 44.22L60.87 47.74M57.35 60.87L70.49 57.35M60.87 47.74L57.35 60.87M70.49 57.35L74.01 70.49M57.35 60.87L47.74 70.49M60.87 47.74L74.01 44.22" stroke="#d6d6d6" stroke-width="1" fill="none"/></pattern>
<pattern id="gg" width="25.8" height="26.5" patternUnits="userSpaceOnUse" patternTransform="translate(1.7 9.2)"><path d="M0.8 0V26.5 M0 0.8H25.8" stroke="#e2e5ce" stroke-width="1.3" fill="none"/></pattern>
<pattern id="gp" width="25.8" height="26.5" patternUnits="userSpaceOnUse" patternTransform="translate(14.5 10.1)"><path d="M0.8 0V26.5 M0 0.8H25.8" stroke="#e4d5cd" stroke-width="1.3" fill="none"/></pattern>
</defs>
<rect width="1104" height="768" fill="#ffffff"/>
<g id="all">
<g id="L-lobby" shape-rendering="auto">
<rect x="356.7" y="281.5" width="229.3" height="76.5" fill="url(#lb)"/>
<rect x="563" y="267.5" width="23" height="54.5" fill="url(#lb)"/>
<rect x="560" y="357" width="26" height="151" fill="url(#lb)"/>
<rect x="584.5" y="281.5" width="229.3" height="76.5" fill="url(#lb)"/>
<rect x="584.5" y="267.5" width="23" height="54.5" fill="url(#lb)"/>
<rect x="584.5" y="357" width="26" height="151" fill="url(#lb)"/>
</g>
<g id="L-fill" shape-rendering="auto">
<rect x="144.3" y="106.3" width="63.7" height="78.7" fill="#f0f3de"/>
<rect x="209" y="118.7" width="62.5" height="66.3" fill="#f0f3de"/>
<rect x="115" y="137" width="29.5" height="47" fill="#f0f3de"/>
<rect x="106" y="184.5" width="81.5" height="65.5" fill="#f0f3de"/>
<rect x="187" y="184.5" width="191.5" height="96.5" fill="#f0f3de"/>
<rect x="136" y="249.5" width="31.5" height="46.5" fill="#f0f3de"/>
<rect x="265.5" y="241" width="50" height="55" fill="#f0f3de"/>
<rect x="144.3" y="409.6" width="63.7" height="78.7" fill="#f0f3de"/>
<rect x="209" y="409.6" width="62.5" height="66.3" fill="#f0f3de"/>
<rect x="115" y="410.6" width="29.5" height="47" fill="#f0f3de"/>
<rect x="106" y="344.6" width="81.5" height="65.5" fill="#f0f3de"/>
<rect x="187" y="313.6" width="191.5" height="96.5" fill="#f0f3de"/>
<rect x="136" y="298.6" width="31.5" height="46.5" fill="#f0f3de"/>
<rect x="265.5" y="298.6" width="50" height="55" fill="#f0f3de"/>
<rect x="962.5" y="106.3" width="63.7" height="78.7" fill="#f3e4dd"/>
<rect x="899" y="118.7" width="62.5" height="66.3" fill="#f3e4dd"/>
<rect x="1026" y="137" width="29.5" height="47" fill="#f3e4dd"/>
<rect x="983" y="184.5" width="81.5" height="65.5" fill="#f3e4dd"/>
<rect x="792" y="184.5" width="191.5" height="96.5" fill="#f3e4dd"/>
<rect x="1003" y="249.5" width="31.5" height="46.5" fill="#f3e4dd"/>
<rect x="855" y="241" width="50" height="55" fill="#f3e4dd"/>
<rect x="962.5" y="409.6" width="63.7" height="78.7" fill="#f3e4dd"/>
<rect x="899" y="409.6" width="62.5" height="66.3" fill="#f3e4dd"/>
<rect x="1026" y="410.6" width="29.5" height="47" fill="#f3e4dd"/>
<rect x="983" y="344.6" width="81.5" height="65.5" fill="#f3e4dd"/>
<rect x="792" y="313.6" width="191.5" height="96.5" fill="#f3e4dd"/>
<rect x="1003" y="298.6" width="31.5" height="46.5" fill="#f3e4dd"/>
<rect x="855" y="298.6" width="50" height="55" fill="#f3e4dd"/>
<rect x="438" y="140" width="25" height="45" fill="#f3e4dd"/>
<rect x="465" y="121.5" width="56" height="64" fill="#f3e4dd"/>
<rect x="382" y="185" width="203.5" height="72" fill="#f3e4dd"/>
<rect x="471.5" y="256" width="47.5" height="18" fill="#f3e4dd"/>
<rect x="518" y="256" width="67.5" height="11" fill="#f3e4dd"/>
<rect x="707.5" y="140" width="25" height="45" fill="#f0f3de"/>
<rect x="649.5" y="121.5" width="56" height="64" fill="#f0f3de"/>
<rect x="585" y="185" width="203.5" height="72" fill="#f0f3de"/>
<rect x="651.5" y="256" width="47.5" height="18" fill="#f0f3de"/>
<rect x="585" y="256" width="67.5" height="11" fill="#f0f3de"/>
<rect x="467" y="484.5" width="93" height="63.5" fill="#f0f3de"/>
<rect x="467" y="547" width="117" height="53.5" fill="#f0f3de"/>
<rect x="397" y="562.5" width="70.5" height="62.5" fill="#f0f3de"/>
<rect x="467" y="600" width="32" height="27" fill="#f0f3de"/>
<rect x="423.5" y="626.5" width="75.5" height="62.5" fill="#f0f3de"/>
<rect x="499" y="600" width="27" height="89" fill="#f0f3de"/>
<rect x="610.5" y="484.5" width="93" height="63.5" fill="#f3e4dd"/>
<rect x="586.5" y="547" width="117" height="53.5" fill="#f3e4dd"/>
<rect x="703" y="562.5" width="70.5" height="62.5" fill="#f3e4dd"/>
<rect x="671.5" y="600" width="32" height="27" fill="#f3e4dd"/>
<rect x="671.5" y="626.5" width="75.5" height="62.5" fill="#f3e4dd"/>
<rect x="644.5" y="600" width="27" height="89" fill="#f3e4dd"/>
</g>
<g id="L-grid" shape-rendering="auto">
<rect x="144.3" y="106.3" width="63.7" height="78.7" fill="url(#gg)"/>
<rect x="209" y="118.7" width="62.5" height="66.3" fill="url(#gg)"/>
<rect x="115" y="137" width="29.5" height="47" fill="url(#gg)"/>
<rect x="106" y="184.5" width="81.5" height="65.5" fill="url(#gg)"/>
<rect x="187" y="184.5" width="191.5" height="96.5" fill="url(#gg)"/>
<rect x="136" y="249.5" width="31.5" height="46.5" fill="url(#gg)"/>
<rect x="265.5" y="241" width="50" height="55" fill="url(#gg)"/>
<rect x="144.3" y="409.6" width="63.7" height="78.7" fill="url(#gg)"/>
<rect x="209" y="409.6" width="62.5" height="66.3" fill="url(#gg)"/>
<rect x="115" y="410.6" width="29.5" height="47" fill="url(#gg)"/>
<rect x="106" y="344.6" width="81.5" height="65.5" fill="url(#gg)"/>
<rect x="187" y="313.6" width="191.5" height="96.5" fill="url(#gg)"/>
<rect x="136" y="298.6" width="31.5" height="46.5" fill="url(#gg)"/>
<rect x="265.5" y="298.6" width="50" height="55" fill="url(#gg)"/>
<rect x="962.5" y="106.3" width="63.7" height="78.7" fill="url(#gp)"/>
<rect x="899" y="118.7" width="62.5" height="66.3" fill="url(#gp)"/>
<rect x="1026" y="137" width="29.5" height="47" fill="url(#gp)"/>
<rect x="983" y="184.5" width="81.5" height="65.5" fill="url(#gp)"/>
<rect x="792" y="184.5" width="191.5" height="96.5" fill="url(#gp)"/>
<rect x="1003" y="249.5" width="31.5" height="46.5" fill="url(#gp)"/>
<rect x="855" y="241" width="50" height="55" fill="url(#gp)"/>
<rect x="962.5" y="409.6" width="63.7" height="78.7" fill="url(#gp)"/>
<rect x="899" y="409.6" width="62.5" height="66.3" fill="url(#gp)"/>
<rect x="1026" y="410.6" width="29.5" height="47" fill="url(#gp)"/>
<rect x="983" y="344.6" width="81.5" height="65.5" fill="url(#gp)"/>
<rect x="792" y="313.6" width="191.5" height="96.5" fill="url(#gp)"/>
<rect x="1003" y="298.6" width="31.5" height="46.5" fill="url(#gp)"/>
<rect x="855" y="298.6" width="50" height="55" fill="url(#gp)"/>
<rect x="438" y="140" width="25" height="45" fill="url(#gp)"/>
<rect x="465" y="121.5" width="56" height="64" fill="url(#gp)"/>
<rect x="382" y="185" width="203.5" height="72" fill="url(#gp)"/>
<rect x="471.5" y="256" width="47.5" height="18" fill="url(#gp)"/>
<rect x="518" y="256" width="67.5" height="11" fill="url(#gp)"/>
<rect x="707.5" y="140" width="25" height="45" fill="url(#gg)"/>
<rect x="649.5" y="121.5" width="56" height="64" fill="url(#gg)"/>
<rect x="585" y="185" width="203.5" height="72" fill="url(#gg)"/>
<rect x="651.5" y="256" width="47.5" height="18" fill="url(#gg)"/>
<rect x="585" y="256" width="67.5" height="11" fill="url(#gg)"/>
<rect x="467" y="484.5" width="93" height="63.5" fill="url(#gg)"/>
<rect x="467" y="547" width="117" height="53.5" fill="url(#gg)"/>
<rect x="397" y="562.5" width="70.5" height="62.5" fill="url(#gg)"/>
<rect x="467" y="600" width="32" height="27" fill="url(#gg)"/>
<rect x="423.5" y="626.5" width="75.5" height="62.5" fill="url(#gg)"/>
<rect x="499" y="600" width="27" height="89" fill="url(#gg)"/>
<rect x="610.5" y="484.5" width="93" height="63.5" fill="url(#gp)"/>
<rect x="586.5" y="547" width="117" height="53.5" fill="url(#gp)"/>
<rect x="703" y="562.5" width="70.5" height="62.5" fill="url(#gp)"/>
<rect x="671.5" y="600" width="32" height="27" fill="url(#gp)"/>
<rect x="671.5" y="626.5" width="75.5" height="62.5" fill="url(#gp)"/>
<rect x="644.5" y="600" width="27" height="89" fill="url(#gp)"/>
</g>
<g id="L-white" shape-rendering="auto">
<path d="M170.8 250.5 L188.7 250.5 L188.7 233.5 L232.5 233.5 L232.5 298 L170.8 298Z" fill="#ffffff" stroke="none" stroke-width="0"/>
<rect x="235.5" y="257" width="27.5" height="41" fill="#ffffff"/>
<path d="M170.8 344.1 L188.7 344.1 L188.7 361.1 L232.5 361.1 L232.5 296.6 L170.8 296.6Z" fill="#ffffff" stroke="none" stroke-width="0"/>
<rect x="235.5" y="296.6" width="27.5" height="41" fill="#ffffff"/>
<path d="M999.7 250.5 L981.8 250.5 L981.8 233.5 L938 233.5 L938 298 L999.7 298Z" fill="#ffffff" stroke="none" stroke-width="0"/>
<rect x="907.5" y="257" width="27.5" height="41" fill="#ffffff"/>
<path d="M999.7 344.1 L981.8 344.1 L981.8 361.1 L938 361.1 L938 296.6 L999.7 296.6Z" fill="#ffffff" stroke="none" stroke-width="0"/>
<rect x="907.5" y="296.6" width="27.5" height="41" fill="#ffffff"/>
<rect x="382" y="259" width="32" height="20" fill="#ffffff"/>
<rect x="318.3" y="281.8" width="33.7" height="30.7" fill="#ffffff"/>
<rect x="416" y="260.5" width="53" height="58" fill="#ffffff"/>
<rect x="500" y="273.5" width="19.5" height="44.5" fill="#ffffff"/>
<rect x="519" y="268" width="44.5" height="45" fill="#ffffff"/>
<rect x="532.2" y="309.5" width="18.3" height="5" fill="url(#lb)"/>
<rect x="522.2" y="273" width="37.8" height="36.8" fill="#b8b0d5"/>
<rect x="560" y="511.5" width="26" height="34" fill="#ffffff"/>
<rect x="756.5" y="259" width="32" height="20" fill="#ffffff"/>
<rect x="818.5" y="281.8" width="33.7" height="30.7" fill="#ffffff"/>
<rect x="701.5" y="260.5" width="53" height="58" fill="#ffffff"/>
<rect x="651" y="273.5" width="19.5" height="44.5" fill="#ffffff"/>
<rect x="607" y="268" width="44.5" height="45" fill="#ffffff"/>
<rect x="620" y="309.5" width="18.3" height="5" fill="url(#lb)"/>
<rect x="610.5" y="273" width="37.8" height="36.8" fill="#b8b0d5"/>
<rect x="584.5" y="511.5" width="26" height="34" fill="#ffffff"/>
<rect x="438" y="118.5" width="24.5" height="19.5" fill="#ffffff"/>
<rect x="708" y="118.5" width="24.5" height="19.5" fill="#ffffff"/>
<rect x="560" y="600" width="24" height="30.5" fill="#ffffff"/>
<rect x="586.5" y="600" width="24" height="30.5" fill="#ffffff"/>
<rect x="504.3" y="397" width="52.2" height="84.5" fill="#ffffff"/>
</g>
<g id="L-tex" shape-rendering="auto">
<rect x="274.5" y="129.5" width="50.8" height="53.5" fill="url(#tx)"/>
<rect x="235.5" y="216" width="27.5" height="38.5" fill="url(#tx)"/>
<rect x="274.5" y="411.6" width="55.5" height="53.5" fill="url(#tx)"/>
<rect x="235.5" y="340.1" width="27.5" height="38.5" fill="url(#tx)"/>
<rect x="845.2" y="129.5" width="50.8" height="53.5" fill="url(#tx)"/>
<rect x="907.5" y="216" width="27.5" height="38.5" fill="url(#tx)"/>
<rect x="840.5" y="411.6" width="55.5" height="53.5" fill="url(#tx)"/>
<rect x="907.5" y="340.1" width="27.5" height="38.5" fill="url(#tx)"/>
<rect x="472.3" y="274.5" width="25.2" height="43.5" fill="url(#tx)"/>
<rect x="673" y="274.5" width="25.2" height="43.5" fill="url(#tx)"/>
<rect x="524.8" y="136" width="59.2" height="47" fill="url(#tx)"/>
<rect x="586.5" y="136" width="59.2" height="47" fill="url(#tx)"/>
<rect x="371" y="628" width="51" height="60.5" fill="url(#tx)"/>
<rect x="527.5" y="600.5" width="30.5" height="26.5" fill="url(#tx)"/>
<rect x="748.5" y="628" width="51" height="60.5" fill="url(#tx)"/>
<rect x="612.5" y="600.5" width="30.5" height="26.5" fill="url(#tx)"/>
</g>
<g id="L-wall_o" shape-rendering="auto">
<rect x="141.65" y="96.45" width="69.2" height="10.4" fill="#555553"/>
<rect x="209.75" y="109.45" width="65" height="9.8" fill="#555553"/>
<rect x="96.15" y="181.95" width="10.6" height="69.1" fill="#555553"/>
<rect x="141.65" y="96.45" width="3.9" height="41.1" fill="#555553"/>
<rect x="111.95" y="133.45" width="33.6" height="4.1" fill="#555553"/>
<rect x="111.95" y="133.45" width="3.6" height="52.4" fill="#555553"/>
<rect x="96.15" y="181.95" width="92.7" height="3.9" fill="#555553"/>
<rect x="206.45" y="96.45" width="4.4" height="14.1" fill="#555553"/>
<rect x="206.35" y="104.45" width="3.9" height="64.1" fill="#555553"/>
<rect x="270.75" y="109.45" width="4" height="76.4" fill="#555553"/>
<rect x="226.95" y="181.95" width="56.6" height="3.9" fill="#555553"/>
<rect x="318.65" y="181.95" width="63.6" height="3.9" fill="#555553"/>
<rect x="142.95" y="135.55" width="2.9" height="18.2" fill="#555553"/>
<rect x="142.95" y="167.05" width="2.9" height="17.4" fill="#555553"/>
<rect x="96.15" y="246.95" width="40.4" height="4.1" fill="#555553"/>
<rect x="133.15" y="246.95" width="3.4" height="52.6" fill="#555553"/>
<rect x="133.15" y="246.95" width="19.4" height="3.6" fill="#555553"/>
<rect x="165.45" y="246.95" width="23.8" height="4.1" fill="#555553"/>
<rect x="166.45" y="246.95" width="4.9" height="52.6" fill="#555553"/>
<rect x="133.15" y="295.05" width="38.2" height="4.5" fill="#555553"/>
<rect x="185.75" y="202.75" width="3.7" height="48.3" fill="#555553"/>
<rect x="185.75" y="203.65" width="18.4" height="3.2" fill="#555553"/>
<rect x="217.75" y="203.65" width="17.8" height="3.2" fill="#555553"/>
<rect x="187.75" y="230.05" width="47.8" height="4.3" fill="#555553"/>
<rect x="231.35" y="203.65" width="4.2" height="30.7" fill="#555553"/>
<rect x="262.15" y="203.45" width="4.2" height="96.1" fill="#555553"/>
<rect x="231.95" y="295.05" width="86.1" height="4.5" fill="#555553"/>
<rect x="314.15" y="277.85" width="44.8" height="4" fill="#555553"/>
<rect x="377.75" y="126.45" width="4.5" height="156.1" fill="#555553"/>
<rect x="141.65" y="487.75" width="69.2" height="10.4" fill="#555553"/>
<rect x="209.75" y="475.35" width="65" height="9.8" fill="#555553"/>
<rect x="96.15" y="343.55" width="10.6" height="69.1" fill="#555553"/>
<rect x="141.65" y="457.05" width="3.9" height="41.1" fill="#555553"/>
<rect x="111.95" y="457.05" width="33.6" height="4.1" fill="#555553"/>
<rect x="111.95" y="408.75" width="3.6" height="52.4" fill="#555553"/>
<rect x="96.15" y="408.75" width="92.7" height="3.9" fill="#555553"/>
<rect x="206.45" y="484.05" width="4.4" height="14.1" fill="#555553"/>
<rect x="206.35" y="426.05" width="3.9" height="64.1" fill="#555553"/>
<rect x="270.75" y="408.75" width="4" height="76.4" fill="#555553"/>
<rect x="226.95" y="408.75" width="61.9" height="3.9" fill="#555553"/>
<rect x="324.15" y="408.75" width="58.1" height="3.9" fill="#555553"/>
<rect x="142.95" y="440.85" width="2.9" height="18.2" fill="#555553"/>
<rect x="142.95" y="410.15" width="2.9" height="17.4" fill="#555553"/>
<rect x="96.15" y="343.55" width="40.4" height="4.1" fill="#555553"/>
<rect x="133.15" y="295.05" width="3.4" height="52.6" fill="#555553"/>
<rect x="133.15" y="344.05" width="19.4" height="3.6" fill="#555553"/>
<rect x="165.45" y="343.55" width="23.8" height="4.1" fill="#555553"/>
<rect x="166.45" y="295.05" width="4.9" height="52.6" fill="#555553"/>
<rect x="133.15" y="295.05" width="38.2" height="4.5" fill="#555553"/>
<rect x="185.75" y="343.55" width="3.7" height="48.3" fill="#555553"/>
<rect x="185.75" y="387.75" width="18.4" height="3.2" fill="#555553"/>
<rect x="217.75" y="387.75" width="17.8" height="3.2" fill="#555553"/>
<rect x="187.75" y="360.25" width="47.8" height="4.3" fill="#555553"/>
<rect x="231.35" y="360.25" width="4.2" height="30.7" fill="#555553"/>
<rect x="262.15" y="295.05" width="4.2" height="96.1" fill="#555553"/>
<rect x="231.95" y="295.05" width="86.1" height="4.5" fill="#555553"/>
<rect x="314.15" y="312.75" width="44.8" height="4" fill="#555553"/>
<rect x="377.75" y="312.05" width="4.5" height="100.1" fill="#555553"/>
<rect x="959.65" y="96.45" width="69.2" height="10.4" fill="#555553"/>
<rect x="895.75" y="109.45" width="65" height="9.8" fill="#555553"/>
<rect x="1063.75" y="181.95" width="10.6" height="69.1" fill="#555553"/>
<rect x="1024.95" y="96.45" width="3.9" height="41.1" fill="#555553"/>
<rect x="1024.95" y="133.45" width="33.6" height="4.1" fill="#555553"/>
<rect x="1054.95" y="133.45" width="3.6" height="52.4" fill="#555553"/>
<rect x="981.65" y="181.95" width="92.7" height="3.9" fill="#555553"/>
<rect x="959.65" y="96.45" width="4.4" height="14.1" fill="#555553"/>
<rect x="960.25" y="104.45" width="3.9" height="64.1" fill="#555553"/>
<rect x="895.75" y="109.45" width="4" height="76.4" fill="#555553"/>
<rect x="886.95" y="181.95" width="56.6" height="3.9" fill="#555553"/>
<rect x="788.25" y="181.95" width="63.6" height="3.9" fill="#555553"/>
<rect x="1024.65" y="135.55" width="2.9" height="18.2" fill="#555553"/>
<rect x="1024.65" y="167.05" width="2.9" height="17.4" fill="#555553"/>
<rect x="1033.95" y="246.95" width="40.4" height="4.1" fill="#555553"/>
<rect x="1033.95" y="246.95" width="3.4" height="52.6" fill="#555553"/>
<rect x="1017.95" y="246.95" width="19.4" height="3.6" fill="#555553"/>
<rect x="981.25" y="246.95" width="23.8" height="4.1" fill="#555553"/>
<rect x="999.15" y="246.95" width="4.9" height="52.6" fill="#555553"/>
<rect x="999.15" y="295.05" width="38.2" height="4.5" fill="#555553"/>
<rect x="981.05" y="202.75" width="3.7" height="48.3" fill="#555553"/>
<rect x="966.35" y="203.65" width="18.4" height="3.2" fill="#555553"/>
<rect x="934.95" y="203.65" width="17.8" height="3.2" fill="#555553"/>
<rect x="934.95" y="230.05" width="47.8" height="4.3" fill="#555553"/>
<rect x="934.95" y="203.65" width="4.2" height="30.7" fill="#555553"/>
<rect x="904.15" y="203.45" width="4.2" height="96.1" fill="#555553"/>
<rect x="852.45" y="295.05" width="86.1" height="4.5" fill="#555553"/>
<rect x="811.55" y="277.85" width="44.8" height="4" fill="#555553"/>
<rect x="788.25" y="182.45" width="4.5" height="100.1" fill="#555553"/>
<rect x="959.65" y="487.75" width="69.2" height="10.4" fill="#555553"/>
<rect x="895.75" y="475.35" width="65" height="9.8" fill="#555553"/>
<rect x="1063.75" y="343.55" width="10.6" height="69.1" fill="#555553"/>
<rect x="1024.95" y="457.05" width="3.9" height="41.1" fill="#555553"/>
<rect x="1024.95" y="457.05" width="33.6" height="4.1" fill="#555553"/>
<rect x="1054.95" y="408.75" width="3.6" height="52.4" fill="#555553"/>
<rect x="981.65" y="408.75" width="92.7" height="3.9" fill="#555553"/>
<rect x="959.65" y="484.05" width="4.4" height="14.1" fill="#555553"/>
<rect x="960.25" y="426.05" width="3.9" height="64.1" fill="#555553"/>
<rect x="895.75" y="408.75" width="4" height="76.4" fill="#555553"/>
<rect x="885.25" y="408.75" width="58.3" height="3.9" fill="#555553"/>
<rect x="788.25" y="408.75" width="63.1" height="3.9" fill="#555553"/>
<rect x="1024.65" y="440.85" width="2.9" height="18.2" fill="#555553"/>
<rect x="1024.65" y="410.15" width="2.9" height="17.4" fill="#555553"/>
<rect x="1033.95" y="343.55" width="40.4" height="4.1" fill="#555553"/>
<rect x="1033.95" y="295.05" width="3.4" height="52.6" fill="#555553"/>
<rect x="1017.95" y="344.05" width="19.4" height="3.6" fill="#555553"/>
<rect x="981.25" y="343.55" width="23.8" height="4.1" fill="#555553"/>
<rect x="999.15" y="295.05" width="4.9" height="52.6" fill="#555553"/>
<rect x="999.15" y="295.05" width="38.2" height="4.5" fill="#555553"/>
<rect x="981.05" y="343.55" width="3.7" height="48.3" fill="#555553"/>
<rect x="966.35" y="387.75" width="18.4" height="3.2" fill="#555553"/>
<rect x="934.95" y="387.75" width="17.8" height="3.2" fill="#555553"/>
<rect x="934.95" y="360.25" width="47.8" height="4.3" fill="#555553"/>
<rect x="934.95" y="360.25" width="4.2" height="30.7" fill="#555553"/>
<rect x="904.15" y="295.05" width="4.2" height="96.1" fill="#555553"/>
<rect x="852.45" y="295.05" width="86.1" height="4.5" fill="#555553"/>
<rect x="811.55" y="312.75" width="44.8" height="4" fill="#555553"/>
<rect x="788.25" y="312.05" width="4.5" height="100.1" fill="#555553"/>
<rect x="380.45" y="258.25" width="34.1" height="3.8" fill="#555553"/>
<rect x="316.75" y="280.25" width="36.8" height="33.8" fill="#555553"/>
<rect x="377.05" y="257.45" width="5.2" height="24.7" fill="#555553"/>
<rect x="377.05" y="312.65" width="5.2" height="100.4" fill="#555553"/>
<rect x="356.25" y="312.05" width="26" height="3.9" fill="#555553"/>
<rect x="496.45" y="271.95" width="4.1" height="49.6" fill="#555553"/>
<rect x="518.25" y="267.25" width="4.3" height="46.6" fill="#555553"/>
<rect x="559.65" y="267.25" width="4.7" height="46.6" fill="#555553"/>
<rect x="518.25" y="267.25" width="46.1" height="6.1" fill="#555553"/>
<rect x="518.25" y="309.45" width="14.7" height="4.4" fill="#555553"/>
<rect x="549.75" y="309.45" width="14.6" height="4.4" fill="#555553"/>
<rect x="381.15" y="356.75" width="179.9" height="4.1" fill="#555553"/>
<rect x="381.15" y="356.75" width="16.6" height="56.3" fill="#555553"/>
<rect x="392.95" y="356.75" width="4.8" height="97.8" fill="#555553"/>
<rect x="377.05" y="408.95" width="20.7" height="4.1" fill="#555553"/>
<path d="M396.3 454.5 L423.3 481.5" fill="none" stroke="#8a8a8a" stroke-width="4"/>
<path d="M396.5 454.5 L381.5 469.5" fill="none" stroke="#555553" stroke-width="3.9" stroke-linecap="round"/>
<path d="M424 482 L409.5 497.5" fill="none" stroke="#555553" stroke-width="3.9" stroke-linecap="round"/>
<rect x="422.45" y="480.95" width="44.1" height="4.6" fill="#555553"/>
<rect x="407.95" y="558.95" width="58.6" height="4.4" fill="#555553"/>
<rect x="755.95" y="258.25" width="34.1" height="3.8" fill="#555553"/>
<rect x="816.95" y="280.25" width="36.8" height="33.8" fill="#555553"/>
<rect x="788.25" y="257.45" width="5.2" height="24.7" fill="#555553"/>
<rect x="788.25" y="312.65" width="5.2" height="100.4" fill="#555553"/>
<rect x="788.25" y="312.05" width="26" height="3.9" fill="#555553"/>
<rect x="669.95" y="271.95" width="4.1" height="49.6" fill="#555553"/>
<rect x="647.95" y="267.25" width="4.3" height="46.6" fill="#555553"/>
<rect x="606.15" y="267.25" width="4.7" height="46.6" fill="#555553"/>
<rect x="606.15" y="267.25" width="46.1" height="6.1" fill="#555553"/>
<rect x="637.55" y="309.45" width="14.7" height="4.4" fill="#555553"/>
<rect x="606.15" y="309.45" width="14.6" height="4.4" fill="#555553"/>
<rect x="609.95" y="356.75" width="179.4" height="4.1" fill="#555553"/>
<rect x="609.65" y="356.75" width="4.6" height="128.8" fill="#555553"/>
<rect x="772.75" y="356.75" width="16.6" height="56.3" fill="#555553"/>
<rect x="772.75" y="356.75" width="4.8" height="97.8" fill="#555553"/>
<rect x="772.75" y="408.95" width="20.7" height="4.1" fill="#555553"/>
<path d="M774.2 454.5 L747.2 481.5" fill="none" stroke="#8a8a8a" stroke-width="4"/>
<path d="M774 454.5 L789 469.5" fill="none" stroke="#555553" stroke-width="3.9" stroke-linecap="round"/>
<path d="M746.5 482 L761 497.5" fill="none" stroke="#555553" stroke-width="3.9" stroke-linecap="round"/>
<rect x="703.95" y="480.95" width="44.1" height="4.6" fill="#555553"/>
<rect x="703.95" y="558.95" width="58.6" height="4.4" fill="#555553"/>
<rect x="461.15" y="111.65" width="62.7" height="10.6" fill="#555553"/>
<rect x="434.75" y="114.75" width="4.1" height="71.3" fill="#555553"/>
<rect x="434.75" y="114.75" width="28.8" height="4.1" fill="#555553"/>
<rect x="434.75" y="136.95" width="30.8" height="4.1" fill="#555553"/>
<rect x="461.45" y="114.75" width="4.1" height="53.8" fill="#555553"/>
<rect x="520.25" y="111.65" width="3.8" height="74.4" fill="#555553"/>
<rect x="380.45" y="181.95" width="67.6" height="4.1" fill="#555553"/>
<rect x="483.65" y="181.95" width="55.4" height="4.1" fill="#555553"/>
<rect x="572.45" y="181.95" width="14.1" height="4.1" fill="#555553"/>
<rect x="442.75" y="205.25" width="3.8" height="53.8" fill="#555553"/>
<rect x="442.75" y="210.45" width="30.3" height="3.4" fill="#555553"/>
<rect x="469.25" y="203.45" width="3.8" height="71.1" fill="#555553"/>
<rect x="380.45" y="255.25" width="92.6" height="4.3" fill="#555553"/>
<rect x="517.45" y="265.15" width="47.1" height="3.9" fill="#555553"/>
<rect x="581.45" y="181.95" width="4.7" height="87.1" fill="#555553"/>
<rect x="646.65" y="111.65" width="62.7" height="10.6" fill="#555553"/>
<rect x="731.65" y="114.75" width="4.1" height="71.3" fill="#555553"/>
<rect x="706.95" y="114.75" width="28.8" height="4.1" fill="#555553"/>
<rect x="704.95" y="136.95" width="30.8" height="4.1" fill="#555553"/>
<rect x="704.95" y="114.75" width="4.1" height="53.8" fill="#555553"/>
<rect x="646.45" y="111.65" width="3.8" height="74.4" fill="#555553"/>
<rect x="722.45" y="181.95" width="67.6" height="4.1" fill="#555553"/>
<rect x="631.45" y="181.95" width="55.4" height="4.1" fill="#555553"/>
<rect x="583.95" y="181.95" width="14.1" height="4.1" fill="#555553"/>
<rect x="723.95" y="205.25" width="3.8" height="53.8" fill="#555553"/>
<rect x="697.45" y="210.45" width="30.3" height="3.4" fill="#555553"/>
<rect x="697.45" y="203.45" width="3.8" height="71.1" fill="#555553"/>
<rect x="697.45" y="255.25" width="92.6" height="4.3" fill="#555553"/>
<rect x="605.95" y="265.15" width="47.1" height="3.9" fill="#555553"/>
<rect x="584.35" y="181.95" width="4.7" height="87.1" fill="#555553"/>
<rect x="462.95" y="480.95" width="98.1" height="4.6" fill="#555553"/>
<rect x="463.95" y="480.95" width="4.1" height="82.6" fill="#555553"/>
<rect x="556.15" y="480.95" width="4.7" height="68.6" fill="#555553"/>
<rect x="582.75" y="545.95" width="4.7" height="85.4" fill="#555553"/>
<rect x="485.25" y="596.95" width="102.2" height="3.9" fill="#555553"/>
<rect x="386.95" y="559.45" width="11.1" height="68.1" fill="#555553"/>
<rect x="386.95" y="559.45" width="81.1" height="4.1" fill="#555553"/>
<rect x="386.95" y="623.65" width="94.1" height="4.1" fill="#555553"/>
<rect x="422.05" y="688.35" width="106.9" height="3.5" fill="#555553"/>
<rect x="496.95" y="599.45" width="3.6" height="92.1" fill="#555553"/>
<rect x="524.45" y="596.95" width="4.4" height="95.1" fill="#555553"/>
<rect x="496.95" y="641.75" width="31.6" height="4.6" fill="#555553"/>
<rect x="609.45" y="480.95" width="98.1" height="4.6" fill="#555553"/>
<rect x="702.45" y="480.95" width="4.1" height="82.6" fill="#555553"/>
<rect x="609.65" y="480.95" width="4.7" height="68.6" fill="#555553"/>
<rect x="583.05" y="545.95" width="4.7" height="85.4" fill="#555553"/>
<rect x="583.05" y="596.95" width="102.2" height="3.9" fill="#555553"/>
<rect x="772.45" y="559.45" width="11.1" height="68.1" fill="#555553"/>
<rect x="702.45" y="559.45" width="81.1" height="4.1" fill="#555553"/>
<rect x="689.45" y="623.65" width="94.1" height="4.1" fill="#555553"/>
<rect x="641.55" y="688.35" width="106.9" height="3.5" fill="#555553"/>
<rect x="669.95" y="599.45" width="3.6" height="92.1" fill="#555553"/>
<rect x="641.65" y="596.95" width="4.4" height="95.1" fill="#555553"/>
<rect x="641.95" y="641.75" width="31.6" height="4.6" fill="#555553"/>
<rect x="500.75" y="356.75" width="60.3" height="40.3" fill="#555553"/>
<rect x="500.75" y="356.75" width="4.1" height="126.8" fill="#555553"/>
<rect x="555.95" y="356.75" width="5.1" height="126.8" fill="#555553"/>
</g>
<g id="L-wall_i" shape-rendering="auto">
<rect x="142.75" y="97.55" width="67" height="8.2" fill="#fdfdfc"/>
<rect x="210.85" y="110.55" width="62.8" height="7.6" fill="#fdfdfc"/>
<rect x="97.25" y="183.05" width="8.4" height="66.9" fill="#fdfdfc"/>
<rect x="142.75" y="97.55" width="1.7" height="38.9" fill="#fdfdfc"/>
<rect x="113.05" y="134.55" width="31.4" height="1.9" fill="#fdfdfc"/>
<rect x="113.05" y="134.55" width="1.4" height="50.2" fill="#fdfdfc"/>
<rect x="97.25" y="183.05" width="90.5" height="1.7" fill="#fdfdfc"/>
<rect x="207.55" y="97.55" width="2.2" height="11.9" fill="#fdfdfc"/>
<rect x="207.45" y="105.55" width="1.7" height="61.9" fill="#fdfdfc"/>
<rect x="271.85" y="110.55" width="1.8" height="74.2" fill="#fdfdfc"/>
<rect x="228.05" y="183.05" width="54.4" height="1.7" fill="#fdfdfc"/>
<rect x="319.75" y="183.05" width="61.4" height="1.7" fill="#fdfdfc"/>
<rect x="143.85" y="136.45" width="1.1" height="16.4" fill="#fdfdfc"/>
<rect x="143.85" y="167.95" width="1.1" height="15.6" fill="#fdfdfc"/>
<rect x="97.25" y="248.05" width="38.2" height="1.9" fill="#fdfdfc"/>
<rect x="134.25" y="248.05" width="1.2" height="50.4" fill="#fdfdfc"/>
<rect x="134.25" y="248.05" width="17.2" height="1.4" fill="#fdfdfc"/>
<rect x="166.55" y="248.05" width="21.6" height="1.9" fill="#fdfdfc"/>
<rect x="167.55" y="248.05" width="2.7" height="50.4" fill="#fdfdfc"/>
<rect x="134.25" y="296.15" width="36" height="2.3" fill="#fdfdfc"/>
<rect x="186.85" y="203.85" width="1.5" height="46.1" fill="#fdfdfc"/>
<rect x="186.85" y="204.75" width="16.2" height="1" fill="#fdfdfc"/>
<rect x="218.85" y="204.75" width="15.6" height="1" fill="#fdfdfc"/>
<rect x="188.85" y="231.15" width="45.6" height="2.1" fill="#fdfdfc"/>
<rect x="232.45" y="204.75" width="2" height="28.5" fill="#fdfdfc"/>
<rect x="263.25" y="204.55" width="2" height="93.9" fill="#fdfdfc"/>
<rect x="233.05" y="296.15" width="83.9" height="2.3" fill="#fdfdfc"/>
<rect x="315.25" y="278.95" width="42.6" height="1.8" fill="#fdfdfc"/>
<rect x="378.85" y="127.55" width="2.3" height="153.9" fill="#fdfdfc"/>
<rect x="142.75" y="488.85" width="67" height="8.2" fill="#fdfdfc"/>
<rect x="210.85" y="476.45" width="62.8" height="7.6" fill="#fdfdfc"/>
<rect x="97.25" y="344.65" width="8.4" height="66.9" fill="#fdfdfc"/>
<rect x="142.75" y="458.15" width="1.7" height="38.9" fill="#fdfdfc"/>
<rect x="113.05" y="458.15" width="31.4" height="1.9" fill="#fdfdfc"/>
<rect x="113.05" y="409.85" width="1.4" height="50.2" fill="#fdfdfc"/>
<rect x="97.25" y="409.85" width="90.5" height="1.7" fill="#fdfdfc"/>
<rect x="207.55" y="485.15" width="2.2" height="11.9" fill="#fdfdfc"/>
<rect x="207.45" y="427.15" width="1.7" height="61.9" fill="#fdfdfc"/>
<rect x="271.85" y="409.85" width="1.8" height="74.2" fill="#fdfdfc"/>
<rect x="228.05" y="409.85" width="59.7" height="1.7" fill="#fdfdfc"/>
<rect x="325.25" y="409.85" width="55.9" height="1.7" fill="#fdfdfc"/>
<rect x="143.85" y="441.75" width="1.1" height="16.4" fill="#fdfdfc"/>
<rect x="143.85" y="411.05" width="1.1" height="15.6" fill="#fdfdfc"/>
<rect x="97.25" y="344.65" width="38.2" height="1.9" fill="#fdfdfc"/>
<rect x="134.25" y="296.15" width="1.2" height="50.4" fill="#fdfdfc"/>
<rect x="134.25" y="345.15" width="17.2" height="1.4" fill="#fdfdfc"/>
<rect x="166.55" y="344.65" width="21.6" height="1.9" fill="#fdfdfc"/>
<rect x="167.55" y="296.15" width="2.7" height="50.4" fill="#fdfdfc"/>
<rect x="134.25" y="296.15" width="36" height="2.3" fill="#fdfdfc"/>
<rect x="186.85" y="344.65" width="1.5" height="46.1" fill="#fdfdfc"/>
<rect x="186.85" y="388.85" width="16.2" height="1" fill="#fdfdfc"/>
<rect x="218.85" y="388.85" width="15.6" height="1" fill="#fdfdfc"/>
<rect x="188.85" y="361.35" width="45.6" height="2.1" fill="#fdfdfc"/>
<rect x="232.45" y="361.35" width="2" height="28.5" fill="#fdfdfc"/>
<rect x="263.25" y="296.15" width="2" height="93.9" fill="#fdfdfc"/>
<rect x="233.05" y="296.15" width="83.9" height="2.3" fill="#fdfdfc"/>
<rect x="315.25" y="313.85" width="42.6" height="1.8" fill="#fdfdfc"/>
<rect x="378.85" y="313.15" width="2.3" height="97.9" fill="#fdfdfc"/>
<rect x="960.75" y="97.55" width="67" height="8.2" fill="#fdfdfc"/>
<rect x="896.85" y="110.55" width="62.8" height="7.6" fill="#fdfdfc"/>
<rect x="1064.85" y="183.05" width="8.4" height="66.9" fill="#fdfdfc"/>
<rect x="1026.05" y="97.55" width="1.7" height="38.9" fill="#fdfdfc"/>
<rect x="1026.05" y="134.55" width="31.4" height="1.9" fill="#fdfdfc"/>
<rect x="1056.05" y="134.55" width="1.4" height="50.2" fill="#fdfdfc"/>
<rect x="982.75" y="183.05" width="90.5" height="1.7" fill="#fdfdfc"/>
<rect x="960.75" y="97.55" width="2.2" height="11.9" fill="#fdfdfc"/>
<rect x="961.35" y="105.55" width="1.7" height="61.9" fill="#fdfdfc"/>
<rect x="896.85" y="110.55" width="1.8" height="74.2" fill="#fdfdfc"/>
<rect x="888.05" y="183.05" width="54.4" height="1.7" fill="#fdfdfc"/>
<rect x="789.35" y="183.05" width="61.4" height="1.7" fill="#fdfdfc"/>
<rect x="1025.55" y="136.45" width="1.1" height="16.4" fill="#fdfdfc"/>
<rect x="1025.55" y="167.95" width="1.1" height="15.6" fill="#fdfdfc"/>
<rect x="1035.05" y="248.05" width="38.2" height="1.9" fill="#fdfdfc"/>
<rect x="1035.05" y="248.05" width="1.2" height="50.4" fill="#fdfdfc"/>
<rect x="1019.05" y="248.05" width="17.2" height="1.4" fill="#fdfdfc"/>
<rect x="982.35" y="248.05" width="21.6" height="1.9" fill="#fdfdfc"/>
<rect x="1000.25" y="248.05" width="2.7" height="50.4" fill="#fdfdfc"/>
<rect x="1000.25" y="296.15" width="36" height="2.3" fill="#fdfdfc"/>
<rect x="982.15" y="203.85" width="1.5" height="46.1" fill="#fdfdfc"/>
<rect x="967.45" y="204.75" width="16.2" height="1" fill="#fdfdfc"/>
<rect x="936.05" y="204.75" width="15.6" height="1" fill="#fdfdfc"/>
<rect x="936.05" y="231.15" width="45.6" height="2.1" fill="#fdfdfc"/>
<rect x="936.05" y="204.75" width="2" height="28.5" fill="#fdfdfc"/>
<rect x="905.25" y="204.55" width="2" height="93.9" fill="#fdfdfc"/>
<rect x="853.55" y="296.15" width="83.9" height="2.3" fill="#fdfdfc"/>
<rect x="812.65" y="278.95" width="42.6" height="1.8" fill="#fdfdfc"/>
<rect x="789.35" y="183.55" width="2.3" height="97.9" fill="#fdfdfc"/>
<rect x="960.75" y="488.85" width="67" height="8.2" fill="#fdfdfc"/>
<rect x="896.85" y="476.45" width="62.8" height="7.6" fill="#fdfdfc"/>
<rect x="1064.85" y="344.65" width="8.4" height="66.9" fill="#fdfdfc"/>
<rect x="1026.05" y="458.15" width="1.7" height="38.9" fill="#fdfdfc"/>
<rect x="1026.05" y="458.15" width="31.4" height="1.9" fill="#fdfdfc"/>
<rect x="1056.05" y="409.85" width="1.4" height="50.2" fill="#fdfdfc"/>
<rect x="982.75" y="409.85" width="90.5" height="1.7" fill="#fdfdfc"/>
<rect x="960.75" y="485.15" width="2.2" height="11.9" fill="#fdfdfc"/>
<rect x="961.35" y="427.15" width="1.7" height="61.9" fill="#fdfdfc"/>
<rect x="896.85" y="409.85" width="1.8" height="74.2" fill="#fdfdfc"/>
<rect x="886.35" y="409.85" width="56.1" height="1.7" fill="#fdfdfc"/>
<rect x="789.35" y="409.85" width="60.9" height="1.7" fill="#fdfdfc"/>
<rect x="1025.55" y="441.75" width="1.1" height="16.4" fill="#fdfdfc"/>
<rect x="1025.55" y="411.05" width="1.1" height="15.6" fill="#fdfdfc"/>
<rect x="1035.05" y="344.65" width="38.2" height="1.9" fill="#fdfdfc"/>
<rect x="1035.05" y="296.15" width="1.2" height="50.4" fill="#fdfdfc"/>
<rect x="1019.05" y="345.15" width="17.2" height="1.4" fill="#fdfdfc"/>
<rect x="982.35" y="344.65" width="21.6" height="1.9" fill="#fdfdfc"/>
<rect x="1000.25" y="296.15" width="2.7" height="50.4" fill="#fdfdfc"/>
<rect x="1000.25" y="296.15" width="36" height="2.3" fill="#fdfdfc"/>
<rect x="982.15" y="344.65" width="1.5" height="46.1" fill="#fdfdfc"/>
<rect x="967.45" y="388.85" width="16.2" height="1" fill="#fdfdfc"/>
<rect x="936.05" y="388.85" width="15.6" height="1" fill="#fdfdfc"/>
<rect x="936.05" y="361.35" width="45.6" height="2.1" fill="#fdfdfc"/>
<rect x="936.05" y="361.35" width="2" height="28.5" fill="#fdfdfc"/>
<rect x="905.25" y="296.15" width="2" height="93.9" fill="#fdfdfc"/>
<rect x="853.55" y="296.15" width="83.9" height="2.3" fill="#fdfdfc"/>
<rect x="812.65" y="313.85" width="42.6" height="1.8" fill="#fdfdfc"/>
<rect x="789.35" y="313.15" width="2.3" height="97.9" fill="#fdfdfc"/>
<rect x="381.55" y="259.35" width="31.9" height="1.6" fill="#ffffff"/>
<rect x="317.85" y="281.35" width="34.6" height="31.6" fill="#ffffff"/>
<rect x="378.15" y="258.55" width="3" height="22.5" fill="#fdfdfc"/>
<rect x="378.15" y="313.75" width="3" height="98.2" fill="#fdfdfc"/>
<rect x="357.35" y="313.15" width="23.8" height="1.7" fill="#fdfdfc"/>
<rect x="497.55" y="273.05" width="1.9" height="47.4" fill="#ffffff"/>
<rect x="519.35" y="268.35" width="2.1" height="44.4" fill="#ffffff"/>
<rect x="560.75" y="268.35" width="2.5" height="44.4" fill="#ffffff"/>
<rect x="519.35" y="268.35" width="43.9" height="3.9" fill="#ffffff"/>
<rect x="519.35" y="310.55" width="12.5" height="2.2" fill="#ffffff"/>
<rect x="550.85" y="310.55" width="12.4" height="2.2" fill="#ffffff"/>
<rect x="382.25" y="357.85" width="177.7" height="1.9" fill="#a2a2a2"/>
<rect x="382.25" y="357.85" width="14.4" height="54.1" fill="#ffffff"/>
<rect x="394.05" y="357.85" width="2.6" height="95.6" fill="#fdfdfc"/>
<rect x="378.15" y="410.05" width="18.5" height="1.9" fill="#fdfdfc"/>
<path d="M396.3 454.5 L423.3 481.5" fill="none" stroke="#a4a4a4" stroke-width="2.6"/>
<path d="M396.5 454.5 L381.5 469.5" fill="none" stroke="#fdfdfc" stroke-width="2.1" stroke-linecap="round"/>
<path d="M424 482 L409.5 497.5" fill="none" stroke="#fdfdfc" stroke-width="2.1" stroke-linecap="round"/>
<rect x="423.55" y="482.05" width="41.9" height="2.4" fill="#fdfdfc"/>
<rect x="409.05" y="560.05" width="56.4" height="2.2" fill="#fdfdfc"/>
<rect x="757.05" y="259.35" width="31.9" height="1.6" fill="#ffffff"/>
<rect x="818.05" y="281.35" width="34.6" height="31.6" fill="#ffffff"/>
<rect x="789.35" y="258.55" width="3" height="22.5" fill="#fdfdfc"/>
<rect x="789.35" y="313.75" width="3" height="98.2" fill="#fdfdfc"/>
<rect x="789.35" y="313.15" width="23.8" height="1.7" fill="#fdfdfc"/>
<rect x="671.05" y="273.05" width="1.9" height="47.4" fill="#ffffff"/>
<rect x="649.05" y="268.35" width="2.1" height="44.4" fill="#ffffff"/>
<rect x="607.25" y="268.35" width="2.5" height="44.4" fill="#ffffff"/>
<rect x="607.25" y="268.35" width="43.9" height="3.9" fill="#ffffff"/>
<rect x="638.65" y="310.55" width="12.5" height="2.2" fill="#ffffff"/>
<rect x="607.25" y="310.55" width="12.4" height="2.2" fill="#ffffff"/>
<rect x="611.05" y="357.85" width="177.2" height="1.9" fill="#a2a2a2"/>
<rect x="610.75" y="357.85" width="2.4" height="126.6" fill="#a2a2a2"/>
<rect x="773.85" y="357.85" width="14.4" height="54.1" fill="#ffffff"/>
<rect x="773.85" y="357.85" width="2.6" height="95.6" fill="#fdfdfc"/>
<rect x="773.85" y="410.05" width="18.5" height="1.9" fill="#fdfdfc"/>
<path d="M774.2 454.5 L747.2 481.5" fill="none" stroke="#a4a4a4" stroke-width="2.6"/>
<path d="M774 454.5 L789 469.5" fill="none" stroke="#fdfdfc" stroke-width="2.1" stroke-linecap="round"/>
<path d="M746.5 482 L761 497.5" fill="none" stroke="#fdfdfc" stroke-width="2.1" stroke-linecap="round"/>
<rect x="705.05" y="482.05" width="41.9" height="2.4" fill="#fdfdfc"/>
<rect x="705.05" y="560.05" width="56.4" height="2.2" fill="#fdfdfc"/>
<rect x="462.25" y="112.75" width="60.5" height="8.4" fill="#fdfdfc"/>
<rect x="435.85" y="115.85" width="1.9" height="69.1" fill="#fdfdfc"/>
<rect x="435.85" y="115.85" width="26.6" height="1.9" fill="#fdfdfc"/>
<rect x="435.85" y="138.05" width="28.6" height="1.9" fill="#fdfdfc"/>
<rect x="462.55" y="115.85" width="1.9" height="51.6" fill="#fdfdfc"/>
<rect x="521.35" y="112.75" width="1.6" height="72.2" fill="#fdfdfc"/>
<rect x="381.55" y="183.05" width="65.4" height="1.9" fill="#fdfdfc"/>
<rect x="484.75" y="183.05" width="53.2" height="1.9" fill="#fdfdfc"/>
<rect x="573.55" y="183.05" width="11.9" height="1.9" fill="#fdfdfc"/>
<rect x="443.85" y="206.35" width="1.6" height="51.6" fill="#fdfdfc"/>
<rect x="443.85" y="211.55" width="28.1" height="1.2" fill="#fdfdfc"/>
<rect x="470.35" y="204.55" width="1.6" height="68.9" fill="#fdfdfc"/>
<rect x="381.55" y="256.35" width="90.4" height="2.1" fill="#fdfdfc"/>
<rect x="518.55" y="266.25" width="44.9" height="1.7" fill="#fdfdfc"/>
<rect x="582.55" y="183.05" width="2.5" height="84.9" fill="#fdfdfc"/>
<rect x="647.75" y="112.75" width="60.5" height="8.4" fill="#fdfdfc"/>
<rect x="732.75" y="115.85" width="1.9" height="69.1" fill="#fdfdfc"/>
<rect x="708.05" y="115.85" width="26.6" height="1.9" fill="#fdfdfc"/>
<rect x="706.05" y="138.05" width="28.6" height="1.9" fill="#fdfdfc"/>
<rect x="706.05" y="115.85" width="1.9" height="51.6" fill="#fdfdfc"/>
<rect x="647.55" y="112.75" width="1.6" height="72.2" fill="#fdfdfc"/>
<rect x="723.55" y="183.05" width="65.4" height="1.9" fill="#fdfdfc"/>
<rect x="632.55" y="183.05" width="53.2" height="1.9" fill="#fdfdfc"/>
<rect x="585.05" y="183.05" width="11.9" height="1.9" fill="#fdfdfc"/>
<rect x="725.05" y="206.35" width="1.6" height="51.6" fill="#fdfdfc"/>
<rect x="698.55" y="211.55" width="28.1" height="1.2" fill="#fdfdfc"/>
<rect x="698.55" y="204.55" width="1.6" height="68.9" fill="#fdfdfc"/>
<rect x="698.55" y="256.35" width="90.4" height="2.1" fill="#fdfdfc"/>
<rect x="607.05" y="266.25" width="44.9" height="1.7" fill="#fdfdfc"/>
<rect x="585.45" y="183.05" width="2.5" height="84.9" fill="#fdfdfc"/>
<rect x="464.05" y="482.05" width="95.9" height="2.4" fill="#fdfdfc"/>
<rect x="465.05" y="482.05" width="1.9" height="80.4" fill="#fdfdfc"/>
<rect x="557.25" y="482.05" width="2.5" height="66.4" fill="#fdfdfc"/>
<rect x="583.85" y="547.05" width="2.5" height="83.2" fill="#fdfdfc"/>
<rect x="486.35" y="598.05" width="100" height="1.7" fill="#fdfdfc"/>
<rect x="388.05" y="560.55" width="8.9" height="65.9" fill="#fdfdfc"/>
<rect x="388.05" y="560.55" width="78.9" height="1.9" fill="#fdfdfc"/>
<rect x="388.05" y="624.75" width="91.9" height="1.9" fill="#fdfdfc"/>
<rect x="422.95" y="689.25" width="105.1" height="1.7" fill="#fdfdfc"/>
<rect x="498.05" y="600.55" width="1.4" height="89.9" fill="#fdfdfc"/>
<rect x="525.55" y="598.05" width="2.2" height="92.9" fill="#fdfdfc"/>
<rect x="498.05" y="642.85" width="29.4" height="2.4" fill="#fdfdfc"/>
<rect x="610.55" y="482.05" width="95.9" height="2.4" fill="#fdfdfc"/>
<rect x="703.55" y="482.05" width="1.9" height="80.4" fill="#fdfdfc"/>
<rect x="610.75" y="482.05" width="2.5" height="66.4" fill="#fdfdfc"/>
<rect x="584.15" y="547.05" width="2.5" height="83.2" fill="#fdfdfc"/>
<rect x="584.15" y="598.05" width="100" height="1.7" fill="#fdfdfc"/>
<rect x="773.55" y="560.55" width="8.9" height="65.9" fill="#fdfdfc"/>
<rect x="703.55" y="560.55" width="78.9" height="1.9" fill="#fdfdfc"/>
<rect x="690.55" y="624.75" width="91.9" height="1.9" fill="#fdfdfc"/>
<rect x="642.45" y="689.25" width="105.1" height="1.7" fill="#fdfdfc"/>
<rect x="671.05" y="600.55" width="1.4" height="89.9" fill="#fdfdfc"/>
<rect x="642.75" y="598.05" width="2.2" height="92.9" fill="#fdfdfc"/>
<rect x="643.05" y="642.85" width="29.4" height="2.4" fill="#fdfdfc"/>
<rect x="501.85" y="357.85" width="58.1" height="38.1" fill="#ffffff"/>
<rect x="501.85" y="357.85" width="1.9" height="124.6" fill="#fdfdfc"/>
<rect x="557.05" y="357.85" width="2.9" height="124.6" fill="#fdfdfc"/>
</g>
<g id="L-dark" shape-rendering="auto">
<path d="M157.5 97 L157.5 106.3" fill="none" stroke="#555553" stroke-width="0.9"/>
<path d="M195.3 97 L195.3 106.3" fill="none" stroke="#555553" stroke-width="0.9"/>
<rect x="157.5" y="103.2" width="37.8" height="3.4" fill="#9a9896"/>
<path d="M221.7 110 L221.7 118.7" fill="none" stroke="#555553" stroke-width="0.9"/>
<path d="M258.7 110 L258.7 118.7" fill="none" stroke="#555553" stroke-width="0.9"/>
<rect x="221.7" y="115.6" width="37" height="3.4" fill="#9a9896"/>
<path d="M96.7 197.5 L106.2 197.5" fill="none" stroke="#555553" stroke-width="0.9"/>
<path d="M96.7 235.5 L106.2 235.5" fill="none" stroke="#555553" stroke-width="0.9"/>
<rect x="103.1" y="197.5" width="3.4" height="38" fill="#9a9896"/>
<rect x="142.6" y="115" width="2" height="19" fill="#7c7c7a"/>
<rect x="112.9" y="138" width="1.7" height="12" fill="#7c7c7a"/>
<rect x="145.5" y="182.6" width="42.8" height="2.7" fill="#6a6a66"/>
<rect x="205.8" y="166.7" width="3.9" height="18.9" fill="#3c3c3a"/>
<path d="M207.75 167.6 L207.75 185" fill="none" stroke="#c8c8c0" stroke-width="0.9"/>
<rect x="227.5" y="182.6" width="43.8" height="2.7" fill="#6a6a66"/>
<rect x="335" y="182.7" width="36.7" height="2.4" fill="#7c7c7a"/>
<rect x="114" y="247.9" width="18.5" height="2.2" fill="#7c7c7a"/>
<rect x="167.4" y="266.7" width="3" height="13.3" fill="#7c7c7a"/>
<rect x="190" y="231" width="11.7" height="2.5" fill="#7c7c7a"/>
<rect x="232.3" y="215" width="3.3" height="42.7" fill="#7a7a78"/>
<rect x="232.3" y="254.3" width="30.7" height="3.4" fill="#7a7a78"/>
<path d="M232.7 257.5 L232.7 299" fill="none" stroke="#555553" stroke-width="1.1"/>
<rect x="263.1" y="277" width="2.3" height="18.6" fill="#7c7c7a"/>
<path d="M250.4 204.5 L250.4 216.5" fill="none" stroke="#555553" stroke-width="1"/>
<path d="M250.4 204.5 L263 204.5" fill="none" stroke="#555553" stroke-width="1"/>
<path d="M235.6 215.8 L263 215.8" fill="none" stroke="#5a5a58" stroke-width="1.8"/>
<path d="M266 241.3 L292.4 241.3" fill="none" stroke="#6e6e6a" stroke-width="2.8" stroke-linecap="round"/>
<path d="M266 241.3 L292.4 241.3" fill="none" stroke="#b4b4ac" stroke-width="1.1" stroke-linecap="round"/>
<path d="M316.1 242.5 L316.1 280" fill="none" stroke="#6e6e6a" stroke-width="3" stroke-linecap="round"/>
<path d="M316.1 242.5 L316.1 280" fill="none" stroke="#b4b4ac" stroke-width="1.3" stroke-linecap="round"/>
<rect x="273.3" y="126.7" width="55" height="3.3" fill="#828282"/>
<rect x="324.9" y="126.7" width="3.4" height="56.3" fill="#828282"/>
<rect x="273.3" y="126.7" width="1.7" height="56.3" fill="#828282"/>
<path d="M157.5 497.6 L157.5 488.3" fill="none" stroke="#555553" stroke-width="0.9"/>
<path d="M195.3 497.6 L195.3 488.3" fill="none" stroke="#555553" stroke-width="0.9"/>
<rect x="157.5" y="488" width="37.8" height="3.4" fill="#9a9896"/>
<path d="M221.7 484.6 L221.7 475.9" fill="none" stroke="#555553" stroke-width="0.9"/>
<path d="M258.7 484.6 L258.7 475.9" fill="none" stroke="#555553" stroke-width="0.9"/>
<rect x="221.7" y="475.6" width="37" height="3.4" fill="#9a9896"/>
<path d="M96.7 397.1 L106.2 397.1" fill="none" stroke="#555553" stroke-width="0.9"/>
<path d="M96.7 359.1 L106.2 359.1" fill="none" stroke="#555553" stroke-width="0.9"/>
<rect x="103.1" y="359.1" width="3.4" height="38" fill="#9a9896"/>
<rect x="142.6" y="460.6" width="2" height="19" fill="#7c7c7a"/>
<rect x="112.9" y="444.6" width="1.7" height="12" fill="#7c7c7a"/>
<rect x="205.8" y="409" width="3.9" height="18.9" fill="#3c3c3a"/>
<path d="M207.75 427 L207.75 409.6" fill="none" stroke="#c8c8c0" stroke-width="0.9"/>
<rect x="341.7" y="409.5" width="35.8" height="2.4" fill="#7c7c7a"/>
<rect x="114" y="344.5" width="18.5" height="2.2" fill="#7c7c7a"/>
<rect x="167.4" y="314.6" width="3" height="13.3" fill="#7c7c7a"/>
<rect x="190" y="361.1" width="11.7" height="2.5" fill="#7c7c7a"/>
<rect x="232.3" y="336.9" width="3.3" height="42.7" fill="#7a7a78"/>
<rect x="232.3" y="336.9" width="30.7" height="3.4" fill="#7a7a78"/>
<path d="M232.7 337.1 L232.7 295.6" fill="none" stroke="#555553" stroke-width="1.1"/>
<rect x="263.1" y="299" width="2.3" height="18.6" fill="#7c7c7a"/>
<path d="M235.6 378.8 L263 378.8" fill="none" stroke="#5a5a58" stroke-width="1.8"/>
<path d="M250 381.4 L264 381.4" fill="none" stroke="#555553" stroke-width="1"/>
<path d="M266 353.3 L292.4 353.3" fill="none" stroke="#6e6e6a" stroke-width="2.8" stroke-linecap="round"/>
<path d="M266 353.3 L292.4 353.3" fill="none" stroke="#b4b4ac" stroke-width="1.1" stroke-linecap="round"/>
<path d="M316.1 352.1 L316.1 314.6" fill="none" stroke="#6e6e6a" stroke-width="3" stroke-linecap="round"/>
<path d="M316.1 352.1 L316.1 314.6" fill="none" stroke="#b4b4ac" stroke-width="1.3" stroke-linecap="round"/>
<rect x="273.3" y="464.6" width="59.7" height="3.3" fill="#828282"/>
<rect x="329.6" y="411.6" width="3.4" height="56.3" fill="#828282"/>
<rect x="273.3" y="411.6" width="1.7" height="56.3" fill="#828282"/>
<path d="M1013 97 L1013 106.3" fill="none" stroke="#555553" stroke-width="0.9"/>
<path d="M975.2 97 L975.2 106.3" fill="none" stroke="#555553" stroke-width="0.9"/>
<rect x="975.2" y="103.2" width="37.8" height="3.4" fill="#9a9896"/>
<path d="M948.8 110 L948.8 118.7" fill="none" stroke="#555553" stroke-width="0.9"/>
<path d="M911.8 110 L911.8 118.7" fill="none" stroke="#555553" stroke-width="0.9"/>
<rect x="911.8" y="115.6" width="37" height="3.4" fill="#9a9896"/>
<path d="M1073.8 197.5 L1064.3 197.5" fill="none" stroke="#555553" stroke-width="0.9"/>
<path d="M1073.8 235.5 L1064.3 235.5" fill="none" stroke="#555553" stroke-width="0.9"/>
<rect x="1064" y="197.5" width="3.4" height="38" fill="#9a9896"/>
<rect x="1025.9" y="115" width="2" height="19" fill="#7c7c7a"/>
<rect x="1055.9" y="138" width="1.7" height="12" fill="#7c7c7a"/>
<rect x="960.8" y="166.7" width="3.9" height="18.9" fill="#3c3c3a"/>
<path d="M962.75 167.6 L962.75 185" fill="none" stroke="#c8c8c0" stroke-width="0.9"/>
<rect x="798.8" y="182.7" width="36.7" height="2.4" fill="#7c7c7a"/>
<rect x="1038" y="247.9" width="18.5" height="2.2" fill="#7c7c7a"/>
<rect x="1000.1" y="266.7" width="3" height="13.3" fill="#7c7c7a"/>
<rect x="968.8" y="231" width="11.7" height="2.5" fill="#7c7c7a"/>
<rect x="934.9" y="215" width="3.3" height="42.7" fill="#7a7a78"/>
<rect x="907.5" y="254.3" width="30.7" height="3.4" fill="#7a7a78"/>
<path d="M937.8 257.5 L937.8 299" fill="none" stroke="#555553" stroke-width="1.1"/>
<rect x="905.1" y="277" width="2.3" height="18.6" fill="#7c7c7a"/>
<path d="M934.9 215.8 L907.5 215.8" fill="none" stroke="#5a5a58" stroke-width="1.8"/>
<path d="M920.5 213.2 L906.5 213.2" fill="none" stroke="#555553" stroke-width="1"/>
<path d="M904.5 241.3 L878.1 241.3" fill="none" stroke="#6e6e6a" stroke-width="2.8" stroke-linecap="round"/>
<path d="M904.5 241.3 L878.1 241.3" fill="none" stroke="#b4b4ac" stroke-width="1.1" stroke-linecap="round"/>
<path d="M854.4 242.5 L854.4 280" fill="none" stroke="#6e6e6a" stroke-width="3" stroke-linecap="round"/>
<path d="M854.4 242.5 L854.4 280" fill="none" stroke="#b4b4ac" stroke-width="1.3" stroke-linecap="round"/>
<rect x="842.2" y="126.7" width="55" height="3.3" fill="#828282"/>
<rect x="842.2" y="126.7" width="3.4" height="56.3" fill="#828282"/>
<rect x="895.5" y="126.7" width="1.7" height="56.3" fill="#828282"/>
<path d="M1013 497.6 L1013 488.3" fill="none" stroke="#555553" stroke-width="0.9"/>
<path d="M975.2 497.6 L975.2 488.3" fill="none" stroke="#555553" stroke-width="0.9"/>
<rect x="975.2" y="488" width="37.8" height="3.4" fill="#9a9896"/>
<path d="M948.8 484.6 L948.8 475.9" fill="none" stroke="#555553" stroke-width="0.9"/>
<path d="M911.8 484.6 L911.8 475.9" fill="none" stroke="#555553" stroke-width="0.9"/>
<rect x="911.8" y="475.6" width="37" height="3.4" fill="#9a9896"/>
<path d="M1073.8 397.1 L1064.3 397.1" fill="none" stroke="#555553" stroke-width="0.9"/>
<path d="M1073.8 359.1 L1064.3 359.1" fill="none" stroke="#555553" stroke-width="0.9"/>
<rect x="1064" y="359.1" width="3.4" height="38" fill="#9a9896"/>
<rect x="1025.9" y="460.6" width="2" height="19" fill="#7c7c7a"/>
<rect x="1055.9" y="444.6" width="1.7" height="12" fill="#7c7c7a"/>
<rect x="982.2" y="409.3" width="42.8" height="2.7" fill="#6a6a66"/>
<rect x="960.8" y="409" width="3.9" height="18.9" fill="#3c3c3a"/>
<path d="M962.75 427 L962.75 409.6" fill="none" stroke="#c8c8c0" stroke-width="0.9"/>
<rect x="899.2" y="409.3" width="43.8" height="2.7" fill="#6a6a66"/>
<rect x="793" y="409.5" width="35.8" height="2.4" fill="#7c7c7a"/>
<rect x="1038" y="344.5" width="18.5" height="2.2" fill="#7c7c7a"/>
<rect x="1000.1" y="314.6" width="3" height="13.3" fill="#7c7c7a"/>
<rect x="968.8" y="361.1" width="11.7" height="2.5" fill="#7c7c7a"/>
<rect x="934.9" y="336.9" width="3.3" height="42.7" fill="#7a7a78"/>
<rect x="907.5" y="336.9" width="30.7" height="3.4" fill="#7a7a78"/>
<path d="M937.8 337.1 L937.8 295.6" fill="none" stroke="#555553" stroke-width="1.1"/>
<rect x="905.1" y="299" width="2.3" height="18.6" fill="#7c7c7a"/>
<path d="M920.1 390.1 L920.1 378.1" fill="none" stroke="#555553" stroke-width="1"/>
<path d="M920.1 390.1 L907.5 390.1" fill="none" stroke="#555553" stroke-width="1"/>
<path d="M934.9 378.8 L907.5 378.8" fill="none" stroke="#5a5a58" stroke-width="1.8"/>
<path d="M904.5 353.3 L878.1 353.3" fill="none" stroke="#6e6e6a" stroke-width="2.8" stroke-linecap="round"/>
<path d="M904.5 353.3 L878.1 353.3" fill="none" stroke="#b4b4ac" stroke-width="1.1" stroke-linecap="round"/>
<path d="M854.4 352.1 L854.4 314.6" fill="none" stroke="#6e6e6a" stroke-width="3" stroke-linecap="round"/>
<path d="M854.4 352.1 L854.4 314.6" fill="none" stroke="#b4b4ac" stroke-width="1.3" stroke-linecap="round"/>
<rect x="837.5" y="464.6" width="59.7" height="3.3" fill="#828282"/>
<rect x="837.5" y="411.6" width="3.4" height="56.3" fill="#828282"/>
<rect x="895.5" y="411.6" width="1.7" height="56.3" fill="#828282"/>
<rect x="381" y="278" width="33" height="3.3" fill="#7a7a78"/>
<path d="M412.5 260 L412.5 279" fill="none" stroke="#555553" stroke-width="0.9"/>
<rect x="352.6" y="281" width="4.2" height="32.5" fill="#7a7a78"/>
<rect x="412.8" y="280" width="3.5" height="41" fill="#7a7a78"/>
<rect x="412.8" y="317.8" width="107.7" height="3.2" fill="#7a7a78"/>
<rect x="469" y="259" width="3.3" height="62" fill="#7a7a78"/>
<rect x="495.6" y="272.8" width="2.8" height="48.2" fill="#7a7a78"/>
<path d="M472 273.6 L520 273.6" fill="none" stroke="#4a4a48" stroke-width="1.9"/>
<path d="M522.2 273 L560 273 L560 309.8 L522.2 309.8 L522.2 273" fill="none" stroke="#5a5a66" stroke-width="0.9"/>
<path d="M532.2 309.8 L532.2 313.6" fill="none" stroke="#555553" stroke-width="0.9"/>
<path d="M550.5 309.8 L550.5 313.6" fill="none" stroke="#555553" stroke-width="0.9"/>
<path d="M383.3 360.3 L383.3 410" fill="none" stroke="#555553" stroke-width="0.8"/>
<rect x="559.5" y="507.6" width="26.5" height="3.7" fill="#7a7a78"/>
<rect x="756.5" y="278" width="33" height="3.3" fill="#7a7a78"/>
<path d="M758 260 L758 279" fill="none" stroke="#555553" stroke-width="0.9"/>
<rect x="813.7" y="281" width="4.2" height="32.5" fill="#7a7a78"/>
<rect x="754.2" y="280" width="3.5" height="41" fill="#7a7a78"/>
<rect x="650" y="317.8" width="107.7" height="3.2" fill="#7a7a78"/>
<rect x="698.2" y="259" width="3.3" height="62" fill="#7a7a78"/>
<rect x="672.1" y="272.8" width="2.8" height="48.2" fill="#7a7a78"/>
<path d="M698.5 273.6 L650.5 273.6" fill="none" stroke="#4a4a48" stroke-width="1.9"/>
<path d="M648.3 273 L610.5 273 L610.5 309.8 L648.3 309.8 L648.3 273" fill="none" stroke="#5a5a66" stroke-width="0.9"/>
<path d="M638.3 309.8 L638.3 313.6" fill="none" stroke="#555553" stroke-width="0.9"/>
<path d="M620 309.8 L620 313.6" fill="none" stroke="#555553" stroke-width="0.9"/>
<path d="M787.2 360.3 L787.2 410" fill="none" stroke="#555553" stroke-width="0.8"/>
<rect x="584.5" y="507.6" width="26.5" height="3.7" fill="#7a7a78"/>
<path d="M477.5 112.2 L477.5 121.7" fill="none" stroke="#555553" stroke-width="0.9"/>
<path d="M514.2 112.2 L514.2 121.7" fill="none" stroke="#555553" stroke-width="0.9"/>
<rect x="477.5" y="118.6" width="36.7" height="3.4" fill="#9a9896"/>
<rect x="463" y="166.7" width="3.3" height="18.9" fill="#3c3c3a"/>
<path d="M464.6 167.6 L464.6 185" fill="none" stroke="#c8c8c0" stroke-width="0.9"/>
<rect x="387.5" y="182.8" width="37.5" height="2.4" fill="#7c7c7a"/>
<rect x="523.5" y="133" width="62.5" height="3.2" fill="#8a8a8a"/>
<path d="M523.5 133.2 L586 133.2" fill="none" stroke="#7a7a78" stroke-width="0.9"/>
<rect x="523.3" y="133" width="1.7" height="50" fill="#6e6e6c"/>
<rect x="448" y="256.2" width="12" height="2.4" fill="#7c7c7a"/>
<path d="M519.3 231 L519.3 266" fill="none" stroke="#6e6e6a" stroke-width="3" stroke-linecap="round"/>
<path d="M519.3 231 L519.3 266" fill="none" stroke="#b4b4ac" stroke-width="1.3" stroke-linecap="round"/>
<rect x="583.6" y="133.3" width="2" height="50.7" fill="#777775"/>
<path d="M693 112.2 L693 121.7" fill="none" stroke="#555553" stroke-width="0.9"/>
<path d="M656.3 112.2 L656.3 121.7" fill="none" stroke="#555553" stroke-width="0.9"/>
<rect x="656.3" y="118.6" width="36.7" height="3.4" fill="#9a9896"/>
<rect x="704.2" y="166.7" width="3.3" height="18.9" fill="#3c3c3a"/>
<path d="M705.9 167.6 L705.9 185" fill="none" stroke="#c8c8c0" stroke-width="0.9"/>
<rect x="745.5" y="182.8" width="37.5" height="2.4" fill="#7c7c7a"/>
<rect x="584.5" y="133" width="62.5" height="3.2" fill="#8a8a8a"/>
<path d="M647 133.2 L584.5 133.2" fill="none" stroke="#7a7a78" stroke-width="0.9"/>
<rect x="645.5" y="133" width="1.7" height="50" fill="#6e6e6c"/>
<rect x="710.5" y="256.2" width="12" height="2.4" fill="#7c7c7a"/>
<path d="M651.2 231 L651.2 266" fill="none" stroke="#6e6e6a" stroke-width="3" stroke-linecap="round"/>
<path d="M651.2 231 L651.2 266" fill="none" stroke="#b4b4ac" stroke-width="1.3" stroke-linecap="round"/>
<rect x="584.9" y="133.3" width="2" height="50.7" fill="#777775"/>
<rect x="724.3" y="229" width="3" height="26.5" fill="#7c7c7a"/>
<rect x="464.9" y="500" width="2.2" height="36.7" fill="#aaaaa6"/>
<path d="M527 547.7 L585 547.7" fill="none" stroke="#6e6e6a" stroke-width="2.8" stroke-linecap="round"/>
<path d="M527 547.7 L585 547.7" fill="none" stroke="#b4b4ac" stroke-width="1.1" stroke-linecap="round"/>
<path d="M527 568.8 L527 597.5" fill="none" stroke="#6e6e6a" stroke-width="3" stroke-linecap="round"/>
<path d="M527 568.8 L527 597.5" fill="none" stroke="#b4b4ac" stroke-width="1.3" stroke-linecap="round"/>
<path d="M387.5 571.7 L397.5 571.7" fill="none" stroke="#555553" stroke-width="0.9"/>
<path d="M387.5 609.2 L397.5 609.2" fill="none" stroke="#555553" stroke-width="0.9"/>
<rect x="394.4" y="571.7" width="3.4" height="37.5" fill="#9a9896"/>
<path d="M466.3 563 L466.3 607" fill="none" stroke="#555553" stroke-width="1.2"/>
<rect x="368.3" y="625" width="55.2" height="3" fill="#8e8e8e"/>
<rect x="368.3" y="625" width="2.9" height="66.5" fill="#8e8e8e"/>
<rect x="368.3" y="688.6" width="55.2" height="3" fill="#8e8e8e"/>
<path d="M423.5 625.2 L368.5 625.2 L368.5 691.4 L423.5 691.4" fill="none" stroke="#6a6a68" stroke-width="0.8"/>
<path d="M423.2 627 L423.2 642" fill="none" stroke="#555553" stroke-width="1.2"/>
<path d="M423.2 677 L423.2 690" fill="none" stroke="#555553" stroke-width="1.2"/>
<rect x="525.3" y="665" width="2.7" height="15" fill="#7c7c7a"/>
<rect x="525.3" y="625" width="2.7" height="16" fill="#7c7c7a"/>
<rect x="497.6" y="626" width="2.4" height="16" fill="#7c7c7a"/>
<rect x="557.3" y="600" width="3" height="30.3" fill="#7a7a78"/>
<rect x="527.5" y="626.8" width="32.8" height="3.5" fill="#7a7a78"/>
<path d="M560 630.3 L586.9 630.3" fill="none" stroke="#555553" stroke-width="1.1"/>
<rect x="703.4" y="500" width="2.2" height="36.7" fill="#aaaaa6"/>
<path d="M643.5 547.7 L585.5 547.7" fill="none" stroke="#6e6e6a" stroke-width="2.8" stroke-linecap="round"/>
<path d="M643.5 547.7 L585.5 547.7" fill="none" stroke="#b4b4ac" stroke-width="1.1" stroke-linecap="round"/>
<path d="M643.5 568.8 L643.5 597.5" fill="none" stroke="#6e6e6a" stroke-width="3" stroke-linecap="round"/>
<path d="M643.5 568.8 L643.5 597.5" fill="none" stroke="#b4b4ac" stroke-width="1.3" stroke-linecap="round"/>
<path d="M783 571.7 L773 571.7" fill="none" stroke="#555553" stroke-width="0.9"/>
<path d="M783 609.2 L773 609.2" fill="none" stroke="#555553" stroke-width="0.9"/>
<rect x="772.7" y="571.7" width="3.4" height="37.5" fill="#9a9896"/>
<path d="M704.2 563 L704.2 607" fill="none" stroke="#555553" stroke-width="1.2"/>
<rect x="747" y="625" width="55.2" height="3" fill="#8e8e8e"/>
<rect x="799.3" y="625" width="2.9" height="66.5" fill="#8e8e8e"/>
<rect x="747" y="688.6" width="55.2" height="3" fill="#8e8e8e"/>
<path d="M747 625.2 L802 625.2 L802 691.4 L747 691.4" fill="none" stroke="#6a6a68" stroke-width="0.8"/>
<path d="M747.3 627 L747.3 642" fill="none" stroke="#555553" stroke-width="1.2"/>
<path d="M747.3 677 L747.3 690" fill="none" stroke="#555553" stroke-width="1.2"/>
<rect x="642.5" y="665" width="2.7" height="15" fill="#7c7c7a"/>
<rect x="642.5" y="625" width="2.7" height="16" fill="#7c7c7a"/>
<rect x="670.5" y="626" width="2.4" height="16" fill="#7c7c7a"/>
<rect x="610.2" y="600" width="3" height="30.3" fill="#7a7a78"/>
<rect x="610.2" y="626.8" width="32.8" height="3.5" fill="#7a7a78"/>
<path d="M610.5 630.3 L583.6 630.3" fill="none" stroke="#555553" stroke-width="1.1"/>
<path d="M504.5 360.5 L557.3 360.5 L557.3 393.5 L504.5 393.5 L504.5 360.5" fill="none" stroke="#555553" stroke-width="0.9"/>
</g>
<g id="L-line" shape-rendering="auto">
<path d="M330.3 127.2 L378 127.2" fill="none" stroke="#9a9a9a" stroke-width="1" stroke-dasharray="1 2.6"/>
<path d="M207.5 165.8 L205.43 165.92 L203.38 166.26 L201.39 166.84 L199.47 167.63 L197.66 168.64 L195.97 169.84 L194.42 171.22 L193.04 172.77 L191.84 174.46 L190.83 176.27 L190.04 178.19 L189.46 180.18 L189.12 182.23 L189 184.3" fill="none" stroke="#484846" stroke-width="1.05"/>
<path d="M209.2 165.8 L211.27 165.92 L213.32 166.26 L215.31 166.84 L217.23 167.63 L219.04 168.64 L220.73 169.84 L222.28 171.22 L223.66 172.77 L224.86 174.46 L225.87 176.27 L226.66 178.19 L227.24 180.18 L227.58 182.23 L227.7 184.3" fill="none" stroke="#484846" stroke-width="1.05"/>
<path d="M171.5 186.5 L171.6 188.24 L171.89 189.95 L172.37 191.62 L173.03 193.23 L173.88 194.75 L174.88 196.16 L176.04 197.46 L177.34 198.62 L178.75 199.62 L180.27 200.47 L181.88 201.13 L183.55 201.61 L185.26 201.9 L187 202" fill="none" stroke="#484846" stroke-width="1.05"/>
<path d="M171.5 186.2 L187 186.2" fill="none" stroke="#3a3a38" stroke-width="1.9"/>
<path d="M129.7 153.3 L129.79 154.9 L130.06 156.48 L130.5 158.02 L131.12 159.5 L131.89 160.91 L132.82 162.22 L133.89 163.41 L135.08 164.48 L136.39 165.41 L137.8 166.18 L139.28 166.8 L140.82 167.24 L142.4 167.51 L144 167.6" fill="none" stroke="#484846" stroke-width="1.05"/>
<path d="M129.7 153.3 L144 153.3" fill="none" stroke="#3a3a38" stroke-width="1.6"/>
<path d="M151.7 249.3 L151.79 250.9 L152.06 252.48 L152.5 254.02 L153.12 255.5 L153.89 256.91 L154.82 258.22 L155.89 259.41 L157.08 260.48 L158.39 261.41 L159.8 262.18 L161.28 262.8 L162.82 263.24 L164.4 263.51 L166 263.6" fill="none" stroke="#484846" stroke-width="1.05"/>
<path d="M166 249.3 L166 263.6" fill="none" stroke="#3a3a38" stroke-width="1.5"/>
<path d="M152 249 L166 249" fill="none" stroke="#55554f" stroke-width="0.8"/>
<path d="M218.1 205.5 L218.01 207.1 L217.74 208.68 L217.3 210.22 L216.68 211.7 L215.91 213.11 L214.98 214.42 L213.91 215.61 L212.72 216.68 L211.41 217.61 L210 218.38 L208.52 219 L206.98 219.44 L205.4 219.71 L203.8 219.8" fill="none" stroke="#484846" stroke-width="1.05"/>
<path d="M203.8 205.5 L203.8 219.8" fill="none" stroke="#3a3a38" stroke-width="1.5"/>
<path d="M250.3 216.5 L250.21 218.12 L249.94 219.73 L249.49 221.29 L248.86 222.79 L248.08 224.21 L247.14 225.54 L246.05 226.75 L244.84 227.84 L243.51 228.78 L242.09 229.56 L240.59 230.19 L239.03 230.64 L237.42 230.91 L235.8 231" fill="none" stroke="#484846" stroke-width="1.05"/>
<path d="M358.8 279.3 L358.92 277.17 L359.28 275.07 L359.87 273.02 L360.68 271.06 L361.71 269.19 L362.95 267.45 L364.36 265.86 L365.95 264.45 L367.69 263.21 L369.56 262.18 L371.52 261.37 L373.57 260.78 L375.67 260.42 L377.8 260.3" fill="none" stroke="#484846" stroke-width="1.05"/>
<path d="M377.8 260.3 L377.8 279.3" fill="none" stroke="#3a3a38" stroke-width="1.5"/>
<path d="M207.5 428.8 L205.43 428.68 L203.38 428.34 L201.39 427.76 L199.47 426.97 L197.66 425.96 L195.97 424.76 L194.42 423.38 L193.04 421.83 L191.84 420.14 L190.83 418.33 L190.04 416.41 L189.46 414.42 L189.12 412.37 L189 410.3" fill="none" stroke="#484846" stroke-width="1.05"/>
<path d="M209.2 428.8 L211.27 428.68 L213.32 428.34 L215.31 427.76 L217.23 426.97 L219.04 425.96 L220.73 424.76 L222.28 423.38 L223.66 421.83 L224.86 420.14 L225.87 418.33 L226.66 416.41 L227.24 414.42 L227.58 412.37 L227.7 410.3" fill="none" stroke="#484846" stroke-width="1.05"/>
<path d="M171.5 408.1 L171.6 406.36 L171.89 404.65 L172.37 402.98 L173.03 401.37 L173.88 399.85 L174.88 398.44 L176.04 397.14 L177.34 395.98 L178.75 394.98 L180.27 394.13 L181.88 393.47 L183.55 392.99 L185.26 392.7 L187 392.6" fill="none" stroke="#484846" stroke-width="1.05"/>
<path d="M171.5 408.4 L187 408.4" fill="none" stroke="#3a3a38" stroke-width="1.9"/>
<path d="M129.7 441.3 L129.79 439.7 L130.06 438.12 L130.5 436.58 L131.12 435.1 L131.89 433.69 L132.82 432.38 L133.89 431.19 L135.08 430.12 L136.39 429.19 L137.8 428.42 L139.28 427.8 L140.82 427.36 L142.4 427.09 L144 427" fill="none" stroke="#484846" stroke-width="1.05"/>
<path d="M129.7 441.3 L144 441.3" fill="none" stroke="#3a3a38" stroke-width="1.6"/>
<path d="M151.7 345.3 L151.79 343.7 L152.06 342.12 L152.5 340.58 L153.12 339.1 L153.89 337.69 L154.82 336.38 L155.89 335.19 L157.08 334.12 L158.39 333.19 L159.8 332.42 L161.28 331.8 L162.82 331.36 L164.4 331.09 L166 331" fill="none" stroke="#484846" stroke-width="1.05"/>
<path d="M166 345.3 L166 331" fill="none" stroke="#3a3a38" stroke-width="1.5"/>
<path d="M152 345.6 L166 345.6" fill="none" stroke="#55554f" stroke-width="0.8"/>
<path d="M218.1 389.1 L218.01 387.5 L217.74 385.92 L217.3 384.38 L216.68 382.9 L215.91 381.49 L214.98 380.18 L213.91 378.99 L212.72 377.92 L211.41 376.99 L210 376.22 L208.52 375.6 L206.98 375.16 L205.4 374.89 L203.8 374.8" fill="none" stroke="#484846" stroke-width="1.05"/>
<path d="M203.8 389.1 L203.8 374.8" fill="none" stroke="#3a3a38" stroke-width="1.5"/>
<path d="M250.3 378.1 L250.21 376.48 L249.94 374.87 L249.49 373.31 L248.86 371.81 L248.08 370.39 L247.14 369.06 L246.05 367.85 L244.84 366.76 L243.51 365.82 L242.09 365.04 L240.59 364.41 L239.03 363.96 L237.42 363.69 L235.8 363.6" fill="none" stroke="#484846" stroke-width="1.05"/>
<path d="M358.8 315.3 L358.92 317.43 L359.28 319.53 L359.87 321.58 L360.68 323.54 L361.71 325.41 L362.95 327.15 L364.36 328.74 L365.95 330.15 L367.69 331.39 L369.56 332.42 L371.52 333.23 L373.57 333.82 L375.67 334.18 L377.8 334.3" fill="none" stroke="#484846" stroke-width="1.05"/>
<path d="M377.8 334.3 L377.8 315.3" fill="none" stroke="#3a3a38" stroke-width="1.5"/>
<path d="M840.2 127.2 L792.5 127.2" fill="none" stroke="#9a9a9a" stroke-width="1" stroke-dasharray="1 2.6"/>
<path d="M963 165.8 L965.07 165.92 L967.12 166.26 L969.11 166.84 L971.03 167.63 L972.84 168.64 L974.53 169.84 L976.08 171.22 L977.46 172.77 L978.66 174.46 L979.67 176.27 L980.46 178.19 L981.04 180.18 L981.38 182.23 L981.5 184.3" fill="none" stroke="#484846" stroke-width="1.05"/>
<path d="M961.3 165.8 L959.23 165.92 L957.18 166.26 L955.19 166.84 L953.27 167.63 L951.46 168.64 L949.77 169.84 L948.22 171.22 L946.84 172.77 L945.64 174.46 L944.63 176.27 L943.84 178.19 L943.26 180.18 L942.92 182.23 L942.8 184.3" fill="none" stroke="#484846" stroke-width="1.05"/>
<path d="M999 186.5 L998.9 188.24 L998.61 189.95 L998.13 191.62 L997.47 193.23 L996.62 194.75 L995.62 196.16 L994.46 197.46 L993.16 198.62 L991.75 199.62 L990.23 200.47 L988.62 201.13 L986.95 201.61 L985.24 201.9 L983.5 202" fill="none" stroke="#484846" stroke-width="1.05"/>
<path d="M999 186.2 L983.5 186.2" fill="none" stroke="#3a3a38" stroke-width="1.9"/>
<path d="M1040.8 153.3 L1040.71 154.9 L1040.44 156.48 L1040 158.02 L1039.38 159.5 L1038.61 160.91 L1037.68 162.22 L1036.61 163.41 L1035.42 164.48 L1034.11 165.41 L1032.7 166.18 L1031.22 166.8 L1029.68 167.24 L1028.1 167.51 L1026.5 167.6" fill="none" stroke="#484846" stroke-width="1.05"/>
<path d="M1040.8 153.3 L1026.5 153.3" fill="none" stroke="#3a3a38" stroke-width="1.6"/>
<path d="M1018.8 249.3 L1018.71 250.9 L1018.44 252.48 L1018 254.02 L1017.38 255.5 L1016.61 256.91 L1015.68 258.22 L1014.61 259.41 L1013.42 260.48 L1012.11 261.41 L1010.7 262.18 L1009.22 262.8 L1007.68 263.24 L1006.1 263.51 L1004.5 263.6" fill="none" stroke="#484846" stroke-width="1.05"/>
<path d="M1004.5 249.3 L1004.5 263.6" fill="none" stroke="#3a3a38" stroke-width="1.5"/>
<path d="M1018.5 249 L1004.5 249" fill="none" stroke="#55554f" stroke-width="0.8"/>
<path d="M952.4 205.5 L952.49 207.1 L952.76 208.68 L953.2 210.22 L953.82 211.7 L954.59 213.11 L955.52 214.42 L956.59 215.61 L957.78 216.68 L959.09 217.61 L960.5 218.38 L961.98 219 L963.52 219.44 L965.1 219.71 L966.7 219.8" fill="none" stroke="#484846" stroke-width="1.05"/>
<path d="M966.7 205.5 L966.7 219.8" fill="none" stroke="#3a3a38" stroke-width="1.5"/>
<path d="M920.2 216.5 L920.29 218.12 L920.56 219.73 L921.01 221.29 L921.64 222.79 L922.42 224.21 L923.36 225.54 L924.45 226.75 L925.66 227.84 L926.99 228.78 L928.41 229.56 L929.91 230.19 L931.47 230.64 L933.08 230.91 L934.7 231" fill="none" stroke="#484846" stroke-width="1.05"/>
<path d="M811.7 279.3 L811.58 277.17 L811.22 275.07 L810.63 273.02 L809.82 271.06 L808.79 269.19 L807.55 267.45 L806.14 265.86 L804.55 264.45 L802.81 263.21 L800.94 262.18 L798.98 261.37 L796.93 260.78 L794.83 260.42 L792.7 260.3" fill="none" stroke="#484846" stroke-width="1.05"/>
<path d="M792.7 260.3 L792.7 279.3" fill="none" stroke="#3a3a38" stroke-width="1.5"/>
<path d="M963 428.8 L965.07 428.68 L967.12 428.34 L969.11 427.76 L971.03 426.97 L972.84 425.96 L974.53 424.76 L976.08 423.38 L977.46 421.83 L978.66 420.14 L979.67 418.33 L980.46 416.41 L981.04 414.42 L981.38 412.37 L981.5 410.3" fill="none" stroke="#484846" stroke-width="1.05"/>
<path d="M961.3 428.8 L959.23 428.68 L957.18 428.34 L955.19 427.76 L953.27 426.97 L951.46 425.96 L949.77 424.76 L948.22 423.38 L946.84 421.83 L945.64 420.14 L944.63 418.33 L943.84 416.41 L943.26 414.42 L942.92 412.37 L942.8 410.3" fill="none" stroke="#484846" stroke-width="1.05"/>
<path d="M999 408.1 L998.9 406.36 L998.61 404.65 L998.13 402.98 L997.47 401.37 L996.62 399.85 L995.62 398.44 L994.46 397.14 L993.16 395.98 L991.75 394.98 L990.23 394.13 L988.62 393.47 L986.95 392.99 L985.24 392.7 L983.5 392.6" fill="none" stroke="#484846" stroke-width="1.05"/>
<path d="M999 408.4 L983.5 408.4" fill="none" stroke="#3a3a38" stroke-width="1.9"/>
<path d="M1040.8 441.3 L1040.71 439.7 L1040.44 438.12 L1040 436.58 L1039.38 435.1 L1038.61 433.69 L1037.68 432.38 L1036.61 431.19 L1035.42 430.12 L1034.11 429.19 L1032.7 428.42 L1031.22 427.8 L1029.68 427.36 L1028.1 427.09 L1026.5 427" fill="none" stroke="#484846" stroke-width="1.05"/>
<path d="M1040.8 441.3 L1026.5 441.3" fill="none" stroke="#3a3a38" stroke-width="1.6"/>
<path d="M1018.8 345.3 L1018.71 343.7 L1018.44 342.12 L1018 340.58 L1017.38 339.1 L1016.61 337.69 L1015.68 336.38 L1014.61 335.19 L1013.42 334.12 L1012.11 333.19 L1010.7 332.42 L1009.22 331.8 L1007.68 331.36 L1006.1 331.09 L1004.5 331" fill="none" stroke="#484846" stroke-width="1.05"/>
<path d="M1004.5 345.3 L1004.5 331" fill="none" stroke="#3a3a38" stroke-width="1.5"/>
<path d="M1018.5 345.6 L1004.5 345.6" fill="none" stroke="#55554f" stroke-width="0.8"/>
<path d="M952.4 389.1 L952.49 387.5 L952.76 385.92 L953.2 384.38 L953.82 382.9 L954.59 381.49 L955.52 380.18 L956.59 378.99 L957.78 377.92 L959.09 376.99 L960.5 376.22 L961.98 375.6 L963.52 375.16 L965.1 374.89 L966.7 374.8" fill="none" stroke="#484846" stroke-width="1.05"/>
<path d="M966.7 389.1 L966.7 374.8" fill="none" stroke="#3a3a38" stroke-width="1.5"/>
<path d="M920.2 378.1 L920.29 376.48 L920.56 374.87 L921.01 373.31 L921.64 371.81 L922.42 370.39 L923.36 369.06 L924.45 367.85 L925.66 366.76 L926.99 365.82 L928.41 365.04 L929.91 364.41 L931.47 363.96 L933.08 363.69 L934.7 363.6" fill="none" stroke="#484846" stroke-width="1.05"/>
<path d="M811.7 315.3 L811.58 317.43 L811.22 319.53 L810.63 321.58 L809.82 323.54 L808.79 325.41 L807.55 327.15 L806.14 328.74 L804.55 330.15 L802.81 331.39 L800.94 332.42 L798.98 333.23 L796.93 333.82 L794.83 334.18 L792.7 334.3" fill="none" stroke="#484846" stroke-width="1.05"/>
<path d="M792.7 334.3 L792.7 315.3" fill="none" stroke="#3a3a38" stroke-width="1.5"/>
<path d="M318.3 281.8 L352.3 312.5" fill="none" stroke="#4a4a46" stroke-width="1"/>
<path d="M352.3 281.8 L318.3 312.5" fill="none" stroke="#4a4a46" stroke-width="1"/>
<path d="M416.3 261.2 L469 261.2 L469 317.8 L416.3 317.8 L416.3 261.2" fill="none" stroke="#55554f" stroke-width="0.9"/>
<path d="M416.3 261.2 L469 317.8" fill="none" stroke="#4a4a46" stroke-width="1"/>
<path d="M469 261.2 L416.3 317.8" fill="none" stroke="#4a4a46" stroke-width="1"/>
<path d="M334 467.7 L381 467.7" fill="none" stroke="#9a9a9a" stroke-width="1" stroke-dasharray="1 2.6"/>
<path d="M409 499 L409 559" fill="none" stroke="#9a9a9a" stroke-width="1" stroke-dasharray="1 2.6"/>
<path d="M560.6 511.3 L560.6 545.5 L586 545.5" fill="none" stroke="#55554f" stroke-width="1"/>
<path d="M852.2 281.8 L818.2 312.5" fill="none" stroke="#4a4a46" stroke-width="1"/>
<path d="M818.2 281.8 L852.2 312.5" fill="none" stroke="#4a4a46" stroke-width="1"/>
<path d="M754.2 261.2 L701.5 261.2 L701.5 317.8 L754.2 317.8 L754.2 261.2" fill="none" stroke="#55554f" stroke-width="0.9"/>
<path d="M754.2 261.2 L701.5 317.8" fill="none" stroke="#4a4a46" stroke-width="1" stroke-dasharray="3 2"/>
<path d="M701.5 261.2 L754.2 317.8" fill="none" stroke="#4a4a46" stroke-width="1"/>
<path d="M836.5 467.7 L789.5 467.7" fill="none" stroke="#9a9a9a" stroke-width="1" stroke-dasharray="1 2.6"/>
<path d="M761.5 499 L761.5 559" fill="none" stroke="#9a9a9a" stroke-width="1" stroke-dasharray="1 2.6"/>
<path d="M609.9 511.3 L609.9 545.5 L584.5 545.5" fill="none" stroke="#55554f" stroke-width="1"/>
<path d="M170.8 251 L231.9 359.5" fill="none" stroke="#55554f" stroke-width="0.9"/>
<path d="M231.9 235 L170.8 343.5" fill="none" stroke="#55554f" stroke-width="0.9"/>
<path d="M999.7 251 L938.6 359.5" fill="none" stroke="#55554f" stroke-width="0.9"/>
<path d="M938.6 235 L999.7 343.5" fill="none" stroke="#55554f" stroke-width="0.9"/>
<path d="M560.6 511.3 L610 545.5" fill="none" stroke="#4a4a46" stroke-width="1"/>
<path d="M610 511.3 L560.6 545.5" fill="none" stroke="#4a4a46" stroke-width="1"/>
<path d="M383 127.2 L435 127.2" fill="none" stroke="#9a9a9a" stroke-width="1" stroke-dasharray="1 2.6"/>
<path d="M462.3 169 L460.62 169.09 L458.96 169.38 L457.35 169.84 L455.79 170.49 L454.32 171.3 L452.95 172.27 L451.69 173.39 L450.57 174.65 L449.6 176.02 L448.79 177.49 L448.14 179.05 L447.68 180.66 L447.39 182.32 L447.3 184" fill="none" stroke="#484846" stroke-width="1.05"/>
<path d="M466 166.5 L468.02 166.61 L470.01 166.95 L471.95 167.51 L473.81 168.28 L475.58 169.26 L477.22 170.43 L478.73 171.77 L480.07 173.28 L481.24 174.92 L482.22 176.69 L482.99 178.55 L483.55 180.49 L483.89 182.48 L484 184.5" fill="none" stroke="#484846" stroke-width="1.05"/>
<path d="M425.5 186.7 L425.62 188.83 L425.98 190.93 L426.57 192.98 L427.38 194.94 L428.41 196.81 L429.65 198.55 L431.06 200.14 L432.65 201.55 L434.39 202.79 L436.26 203.82 L438.22 204.63 L440.27 205.22 L442.37 205.58 L444.5 205.7" fill="none" stroke="#484846" stroke-width="1.05"/>
<path d="M425.5 186.7 L444.5 186.7" fill="none" stroke="#4a4a46" stroke-width="1.8"/>
<path d="M460 212.5 L459.91 214.07 L459.65 215.62 L459.21 217.12 L458.61 218.57 L457.85 219.95 L456.95 221.23 L455.9 222.4 L454.73 223.45 L453.45 224.35 L452.07 225.11 L450.62 225.71 L449.12 226.15 L447.57 226.41 L446 226.5" fill="none" stroke="#484846" stroke-width="1.05"/>
<path d="M446 212.3 L460 212.3" fill="none" stroke="#4a4a46" stroke-width="1.6"/>
<path d="M563.5 267 L563.62 264.93 L563.96 262.88 L564.54 260.89 L565.33 258.97 L566.34 257.16 L567.54 255.47 L568.92 253.92 L570.47 252.54 L572.16 251.34 L573.97 250.33 L575.89 249.54 L577.88 248.96 L579.93 248.62 L582 248.5" fill="none" stroke="#484846" stroke-width="1.05"/>
<path d="M582 248.5 L582 267" fill="none" stroke="#3a3a38" stroke-width="1.5"/>
<path d="M481 274.3 L481.09 275.98 L481.38 277.64 L481.84 279.25 L482.49 280.81 L483.3 282.28 L484.27 283.65 L485.39 284.91 L486.65 286.03 L488.02 287 L489.49 287.81 L491.05 288.46 L492.66 288.92 L494.32 289.21 L496 289.3" fill="none" stroke="#484846" stroke-width="1.05"/>
<path d="M787.5 127.2 L735.5 127.2" fill="none" stroke="#9a9a9a" stroke-width="1" stroke-dasharray="1 2.6"/>
<path d="M708.2 169 L709.88 169.09 L711.54 169.38 L713.15 169.84 L714.71 170.49 L716.18 171.3 L717.55 172.27 L718.81 173.39 L719.93 174.65 L720.9 176.02 L721.71 177.49 L722.36 179.05 L722.82 180.66 L723.11 182.32 L723.2 184" fill="none" stroke="#484846" stroke-width="1.05"/>
<path d="M704.5 166.5 L702.48 166.61 L700.49 166.95 L698.55 167.51 L696.69 168.28 L694.92 169.26 L693.28 170.43 L691.77 171.77 L690.43 173.28 L689.26 174.92 L688.28 176.69 L687.51 178.55 L686.95 180.49 L686.61 182.48 L686.5 184.5" fill="none" stroke="#484846" stroke-width="1.05"/>
<path d="M745 186.7 L744.88 188.83 L744.52 190.93 L743.93 192.98 L743.12 194.94 L742.09 196.81 L740.85 198.55 L739.44 200.14 L737.85 201.55 L736.11 202.79 L734.24 203.82 L732.28 204.63 L730.23 205.22 L728.13 205.58 L726 205.7" fill="none" stroke="#484846" stroke-width="1.05"/>
<path d="M745 186.7 L726 186.7" fill="none" stroke="#4a4a46" stroke-width="1.8"/>
<path d="M710.5 212.5 L710.59 214.07 L710.85 215.62 L711.29 217.12 L711.89 218.57 L712.65 219.95 L713.55 221.23 L714.6 222.4 L715.77 223.45 L717.05 224.35 L718.43 225.11 L719.88 225.71 L721.38 226.15 L722.93 226.41 L724.5 226.5" fill="none" stroke="#484846" stroke-width="1.05"/>
<path d="M724.5 212.3 L710.5 212.3" fill="none" stroke="#4a4a46" stroke-width="1.6"/>
<path d="M607 267 L606.88 264.93 L606.54 262.88 L605.96 260.89 L605.17 258.97 L604.16 257.16 L602.96 255.47 L601.58 253.92 L600.03 252.54 L598.34 251.34 L596.53 250.33 L594.61 249.54 L592.62 248.96 L590.57 248.62 L588.5 248.5" fill="none" stroke="#484846" stroke-width="1.05"/>
<path d="M588.5 248.5 L588.5 267" fill="none" stroke="#3a3a38" stroke-width="1.5"/>
<path d="M689.5 274.3 L689.41 275.98 L689.12 277.64 L688.66 279.25 L688.01 280.81 L687.2 282.28 L686.23 283.65 L685.11 284.91 L683.85 286.03 L682.48 287 L681.01 287.81 L679.45 288.46 L677.84 288.92 L676.18 289.21 L674.5 289.3" fill="none" stroke="#484846" stroke-width="1.05"/>
<path d="M540 485.5 L540.12 487.68 L540.49 489.84 L541.09 491.94 L541.93 493.96 L542.99 495.87 L544.25 497.66 L545.71 499.29 L547.34 500.75 L549.13 502.01 L551.04 503.07 L553.06 503.91 L555.16 504.51 L557.32 504.88 L559.5 505" fill="none" stroke="#484846" stroke-width="1.05"/>
<path d="M540 485.8 L559.5 485.8" fill="none" stroke="#4a4a46" stroke-width="1.8"/>
<path d="M449 623.5 L449.11 621.6 L449.43 619.72 L449.95 617.89 L450.68 616.12 L451.61 614.46 L452.71 612.9 L453.98 611.48 L455.4 610.21 L456.96 609.11 L458.62 608.18 L460.39 607.45 L462.22 606.93 L464.1 606.61 L466 606.5" fill="none" stroke="#484846" stroke-width="1.05"/>
<path d="M449 624.3 L466 624.3" fill="none" stroke="#4a4a46" stroke-width="1.8"/>
<path d="M480 625.3 L480.11 627.26 L480.44 629.19 L480.98 631.08 L481.73 632.89 L482.68 634.61 L483.82 636.21 L485.13 637.67 L486.59 638.98 L488.19 640.12 L489.91 641.07 L491.72 641.82 L493.61 642.36 L495.54 642.69 L497.5 642.8" fill="none" stroke="#484846" stroke-width="1.05"/>
<path d="M514.8 609 L514.71 610.6 L514.44 612.18 L514 613.72 L513.38 615.2 L512.61 616.61 L511.68 617.92 L510.61 619.11 L509.42 620.18 L508.11 621.11 L506.7 621.88 L505.22 622.5 L503.68 622.94 L502.1 623.21 L500.5 623.3" fill="none" stroke="#484846" stroke-width="1.05"/>
<path d="M500.5 609 L514.8 609" fill="none" stroke="#3a3a38" stroke-width="1.5"/>
<path d="M514.8 647.5 L514.71 649.1 L514.44 650.68 L514 652.22 L513.38 653.7 L512.61 655.11 L511.68 656.42 L510.61 657.61 L509.42 658.68 L508.11 659.61 L506.7 660.38 L505.22 661 L503.68 661.44 L502.1 661.71 L500.5 661.8" fill="none" stroke="#484846" stroke-width="1.05"/>
<path d="M500.5 647.3 L514.8 647.3" fill="none" stroke="#3a3a38" stroke-width="1.5"/>
<path d="M544 601 L544.09 602.57 L544.35 604.12 L544.79 605.62 L545.39 607.07 L546.15 608.45 L547.05 609.73 L548.1 610.9 L549.27 611.95 L550.55 612.85 L551.93 613.61 L553.38 614.21 L554.88 614.65 L556.43 614.91 L558 615" fill="none" stroke="#484846" stroke-width="1.05"/>
<path d="M630.5 485.5 L630.38 487.68 L630.01 489.84 L629.41 491.94 L628.57 493.96 L627.51 495.87 L626.25 497.66 L624.79 499.29 L623.16 500.75 L621.37 502.01 L619.46 503.07 L617.44 503.91 L615.34 504.51 L613.18 504.88 L611 505" fill="none" stroke="#484846" stroke-width="1.05"/>
<path d="M630.5 485.8 L611 485.8" fill="none" stroke="#4a4a46" stroke-width="1.8"/>
<path d="M721.5 623.5 L721.39 621.6 L721.07 619.72 L720.55 617.89 L719.82 616.12 L718.89 614.46 L717.79 612.9 L716.52 611.48 L715.1 610.21 L713.54 609.11 L711.88 608.18 L710.11 607.45 L708.28 606.93 L706.4 606.61 L704.5 606.5" fill="none" stroke="#484846" stroke-width="1.05"/>
<path d="M721.5 624.3 L704.5 624.3" fill="none" stroke="#4a4a46" stroke-width="1.8"/>
<path d="M690.5 625.3 L690.39 627.26 L690.06 629.19 L689.52 631.08 L688.77 632.89 L687.82 634.61 L686.68 636.21 L685.37 637.67 L683.91 638.98 L682.31 640.12 L680.59 641.07 L678.78 641.82 L676.89 642.36 L674.96 642.69 L673 642.8" fill="none" stroke="#484846" stroke-width="1.05"/>
<path d="M655.7 609 L655.79 610.6 L656.06 612.18 L656.5 613.72 L657.12 615.2 L657.89 616.61 L658.82 617.92 L659.89 619.11 L661.08 620.18 L662.39 621.11 L663.8 621.88 L665.28 622.5 L666.82 622.94 L668.4 623.21 L670 623.3" fill="none" stroke="#484846" stroke-width="1.05"/>
<path d="M670 609 L655.7 609" fill="none" stroke="#3a3a38" stroke-width="1.5"/>
<path d="M655.7 647.5 L655.79 649.1 L656.06 650.68 L656.5 652.22 L657.12 653.7 L657.89 655.11 L658.82 656.42 L659.89 657.61 L661.08 658.68 L662.39 659.61 L663.8 660.38 L665.28 661 L666.82 661.44 L668.4 661.71 L670 661.8" fill="none" stroke="#484846" stroke-width="1.05"/>
<path d="M670 647.3 L655.7 647.3" fill="none" stroke="#3a3a38" stroke-width="1.5"/>
<path d="M626.5 601 L626.41 602.57 L626.15 604.12 L625.71 605.62 L625.11 607.07 L624.35 608.45 L623.45 609.73 L622.4 610.9 L621.23 611.95 L619.95 612.85 L618.57 613.61 L617.12 614.21 L615.62 614.65 L614.07 614.91 L612.5 615" fill="none" stroke="#484846" stroke-width="1.05"/>
<path d="M504.7 421.3 L528.8 421.3" fill="none" stroke="#3a3a3a" stroke-width="1.15"/>
<path d="M532.2 421.3 L556.3 421.3" fill="none" stroke="#3a3a3a" stroke-width="1.15"/>
<path d="M504.7 426.35 L528.8 426.35" fill="none" stroke="#3a3a3a" stroke-width="1.15"/>
<path d="M532.2 426.35 L556.3 426.35" fill="none" stroke="#3a3a3a" stroke-width="1.15"/>
<path d="M504.7 431.4 L528.8 431.4" fill="none" stroke="#3a3a3a" stroke-width="1.15"/>
<path d="M532.2 431.4 L556.3 431.4" fill="none" stroke="#3a3a3a" stroke-width="1.15"/>
<path d="M504.7 436.45 L528.8 436.45" fill="none" stroke="#3a3a3a" stroke-width="1.15"/>
<path d="M532.2 436.45 L556.3 436.45" fill="none" stroke="#3a3a3a" stroke-width="1.15"/>
<path d="M504.7 441.5 L528.8 441.5" fill="none" stroke="#3a3a3a" stroke-width="1.15"/>
<path d="M532.2 441.5 L556.3 441.5" fill="none" stroke="#3a3a3a" stroke-width="1.15"/>
<path d="M504.7 446.55 L528.8 446.55" fill="none" stroke="#3a3a3a" stroke-width="1.15"/>
<path d="M532.2 446.55 L556.3 446.55" fill="none" stroke="#3a3a3a" stroke-width="1.15"/>
<path d="M504.7 451.6 L528.8 451.6" fill="none" stroke="#3a3a3a" stroke-width="1.15"/>
<path d="M532.2 451.6 L556.3 451.6" fill="none" stroke="#3a3a3a" stroke-width="1.15"/>
<path d="M504.7 456.65 L528.8 456.65" fill="none" stroke="#3a3a3a" stroke-width="1.15"/>
<path d="M532.2 456.65 L556.3 456.65" fill="none" stroke="#3a3a3a" stroke-width="1.15"/>
<path d="M528.8 421.3 L528.8 456.7" fill="none" stroke="#4a4a4a" stroke-width="0.9"/>
<path d="M532.2 421.3 L532.2 456.7" fill="none" stroke="#4a4a4a" stroke-width="0.9"/>
<path d="M516.8 417.5 L516.8 436.7" fill="none" stroke="#3a3a3a" stroke-width="0.9"/>
<path d="M507.8 431.3 L516.8 436.9 L525.8 431.3" fill="none" stroke="#3a3a3a" stroke-width="1"/>
<path d="M544.7 417.5 L544.7 436.7" fill="none" stroke="#3a3a3a" stroke-width="0.9"/>
<path d="M535.7 431.3 L544.7 436.9 L553.7 431.3" fill="none" stroke="#3a3a3a" stroke-width="1"/>
</g>
<g id="L-furn" shape-rendering="auto">
<path d="M283 184.8 L283 174.1" fill="none" stroke="#2e2e2c" stroke-width="1.7"/>
<path d="M319.2 184.8 L319.2 174.1" fill="none" stroke="#2e2e2c" stroke-width="1.7"/>
<path d="M283 182.6 L319.2 182.6" fill="none" stroke="#444440" stroke-width="0.9"/>
<path d="M283 174.7 L284.42 174.8 L285.8 175.09 L287.11 175.56 L288.32 176.21 L289.4 177.01 L290.32 177.96 L291.06 179.01 L291.61 180.16 L291.94 181.36 L292.05 182.6" fill="none" stroke="#444440" stroke-width="0.9"/>
<path d="M292.05 174.7 L290.63 174.8 L289.25 175.09 L287.94 175.56 L286.73 176.21 L285.65 177.01 L284.73 177.96 L283.99 179.01 L283.44 180.16 L283.11 181.36 L283 182.6" fill="none" stroke="#444440" stroke-width="0.9"/>
<path d="M292.05 174.7 L293.47 174.8 L294.85 175.09 L296.16 175.56 L297.37 176.21 L298.45 177.01 L299.37 177.96 L300.11 179.01 L300.66 180.16 L300.99 181.36 L301.1 182.6" fill="none" stroke="#444440" stroke-width="0.9"/>
<path d="M301.1 174.7 L299.68 174.8 L298.3 175.09 L296.99 175.56 L295.78 176.21 L294.7 177.01 L293.78 177.96 L293.04 179.01 L292.49 180.16 L292.16 181.36 L292.05 182.6" fill="none" stroke="#444440" stroke-width="0.9"/>
<path d="M292.05 184 L292.05 181.4" fill="none" stroke="#2e2e2c" stroke-width="1.3"/>
<path d="M301.1 174.7 L302.52 174.8 L303.9 175.09 L305.21 175.56 L306.42 176.21 L307.5 177.01 L308.42 177.96 L309.16 179.01 L309.71 180.16 L310.04 181.36 L310.15 182.6" fill="none" stroke="#444440" stroke-width="0.9"/>
<path d="M310.15 174.7 L308.73 174.8 L307.35 175.09 L306.04 175.56 L304.83 176.21 L303.75 177.01 L302.83 177.96 L302.09 179.01 L301.54 180.16 L301.21 181.36 L301.1 182.6" fill="none" stroke="#444440" stroke-width="0.9"/>
<path d="M301.1 184 L301.1 181.4" fill="none" stroke="#2e2e2c" stroke-width="1.3"/>
<path d="M310.15 174.7 L311.57 174.8 L312.95 175.09 L314.26 175.56 L315.47 176.21 L316.55 177.01 L317.47 177.96 L318.21 179.01 L318.76 180.16 L319.09 181.36 L319.2 182.6" fill="none" stroke="#444440" stroke-width="0.9"/>
<path d="M319.2 174.7 L317.78 174.8 L316.4 175.09 L315.09 175.56 L313.88 176.21 L312.8 177.01 L311.88 177.96 L311.14 179.01 L310.59 180.16 L310.26 181.36 L310.15 182.6" fill="none" stroke="#444440" stroke-width="0.9"/>
<path d="M310.15 184 L310.15 181.4" fill="none" stroke="#2e2e2c" stroke-width="1.3"/>
<rect x="146" y="112.5" width="6" height="5.5" fill="#66665f" stroke="#4a4a46" stroke-width="0.8"/>
<rect x="147.4" y="113.9" width="3.2" height="2.7" fill="#8a8a80" stroke="#4a4a46" stroke-width="0.5"/>
<rect x="146" y="145" width="7" height="7" fill="#66665f" stroke="#4a4a46" stroke-width="0.8"/>
<rect x="147.4" y="146.4" width="4.2" height="4.2" fill="#8a8a80" stroke="#4a4a46" stroke-width="0.5"/>
<rect x="146" y="114.5" width="34" height="29.7" fill="rgba(255,255,255,0.28)" stroke="#55554f" stroke-width="1.3"/>
<rect x="147.2" y="116.5" width="30.8" height="25.7" fill="none" stroke="#77776f" stroke-width="0.8"/>
<rect x="146" y="114.5" width="1.6" height="29.7" fill="#66665f" stroke="#55554f" stroke-width="0.5"/>
<rect x="148.6" y="120.44" width="6" height="7.72" fill="rgba(255,255,255,0.28)" stroke="#4e4e4a" stroke-width="0.8"/>
<rect x="148.6" y="130.54" width="6" height="7.72" fill="rgba(255,255,255,0.28)" stroke="#4e4e4a" stroke-width="0.8"/>
<rect x="147.2" y="115.69" width="6.8" height="3.86" fill="#77776f" stroke="#55554f" stroke-width="0.6"/>
<rect x="147.2" y="139.15" width="6.8" height="3.86" fill="#77776f" stroke="#55554f" stroke-width="0.6"/>
<rect x="176" y="116.5" width="2" height="25.7" fill="none" stroke="#66665f" stroke-width="0.8"/>
<path d="M164.34 141.05 L162.34 140.51 L160.46 139.64 L158.76 138.45 L157.3 136.99 L156.11 135.29 L155.24 133.41 L154.7 131.41 L154.52 129.35 L154.7 127.29 L155.24 125.29 L156.11 123.41 L157.3 121.71 L158.76 120.25 L160.46 119.06 L162.34 118.19 L164.34 117.65" fill="none" stroke="#66665f" stroke-width="1"/>
<rect x="198.7" y="120.5" width="7.5" height="22" fill="rgba(255,255,255,0.28)" stroke="#4e4e4a" stroke-width="1"/>
<path d="M202.45 122.5 L202.45 140.5" fill="none" stroke="#66665f" stroke-width="1.6"/>
<rect x="145.5" y="173.3" width="15.3" height="9.7" fill="#9c9c92" stroke="#4c4c48" stroke-width="1"/>
<path d="M148.56 174.5 L148.56 181.8" fill="none" stroke="#55554f" stroke-width="1"/>
<path d="M151.62 174.5 L151.62 181.8" fill="none" stroke="#55554f" stroke-width="1"/>
<path d="M154.68 174.5 L154.68 181.8" fill="none" stroke="#55554f" stroke-width="1"/>
<path d="M157.74 174.5 L157.74 181.8" fill="none" stroke="#55554f" stroke-width="1"/>
<path d="M145.5 178.15 L160.8 178.15" fill="none" stroke="#d0d0c4" stroke-width="0.8"/>
<rect x="173.3" y="173.3" width="15" height="9.7" fill="#9c9c92" stroke="#4c4c48" stroke-width="1"/>
<path d="M176.3 174.5 L176.3 181.8" fill="none" stroke="#55554f" stroke-width="1"/>
<path d="M179.3 174.5 L179.3 181.8" fill="none" stroke="#55554f" stroke-width="1"/>
<path d="M182.3 174.5 L182.3 181.8" fill="none" stroke="#55554f" stroke-width="1"/>
<path d="M185.3 174.5 L185.3 181.8" fill="none" stroke="#55554f" stroke-width="1"/>
<path d="M173.3 178.15 L188.3 178.15" fill="none" stroke="#d0d0c4" stroke-width="0.8"/>
<rect x="160.8" y="175.5" width="12.5" height="7.5" fill="rgba(255,255,255,0.28)" stroke="#4e4e4a" stroke-width="0.8"/>
<rect x="163.3" y="168" width="7" height="7" fill="rgba(255,255,255,0.28)" stroke="#4e4e4a" stroke-width="1"/>
<rect x="164.5" y="169.2" width="4.6" height="4.6" fill="none" stroke="#8a8a82" stroke-width="0.6"/>
<rect x="216.7" y="119.5" width="6.8" height="8.5" fill="#66665f" stroke="#4a4a46" stroke-width="0.8"/>
<rect x="218.1" y="120.9" width="4" height="5.7" fill="#8a8a80" stroke="#4a4a46" stroke-width="0.5"/>
<rect x="256.2" y="119.5" width="5.8" height="8" fill="rgba(255,255,255,0.28)" stroke="#4e4e4a" stroke-width="0.8"/>
<rect x="224.2" y="119.5" width="31.6" height="33.5" fill="rgba(255,255,255,0.28)" stroke="#55554f" stroke-width="1.3"/>
<rect x="226.2" y="120.7" width="27.6" height="30.3" fill="none" stroke="#77776f" stroke-width="0.8"/>
<rect x="224.2" y="119.5" width="31.6" height="1.6" fill="#66665f" stroke="#55554f" stroke-width="0.5"/>
<rect x="230.52" y="122.1" width="8.22" height="6" fill="rgba(255,255,255,0.28)" stroke="#4e4e4a" stroke-width="0.8"/>
<rect x="241.26" y="122.1" width="8.22" height="6" fill="rgba(255,255,255,0.28)" stroke="#4e4e4a" stroke-width="0.8"/>
<rect x="225.46" y="120.7" width="4.11" height="6.8" fill="#77776f" stroke="#55554f" stroke-width="0.6"/>
<rect x="250.43" y="120.7" width="4.11" height="6.8" fill="#77776f" stroke="#55554f" stroke-width="0.6"/>
<rect x="226.2" y="149" width="27.6" height="2" fill="none" stroke="#66665f" stroke-width="0.8"/>
<path d="M252.45 137.41 L251.88 135.28 L250.95 133.28 L249.68 131.48 L248.12 129.92 L246.32 128.65 L244.32 127.72 L242.19 127.15 L240 126.96 L237.81 127.15 L235.68 127.72 L233.68 128.65 L231.88 129.92 L230.32 131.48 L229.05 133.28 L228.12 135.28 L227.55 137.41" fill="none" stroke="#66665f" stroke-width="1"/>
<rect x="228" y="173.3" width="15.3" height="9.7" fill="#9c9c92" stroke="#4c4c48" stroke-width="1"/>
<path d="M231.06 174.5 L231.06 181.8" fill="none" stroke="#55554f" stroke-width="1"/>
<path d="M234.12 174.5 L234.12 181.8" fill="none" stroke="#55554f" stroke-width="1"/>
<path d="M237.18 174.5 L237.18 181.8" fill="none" stroke="#55554f" stroke-width="1"/>
<path d="M240.24 174.5 L240.24 181.8" fill="none" stroke="#55554f" stroke-width="1"/>
<path d="M228 178.15 L243.3 178.15" fill="none" stroke="#d0d0c4" stroke-width="0.8"/>
<rect x="255.8" y="173.3" width="15" height="9.7" fill="#9c9c92" stroke="#4c4c48" stroke-width="1"/>
<path d="M258.8 174.5 L258.8 181.8" fill="none" stroke="#55554f" stroke-width="1"/>
<path d="M261.8 174.5 L261.8 181.8" fill="none" stroke="#55554f" stroke-width="1"/>
<path d="M264.8 174.5 L264.8 181.8" fill="none" stroke="#55554f" stroke-width="1"/>
<path d="M267.8 174.5 L267.8 181.8" fill="none" stroke="#55554f" stroke-width="1"/>
<path d="M255.8 178.15 L270.8 178.15" fill="none" stroke="#d0d0c4" stroke-width="0.8"/>
<rect x="243.3" y="175.5" width="12.5" height="7.5" fill="rgba(255,255,255,0.28)" stroke="#4e4e4a" stroke-width="0.8"/>
<rect x="245.8" y="168" width="6.7" height="7" fill="rgba(255,255,255,0.28)" stroke="#4e4e4a" stroke-width="1"/>
<rect x="247" y="169.2" width="4.3" height="4.6" fill="none" stroke="#8a8a82" stroke-width="0.6"/>
<rect x="117" y="139.95" width="4.2" height="8.1" fill="rgba(255,255,255,0.28)" stroke="#4e4e4a" stroke-width="0.9"/>
<ellipse cx="126.1" cy="144" rx="5.04" ry="3.78" fill="rgba(255,255,255,0.28)" stroke="#4e4e4a" stroke-width="0.9"/>
<ellipse cx="126.1" cy="144" rx="2.52" ry="1.89" fill="none" stroke="#8a8a84" stroke-width="0.7"/>
<rect x="116" y="153" width="8" height="13" fill="rgba(255,255,255,0.28)" stroke="#4e4e4a" stroke-width="0.9"/>
<ellipse cx="120" cy="159.5" rx="2.64" ry="4.68" fill="none" stroke="#77776f" stroke-width="0.8"/>
<path d="M115 167.8 L143.5 167.8" fill="none" stroke="#8a8a84" stroke-width="0.7"/>
<circle cx="117.2" cy="171.5" r="0.9" fill="#4a4a46" stroke="#4a4a46" stroke-width="0.3"/>
<circle cx="117.2" cy="176" r="0.9" fill="#4a4a46" stroke="#4a4a46" stroke-width="0.3"/>
<rect x="120" y="186.5" width="22.5" height="6.5" fill="rgba(255,255,255,0.28)" stroke="#4e4e4a" stroke-width="1"/>
<path d="M122 189.75 L140.5 189.75" fill="none" stroke="#66665f" stroke-width="1.6"/>
<rect x="146" y="239.5" width="6" height="7" fill="#66665f" stroke="#4a4a46" stroke-width="0.8"/>
<rect x="147.4" y="240.9" width="3.2" height="4.2" fill="#8a8a80" stroke="#4a4a46" stroke-width="0.5"/>
<rect x="113" y="239.5" width="5" height="7" fill="rgba(255,255,255,0.28)" stroke="#4e4e4a" stroke-width="0.8"/>
<rect x="113.5" y="213.5" width="30" height="33" fill="rgba(255,255,255,0.28)" stroke="#55554f" stroke-width="1.3"/>
<rect x="115.5" y="215.5" width="26" height="29.8" fill="none" stroke="#77776f" stroke-width="0.8"/>
<rect x="113.5" y="244.9" width="30" height="1.6" fill="#66665f" stroke="#55554f" stroke-width="0.5"/>
<rect x="119.5" y="237.9" width="7.8" height="6" fill="rgba(255,255,255,0.28)" stroke="#4e4e4a" stroke-width="0.8"/>
<rect x="129.7" y="237.9" width="7.8" height="6" fill="rgba(255,255,255,0.28)" stroke="#4e4e4a" stroke-width="0.8"/>
<rect x="114.7" y="238.5" width="3.9" height="6.8" fill="#77776f" stroke="#55554f" stroke-width="0.6"/>
<rect x="138.4" y="238.5" width="3.9" height="6.8" fill="#77776f" stroke="#55554f" stroke-width="0.6"/>
<rect x="115.5" y="215.5" width="26" height="2" fill="none" stroke="#66665f" stroke-width="0.8"/>
<path d="M140.32 228.78 L139.78 230.8 L138.89 232.7 L137.69 234.41 L136.21 235.89 L134.5 237.09 L132.6 237.98 L130.58 238.52 L128.5 238.7 L126.42 238.52 L124.4 237.98 L122.5 237.09 L120.79 235.89 L119.31 234.41 L118.11 232.7 L117.22 230.8 L116.68 228.78" fill="none" stroke="#66665f" stroke-width="1"/>
<rect x="176.3" y="204.7" width="10" height="14.3" fill="#9c9c92" stroke="#4c4c48" stroke-width="1"/>
<path d="M177.5 208.27 L185.1 208.27" fill="none" stroke="#55554f" stroke-width="1"/>
<path d="M177.5 211.85 L185.1 211.85" fill="none" stroke="#55554f" stroke-width="1"/>
<path d="M177.5 215.43 L185.1 215.43" fill="none" stroke="#55554f" stroke-width="1"/>
<path d="M181.3 204.7 L181.3 219" fill="none" stroke="#d0d0c4" stroke-width="0.8"/>
<rect x="176.3" y="231.7" width="10" height="15" fill="#9c9c92" stroke="#4c4c48" stroke-width="1"/>
<path d="M177.5 234.7 L185.1 234.7" fill="none" stroke="#55554f" stroke-width="1"/>
<path d="M177.5 237.7 L185.1 237.7" fill="none" stroke="#55554f" stroke-width="1"/>
<path d="M177.5 240.7 L185.1 240.7" fill="none" stroke="#55554f" stroke-width="1"/>
<path d="M177.5 243.7 L185.1 243.7" fill="none" stroke="#55554f" stroke-width="1"/>
<path d="M181.3 231.7 L181.3 246.7" fill="none" stroke="#d0d0c4" stroke-width="0.8"/>
<rect x="178.5" y="219" width="7.8" height="12.7" fill="rgba(255,255,255,0.28)" stroke="#4e4e4a" stroke-width="0.8"/>
<rect x="171" y="222.3" width="6.7" height="6.9" fill="rgba(255,255,255,0.28)" stroke="#4e4e4a" stroke-width="1"/>
<rect x="172.2" y="223.5" width="4.3" height="4.5" fill="none" stroke="#8a8a82" stroke-width="0.6"/>
<rect x="137" y="251" width="8.3" height="10" fill="rgba(255,255,255,0.28)" stroke="#4e4e4a" stroke-width="0.9"/>
<ellipse cx="141.15" cy="256" rx="2.74" ry="3.6" fill="none" stroke="#77776f" stroke-width="0.8"/>
<rect x="137.3" y="265.05" width="4.41" height="9.9" fill="rgba(255,255,255,0.28)" stroke="#4e4e4a" stroke-width="0.9"/>
<ellipse cx="146.86" cy="270" rx="5.29" ry="4.62" fill="rgba(255,255,255,0.28)" stroke="#4e4e4a" stroke-width="0.9"/>
<ellipse cx="146.86" cy="270" rx="2.65" ry="2.31" fill="none" stroke="#8a8a84" stroke-width="0.7"/>
<path d="M136 280 L167 280" fill="none" stroke="#8a8a84" stroke-width="0.7"/>
<circle cx="137.8" cy="276.5" r="0.9" fill="#4a4a46" stroke="#4a4a46" stroke-width="0.3"/>
<circle cx="137.8" cy="281" r="0.9" fill="#4a4a46" stroke="#4a4a46" stroke-width="0.3"/>
<circle cx="138" cy="290.5" r="0.9" fill="#4a4a46" stroke="#4a4a46" stroke-width="0.3"/>
<rect x="194.85" y="224.3" width="6.3" height="4.2" fill="rgba(255,255,255,0.28)" stroke="#4e4e4a" stroke-width="0.9"/>
<ellipse cx="198" cy="219.4" rx="2.94" ry="5.04" fill="rgba(255,255,255,0.28)" stroke="#4e4e4a" stroke-width="0.9"/>
<ellipse cx="198" cy="219.4" rx="1.47" ry="2.52" fill="none" stroke="#8a8a84" stroke-width="0.7"/>
<circle cx="204.5" cy="229" r="1" fill="#4a4a46" stroke="#4a4a46" stroke-width="0.3"/>
<circle cx="210" cy="229" r="1" fill="#4a4a46" stroke="#4a4a46" stroke-width="0.3"/>
<circle cx="223" cy="229" r="1" fill="#4a4a46" stroke="#4a4a46" stroke-width="0.3"/>
<rect x="251.2" y="205.2" width="11.3" height="9.3" fill="rgba(255,255,255,0.28)" stroke="#4e4e4a" stroke-width="1"/>
<ellipse cx="256.85" cy="209.85" rx="4.29" ry="3.53" fill="rgba(255,255,255,0.28)" stroke="#66665f" stroke-width="0.9"/>
<ellipse cx="256.85" cy="209.85" rx="2.26" ry="1.86" fill="none" stroke="#8a8a84" stroke-width="0.6"/>
<rect x="250.8" y="216.7" width="11.5" height="11.6" fill="#8a8a84" stroke="#44443f" stroke-width="1"/>
<path d="M253.68 217.7 L253.68 227.3" fill="none" stroke="#4c4c48" stroke-width="1.2"/>
<path d="M256.55 217.7 L256.55 227.3" fill="none" stroke="#4c4c48" stroke-width="1.2"/>
<path d="M259.43 217.7 L259.43 227.3" fill="none" stroke="#4c4c48" stroke-width="1.2"/>
<path d="M265.8 283.3 L314.5 283.3" fill="none" stroke="#8a8a84" stroke-width="0.8"/>
<rect x="267.5" y="285.3" width="12.5" height="9" fill="rgba(255,255,255,0.28)" stroke="#4e4e4a" stroke-width="1"/>
<rect x="269.1" y="286.9" width="9.3" height="5.8" fill="none" stroke="#77776f" stroke-width="0.8"/>
<circle cx="273.75" cy="289.8" r="0.7" fill="#66665f" stroke="#66665f" stroke-width="0.3"/>
<rect x="296.7" y="285" width="11.3" height="10" fill="#5c5c58" stroke="#444440" stroke-width="0.8"/>
<path d="M297.7 290 L307 290" fill="none" stroke="#8a8a84" stroke-width="0.6"/>
<path d="M302.35 286 L302.35 294" fill="none" stroke="#8a8a84" stroke-width="0.6"/>
<rect x="280.8" y="243" width="12.5" height="12.8" fill="rgba(255,255,255,0.28)" stroke="#4e4e4a" stroke-width="1"/>
<rect x="281.75" y="207" width="7" height="7" fill="rgba(255,255,255,0.28)" stroke="#4e4e4a" stroke-width="0.9"/>
<rect x="281.75" y="206.7" width="7" height="2.1" fill="#77776f" stroke="#4e4e4a" stroke-width="0.6"/>
<path d="M280.75 208 L280.75 213" fill="none" stroke="#4e4e4a" stroke-width="0.9"/>
<path d="M289.75 208 L289.75 213" fill="none" stroke="#4e4e4a" stroke-width="0.9"/>
<rect x="293.25" y="207" width="7" height="7" fill="rgba(255,255,255,0.28)" stroke="#4e4e4a" stroke-width="0.9"/>
<rect x="293.25" y="206.7" width="7" height="2.1" fill="#77776f" stroke="#4e4e4a" stroke-width="0.6"/>
<path d="M292.25 208 L292.25 213" fill="none" stroke="#4e4e4a" stroke-width="0.9"/>
<path d="M301.25 208 L301.25 213" fill="none" stroke="#4e4e4a" stroke-width="0.9"/>
<rect x="281.75" y="228" width="7" height="7" fill="rgba(255,255,255,0.28)" stroke="#4e4e4a" stroke-width="0.9"/>
<rect x="281.75" y="233.2" width="7" height="2.1" fill="#77776f" stroke="#4e4e4a" stroke-width="0.6"/>
<path d="M280.75 229 L280.75 234" fill="none" stroke="#4e4e4a" stroke-width="0.9"/>
<path d="M289.75 229 L289.75 234" fill="none" stroke="#4e4e4a" stroke-width="0.9"/>
<rect x="293.25" y="228" width="7" height="7" fill="rgba(255,255,255,0.28)" stroke="#4e4e4a" stroke-width="0.9"/>
<rect x="293.25" y="233.2" width="7" height="2.1" fill="#77776f" stroke="#4e4e4a" stroke-width="0.6"/>
<path d="M292.25 229 L292.25 234" fill="none" stroke="#4e4e4a" stroke-width="0.9"/>
<path d="M301.25 229 L301.25 234" fill="none" stroke="#4e4e4a" stroke-width="0.9"/>
<rect x="274" y="217.5" width="7" height="7" fill="rgba(255,255,255,0.28)" stroke="#4e4e4a" stroke-width="0.9"/>
<rect x="273.7" y="217.5" width="2.1" height="7" fill="#77776f" stroke="#4e4e4a" stroke-width="0.6"/>
<path d="M275 216.5 L280 216.5" fill="none" stroke="#4e4e4a" stroke-width="0.9"/>
<path d="M275 225.5 L280 225.5" fill="none" stroke="#4e4e4a" stroke-width="0.9"/>
<rect x="301" y="217.5" width="7" height="7" fill="rgba(255,255,255,0.28)" stroke="#4e4e4a" stroke-width="0.9"/>
<rect x="306.2" y="217.5" width="2.1" height="7" fill="#77776f" stroke="#4e4e4a" stroke-width="0.6"/>
<path d="M302 216.5 L307 216.5" fill="none" stroke="#4e4e4a" stroke-width="0.9"/>
<path d="M302 225.5 L307 225.5" fill="none" stroke="#4e4e4a" stroke-width="0.9"/>
<path d="M282 212.5 L300 212.5 L302.5 215 L302.5 227 L300 229.5 L282 229.5 L279.5 227 L279.5 215Z" fill="rgba(255,255,255,0.28)" stroke="#4e4e4a" stroke-width="1"/>
<rect x="328.3" y="201" width="48.4" height="49" fill="none" stroke="#4e4e4a" stroke-width="1"/>
<rect x="335" y="195" width="11.7" height="11.7" fill="rgba(255,255,255,0.28)" stroke="#4e4e4a" stroke-width="1.1"/>
<rect x="335" y="195" width="11.7" height="2.93" fill="rgba(120,120,110,0.14)" stroke="#4e4e4a" stroke-width="0.8"/>
<rect x="335" y="197.93" width="2.11" height="8.77" fill="none" stroke="#4e4e4a" stroke-width="0.8"/>
<rect x="344.59" y="197.93" width="2.11" height="8.77" fill="none" stroke="#4e4e4a" stroke-width="0.8"/>
<rect x="351" y="195" width="12.3" height="11.7" fill="rgba(255,255,255,0.28)" stroke="#4e4e4a" stroke-width="1.1"/>
<rect x="351" y="195" width="12.3" height="2.93" fill="rgba(120,120,110,0.14)" stroke="#4e4e4a" stroke-width="0.8"/>
<rect x="351" y="197.93" width="2.21" height="8.77" fill="none" stroke="#4e4e4a" stroke-width="0.8"/>
<rect x="361.09" y="197.93" width="2.21" height="8.77" fill="none" stroke="#4e4e4a" stroke-width="0.8"/>
<rect x="366.3" y="197.5" width="10.4" height="10" fill="#66665f" stroke="#4a4a46" stroke-width="0.8"/>
<rect x="367.7" y="198.9" width="7.6" height="7.2" fill="#8a8a80" stroke="#4a4a46" stroke-width="0.5"/>
<rect x="365.8" y="210" width="11.1" height="34" fill="rgba(255,255,255,0.28)" stroke="#4e4e4a" stroke-width="1.1"/>
<rect x="374.12" y="210" width="2.77" height="34" fill="rgba(120,120,110,0.14)" stroke="#4e4e4a" stroke-width="0.8"/>
<rect x="366.36" y="212.04" width="7.77" height="9.52" fill="none" stroke="#4e4e4a" stroke-width="0.8"/>
<rect x="366.36" y="222.24" width="7.77" height="9.52" fill="none" stroke="#4e4e4a" stroke-width="0.8"/>
<rect x="366.36" y="232.44" width="7.77" height="9.52" fill="none" stroke="#4e4e4a" stroke-width="0.8"/>
<rect x="348" y="216.3" width="10.3" height="18.7" fill="rgba(255,255,255,0.28)" stroke="#4e4e4a" stroke-width="1"/>
<circle cx="372.5" cy="252.5" r="4.8" fill="#b9b9ae" stroke="#55554f" stroke-width="1"/>
<circle cx="372.5" cy="252.5" r="2.64" fill="#8f8f86" stroke="#55554f" stroke-width="0.8"/>
<path d="M372.5 252.5 L377.14 253.74" fill="none" stroke="#55554f" stroke-width="0.7"/>
<path d="M372.5 252.5 L373.74 257.14" fill="none" stroke="#55554f" stroke-width="0.7"/>
<path d="M372.5 252.5 L369.11 255.89" fill="none" stroke="#55554f" stroke-width="0.7"/>
<path d="M372.5 252.5 L367.86 251.26" fill="none" stroke="#55554f" stroke-width="0.7"/>
<path d="M372.5 252.5 L371.26 247.86" fill="none" stroke="#55554f" stroke-width="0.7"/>
<path d="M372.5 252.5 L375.89 249.11" fill="none" stroke="#55554f" stroke-width="0.7"/>
<rect x="328.3" y="269" width="22.5" height="8.5" fill="rgba(255,255,255,0.28)" stroke="#4e4e4a" stroke-width="1"/>
<path d="M330.3 273.25 L348.8 273.25" fill="none" stroke="#66665f" stroke-width="1.6"/>
<circle cx="305.3" cy="142.5" r="6" fill="rgba(255,255,255,0.25)" stroke="#7c7c7e" stroke-width="1.1"/>
<path d="M286.43 153.68 L292.82 147.93 L298.57 154.32 L292.18 160.07Z" fill="rgba(255,255,255,0.3)" stroke="#6a6a6c" stroke-width="1"/>
<path d="M285.11 153.11 L292.6 161.44" fill="none" stroke="#5e5e60" stroke-width="1.5"/>
<path d="M285.11 153.11 L291.32 147.54" fill="none" stroke="#6a6a6c" stroke-width="1.2"/>
<path d="M292.6 161.44 L298.8 155.87" fill="none" stroke="#6a6a6c" stroke-width="1.2"/>
<path d="M314.49 160.06 L308.94 153.49 L315.51 147.94 L321.06 154.51Z" fill="rgba(255,255,255,0.3)" stroke="#6a6a6c" stroke-width="1"/>
<path d="M313.88 161.36 L322.44 154.13" fill="none" stroke="#5e5e60" stroke-width="1.5"/>
<path d="M313.88 161.36 L308.5 154.98" fill="none" stroke="#6a6a6c" stroke-width="1.2"/>
<path d="M322.44 154.13 L317.06 147.76" fill="none" stroke="#6a6a6c" stroke-width="1.2"/>
<path d="M288.3 409.8 L288.3 420.5" fill="none" stroke="#2e2e2c" stroke-width="1.7"/>
<path d="M324.7 409.8 L324.7 420.5" fill="none" stroke="#2e2e2c" stroke-width="1.7"/>
<path d="M288.3 412 L324.7 412" fill="none" stroke="#444440" stroke-width="0.9"/>
<path d="M288.3 419.9 L289.72 419.8 L291.11 419.51 L292.43 419.04 L293.65 418.39 L294.73 417.59 L295.66 416.64 L296.41 415.59 L296.95 414.44 L297.29 413.24 L297.4 412" fill="none" stroke="#444440" stroke-width="0.9"/>
<path d="M297.4 419.9 L295.98 419.8 L294.59 419.51 L293.27 419.04 L292.05 418.39 L290.97 417.59 L290.04 416.64 L289.29 415.59 L288.75 414.44 L288.41 413.24 L288.3 412" fill="none" stroke="#444440" stroke-width="0.9"/>
<path d="M297.4 419.9 L298.82 419.8 L300.21 419.51 L301.53 419.04 L302.75 418.39 L303.83 417.59 L304.76 416.64 L305.51 415.59 L306.05 414.44 L306.39 413.24 L306.5 412" fill="none" stroke="#444440" stroke-width="0.9"/>
<path d="M306.5 419.9 L305.08 419.8 L303.69 419.51 L302.37 419.04 L301.15 418.39 L300.07 417.59 L299.14 416.64 L298.39 415.59 L297.85 414.44 L297.51 413.24 L297.4 412" fill="none" stroke="#444440" stroke-width="0.9"/>
<path d="M297.4 410.6 L297.4 413.2" fill="none" stroke="#2e2e2c" stroke-width="1.3"/>
<path d="M306.5 419.9 L307.92 419.8 L309.31 419.51 L310.63 419.04 L311.85 418.39 L312.93 417.59 L313.86 416.64 L314.61 415.59 L315.15 414.44 L315.49 413.24 L315.6 412" fill="none" stroke="#444440" stroke-width="0.9"/>
<path d="M315.6 419.9 L314.18 419.8 L312.79 419.51 L311.47 419.04 L310.25 418.39 L309.17 417.59 L308.24 416.64 L307.49 415.59 L306.95 414.44 L306.61 413.24 L306.5 412" fill="none" stroke="#444440" stroke-width="0.9"/>
<path d="M306.5 410.6 L306.5 413.2" fill="none" stroke="#2e2e2c" stroke-width="1.3"/>
<path d="M315.6 419.9 L317.02 419.8 L318.41 419.51 L319.73 419.04 L320.95 418.39 L322.03 417.59 L322.96 416.64 L323.71 415.59 L324.25 414.44 L324.59 413.24 L324.7 412" fill="none" stroke="#444440" stroke-width="0.9"/>
<path d="M324.7 419.9 L323.28 419.8 L321.89 419.51 L320.57 419.04 L319.35 418.39 L318.27 417.59 L317.34 416.64 L316.59 415.59 L316.05 414.44 L315.71 413.24 L315.6 412" fill="none" stroke="#444440" stroke-width="0.9"/>
<path d="M315.6 410.6 L315.6 413.2" fill="none" stroke="#2e2e2c" stroke-width="1.3"/>
<path d="M887.5 184.8 L887.5 174.1" fill="none" stroke="#2e2e2c" stroke-width="1.7"/>
<path d="M851.3 184.8 L851.3 174.1" fill="none" stroke="#2e2e2c" stroke-width="1.7"/>
<path d="M887.5 182.6 L851.3 182.6" fill="none" stroke="#444440" stroke-width="0.9"/>
<path d="M887.5 174.7 L886.08 174.8 L884.7 175.09 L883.39 175.56 L882.18 176.21 L881.1 177.01 L880.18 177.96 L879.44 179.01 L878.89 180.16 L878.56 181.36 L878.45 182.6" fill="none" stroke="#444440" stroke-width="0.9"/>
<path d="M878.45 174.7 L879.87 174.8 L881.25 175.09 L882.56 175.56 L883.77 176.21 L884.85 177.01 L885.77 177.96 L886.51 179.01 L887.06 180.16 L887.39 181.36 L887.5 182.6" fill="none" stroke="#444440" stroke-width="0.9"/>
<path d="M878.45 174.7 L877.03 174.8 L875.65 175.09 L874.34 175.56 L873.13 176.21 L872.05 177.01 L871.13 177.96 L870.39 179.01 L869.84 180.16 L869.51 181.36 L869.4 182.6" fill="none" stroke="#444440" stroke-width="0.9"/>
<path d="M869.4 174.7 L870.82 174.8 L872.2 175.09 L873.51 175.56 L874.72 176.21 L875.8 177.01 L876.72 177.96 L877.46 179.01 L878.01 180.16 L878.34 181.36 L878.45 182.6" fill="none" stroke="#444440" stroke-width="0.9"/>
<path d="M878.45 184 L878.45 181.4" fill="none" stroke="#2e2e2c" stroke-width="1.3"/>
<path d="M869.4 174.7 L867.98 174.8 L866.6 175.09 L865.29 175.56 L864.08 176.21 L863 177.01 L862.08 177.96 L861.34 179.01 L860.79 180.16 L860.46 181.36 L860.35 182.6" fill="none" stroke="#444440" stroke-width="0.9"/>
<path d="M860.35 174.7 L861.77 174.8 L863.15 175.09 L864.46 175.56 L865.67 176.21 L866.75 177.01 L867.67 177.96 L868.41 179.01 L868.96 180.16 L869.29 181.36 L869.4 182.6" fill="none" stroke="#444440" stroke-width="0.9"/>
<path d="M869.4 184 L869.4 181.4" fill="none" stroke="#2e2e2c" stroke-width="1.3"/>
<path d="M860.35 174.7 L858.93 174.8 L857.55 175.09 L856.24 175.56 L855.03 176.21 L853.95 177.01 L853.03 177.96 L852.29 179.01 L851.74 180.16 L851.41 181.36 L851.3 182.6" fill="none" stroke="#444440" stroke-width="0.9"/>
<path d="M851.3 174.7 L852.72 174.8 L854.1 175.09 L855.41 175.56 L856.62 176.21 L857.7 177.01 L858.62 177.96 L859.36 179.01 L859.91 180.16 L860.24 181.36 L860.35 182.6" fill="none" stroke="#444440" stroke-width="0.9"/>
<path d="M860.35 184 L860.35 181.4" fill="none" stroke="#2e2e2c" stroke-width="1.3"/>
<path d="M885.8 409.8 L885.8 420.5" fill="none" stroke="#2e2e2c" stroke-width="1.7"/>
<path d="M850.8 409.8 L850.8 420.5" fill="none" stroke="#2e2e2c" stroke-width="1.7"/>
<path d="M885.8 412 L850.8 412" fill="none" stroke="#444440" stroke-width="0.9"/>
<path d="M885.8 419.9 L884.43 419.8 L883.1 419.51 L881.83 419.04 L880.66 418.39 L879.61 417.59 L878.72 416.64 L878 415.59 L877.48 414.44 L877.16 413.24 L877.05 412" fill="none" stroke="#444440" stroke-width="0.9"/>
<path d="M877.05 419.9 L878.42 419.8 L879.75 419.51 L881.02 419.04 L882.19 418.39 L883.24 417.59 L884.13 416.64 L884.85 415.59 L885.37 414.44 L885.69 413.24 L885.8 412" fill="none" stroke="#444440" stroke-width="0.9"/>
<path d="M877.05 419.9 L875.68 419.8 L874.35 419.51 L873.08 419.04 L871.91 418.39 L870.86 417.59 L869.97 416.64 L869.25 415.59 L868.73 414.44 L868.41 413.24 L868.3 412" fill="none" stroke="#444440" stroke-width="0.9"/>
<path d="M868.3 419.9 L869.67 419.8 L871 419.51 L872.27 419.04 L873.44 418.39 L874.49 417.59 L875.38 416.64 L876.1 415.59 L876.62 414.44 L876.94 413.24 L877.05 412" fill="none" stroke="#444440" stroke-width="0.9"/>
<path d="M877.05 410.6 L877.05 413.2" fill="none" stroke="#2e2e2c" stroke-width="1.3"/>
<path d="M868.3 419.9 L866.93 419.8 L865.6 419.51 L864.33 419.04 L863.16 418.39 L862.11 417.59 L861.22 416.64 L860.5 415.59 L859.98 414.44 L859.66 413.24 L859.55 412" fill="none" stroke="#444440" stroke-width="0.9"/>
<path d="M859.55 419.9 L860.92 419.8 L862.25 419.51 L863.52 419.04 L864.69 418.39 L865.74 417.59 L866.63 416.64 L867.35 415.59 L867.87 414.44 L868.19 413.24 L868.3 412" fill="none" stroke="#444440" stroke-width="0.9"/>
<path d="M868.3 410.6 L868.3 413.2" fill="none" stroke="#2e2e2c" stroke-width="1.3"/>
<path d="M859.55 419.9 L858.18 419.8 L856.85 419.51 L855.58 419.04 L854.41 418.39 L853.36 417.59 L852.47 416.64 L851.75 415.59 L851.23 414.44 L850.91 413.24 L850.8 412" fill="none" stroke="#444440" stroke-width="0.9"/>
<path d="M850.8 419.9 L852.17 419.8 L853.5 419.51 L854.77 419.04 L855.94 418.39 L856.99 417.59 L857.88 416.64 L858.6 415.59 L859.12 414.44 L859.44 413.24 L859.55 412" fill="none" stroke="#444440" stroke-width="0.9"/>
<path d="M859.55 410.6 L859.55 413.2" fill="none" stroke="#2e2e2c" stroke-width="1.3"/>
<rect x="1018.5" y="476.6" width="6" height="5.5" fill="#66665f" stroke="#4a4a46" stroke-width="0.8"/>
<rect x="1019.9" y="478" width="3.2" height="2.7" fill="#8a8a80" stroke="#4a4a46" stroke-width="0.5"/>
<rect x="1017.5" y="442.6" width="7" height="7" fill="#66665f" stroke="#4a4a46" stroke-width="0.8"/>
<rect x="1018.9" y="444" width="4.2" height="4.2" fill="#8a8a80" stroke="#4a4a46" stroke-width="0.5"/>
<rect x="990.5" y="450.4" width="34" height="29.7" fill="rgba(255,255,255,0.28)" stroke="#55554f" stroke-width="1.3"/>
<rect x="992.5" y="452.4" width="30.8" height="25.7" fill="none" stroke="#77776f" stroke-width="0.8"/>
<rect x="1022.9" y="450.4" width="1.6" height="29.7" fill="#66665f" stroke="#55554f" stroke-width="0.5"/>
<rect x="1015.9" y="466.44" width="6" height="7.72" fill="rgba(255,255,255,0.28)" stroke="#4e4e4a" stroke-width="0.8"/>
<rect x="1015.9" y="456.34" width="6" height="7.72" fill="rgba(255,255,255,0.28)" stroke="#4e4e4a" stroke-width="0.8"/>
<rect x="1016.5" y="475.05" width="6.8" height="3.86" fill="#77776f" stroke="#55554f" stroke-width="0.6"/>
<rect x="1016.5" y="451.59" width="6.8" height="3.86" fill="#77776f" stroke="#55554f" stroke-width="0.6"/>
<rect x="992.5" y="452.4" width="2" height="25.7" fill="none" stroke="#66665f" stroke-width="0.8"/>
<path d="M1006.16 453.55 L1008.16 454.09 L1010.04 454.96 L1011.74 456.15 L1013.2 457.61 L1014.39 459.31 L1015.26 461.19 L1015.8 463.19 L1015.98 465.25 L1015.8 467.31 L1015.26 469.31 L1014.39 471.19 L1013.2 472.89 L1011.74 474.35 L1010.04 475.54 L1008.16 476.41 L1006.16 476.95" fill="none" stroke="#66665f" stroke-width="1"/>
<rect x="964.3" y="452.1" width="7.5" height="22" fill="rgba(255,255,255,0.28)" stroke="#4e4e4a" stroke-width="1"/>
<path d="M968.05 472.1 L968.05 454.1" fill="none" stroke="#66665f" stroke-width="1.6"/>
<rect x="1009.7" y="411.6" width="15.3" height="9.7" fill="#9c9c92" stroke="#4c4c48" stroke-width="1"/>
<path d="M1021.94 420.1 L1021.94 412.8" fill="none" stroke="#55554f" stroke-width="1"/>
<path d="M1018.88 420.1 L1018.88 412.8" fill="none" stroke="#55554f" stroke-width="1"/>
<path d="M1015.82 420.1 L1015.82 412.8" fill="none" stroke="#55554f" stroke-width="1"/>
<path d="M1012.76 420.1 L1012.76 412.8" fill="none" stroke="#55554f" stroke-width="1"/>
<path d="M1025 416.45 L1009.7 416.45" fill="none" stroke="#d0d0c4" stroke-width="0.8"/>
<rect x="982.2" y="411.6" width="15" height="9.7" fill="#9c9c92" stroke="#4c4c48" stroke-width="1"/>
<path d="M994.2 420.1 L994.2 412.8" fill="none" stroke="#55554f" stroke-width="1"/>
<path d="M991.2 420.1 L991.2 412.8" fill="none" stroke="#55554f" stroke-width="1"/>
<path d="M988.2 420.1 L988.2 412.8" fill="none" stroke="#55554f" stroke-width="1"/>
<path d="M985.2 420.1 L985.2 412.8" fill="none" stroke="#55554f" stroke-width="1"/>
<path d="M997.2 416.45 L982.2 416.45" fill="none" stroke="#d0d0c4" stroke-width="0.8"/>
<rect x="997.2" y="411.6" width="12.5" height="7.5" fill="rgba(255,255,255,0.28)" stroke="#4e4e4a" stroke-width="0.8"/>
<rect x="1000.2" y="419.6" width="7" height="7" fill="rgba(255,255,255,0.28)" stroke="#4e4e4a" stroke-width="1"/>
<rect x="1001.4" y="420.8" width="4.6" height="4.6" fill="none" stroke="#8a8a82" stroke-width="0.6"/>
<rect x="947" y="466.6" width="6.8" height="8.5" fill="#66665f" stroke="#4a4a46" stroke-width="0.8"/>
<rect x="948.4" y="468" width="4" height="5.7" fill="#8a8a80" stroke="#4a4a46" stroke-width="0.5"/>
<rect x="908.5" y="467.1" width="5.8" height="8" fill="rgba(255,255,255,0.28)" stroke="#4e4e4a" stroke-width="0.8"/>
<rect x="914.7" y="441.6" width="31.6" height="33.5" fill="rgba(255,255,255,0.28)" stroke="#55554f" stroke-width="1.3"/>
<rect x="916.7" y="443.6" width="27.6" height="30.3" fill="none" stroke="#77776f" stroke-width="0.8"/>
<rect x="914.7" y="473.5" width="31.6" height="1.6" fill="#66665f" stroke="#55554f" stroke-width="0.5"/>
<rect x="931.76" y="466.5" width="8.22" height="6" fill="rgba(255,255,255,0.28)" stroke="#4e4e4a" stroke-width="0.8"/>
<rect x="921.02" y="466.5" width="8.22" height="6" fill="rgba(255,255,255,0.28)" stroke="#4e4e4a" stroke-width="0.8"/>
<rect x="940.93" y="467.1" width="4.11" height="6.8" fill="#77776f" stroke="#55554f" stroke-width="0.6"/>
<rect x="915.96" y="467.1" width="4.11" height="6.8" fill="#77776f" stroke="#55554f" stroke-width="0.6"/>
<rect x="916.7" y="443.6" width="27.6" height="2" fill="none" stroke="#66665f" stroke-width="0.8"/>
<path d="M918.05 457.19 L918.62 459.32 L919.55 461.32 L920.82 463.12 L922.38 464.68 L924.18 465.95 L926.18 466.88 L928.31 467.45 L930.5 467.64 L932.69 467.45 L934.82 466.88 L936.82 465.95 L938.62 464.68 L940.18 463.12 L941.45 461.32 L942.38 459.32 L942.95 457.19" fill="none" stroke="#66665f" stroke-width="1"/>
<rect x="927.2" y="411.6" width="15.3" height="9.7" fill="#9c9c92" stroke="#4c4c48" stroke-width="1"/>
<path d="M939.44 420.1 L939.44 412.8" fill="none" stroke="#55554f" stroke-width="1"/>
<path d="M936.38 420.1 L936.38 412.8" fill="none" stroke="#55554f" stroke-width="1"/>
<path d="M933.32 420.1 L933.32 412.8" fill="none" stroke="#55554f" stroke-width="1"/>
<path d="M930.26 420.1 L930.26 412.8" fill="none" stroke="#55554f" stroke-width="1"/>
<path d="M942.5 416.45 L927.2 416.45" fill="none" stroke="#d0d0c4" stroke-width="0.8"/>
<rect x="899.7" y="411.6" width="15" height="9.7" fill="#9c9c92" stroke="#4c4c48" stroke-width="1"/>
<path d="M911.7 420.1 L911.7 412.8" fill="none" stroke="#55554f" stroke-width="1"/>
<path d="M908.7 420.1 L908.7 412.8" fill="none" stroke="#55554f" stroke-width="1"/>
<path d="M905.7 420.1 L905.7 412.8" fill="none" stroke="#55554f" stroke-width="1"/>
<path d="M902.7 420.1 L902.7 412.8" fill="none" stroke="#55554f" stroke-width="1"/>
<path d="M914.7 416.45 L899.7 416.45" fill="none" stroke="#d0d0c4" stroke-width="0.8"/>
<rect x="914.7" y="411.6" width="12.5" height="7.5" fill="rgba(255,255,255,0.28)" stroke="#4e4e4a" stroke-width="0.8"/>
<rect x="918" y="419.6" width="6.7" height="7" fill="rgba(255,255,255,0.28)" stroke="#4e4e4a" stroke-width="1"/>
<rect x="919.2" y="420.8" width="4.3" height="4.6" fill="none" stroke="#8a8a82" stroke-width="0.6"/>
<rect x="1049.3" y="446.55" width="4.2" height="8.1" fill="rgba(255,255,255,0.28)" stroke="#4e4e4a" stroke-width="0.9"/>
<ellipse cx="1044.4" cy="450.6" rx="5.04" ry="3.78" fill="rgba(255,255,255,0.28)" stroke="#4e4e4a" stroke-width="0.9"/>
<ellipse cx="1044.4" cy="450.6" rx="2.52" ry="1.89" fill="none" stroke="#8a8a84" stroke-width="0.7"/>
<rect x="1046.5" y="428.6" width="8" height="13" fill="rgba(255,255,255,0.28)" stroke="#4e4e4a" stroke-width="0.9"/>
<ellipse cx="1050.5" cy="435.1" rx="2.64" ry="4.68" fill="none" stroke="#77776f" stroke-width="0.8"/>
<path d="M1055.5 426.8 L1027 426.8" fill="none" stroke="#8a8a84" stroke-width="0.7"/>
<circle cx="1053.3" cy="423.1" r="0.9" fill="#4a4a46" stroke="#4a4a46" stroke-width="0.3"/>
<circle cx="1053.3" cy="418.6" r="0.9" fill="#4a4a46" stroke="#4a4a46" stroke-width="0.3"/>
<rect x="1028" y="401.6" width="22.5" height="6.5" fill="rgba(255,255,255,0.28)" stroke="#4e4e4a" stroke-width="1"/>
<path d="M1048.5 404.85 L1030 404.85" fill="none" stroke="#66665f" stroke-width="1.6"/>
<rect x="1018.5" y="348.1" width="6" height="7" fill="#66665f" stroke="#4a4a46" stroke-width="0.8"/>
<rect x="1019.9" y="349.5" width="3.2" height="4.2" fill="#8a8a80" stroke="#4a4a46" stroke-width="0.5"/>
<rect x="1052.5" y="348.1" width="5" height="7" fill="rgba(255,255,255,0.28)" stroke="#4e4e4a" stroke-width="0.8"/>
<rect x="1027" y="348.1" width="30" height="33" fill="rgba(255,255,255,0.28)" stroke="#55554f" stroke-width="1.3"/>
<rect x="1029" y="349.3" width="26" height="29.8" fill="none" stroke="#77776f" stroke-width="0.8"/>
<rect x="1027" y="348.1" width="30" height="1.6" fill="#66665f" stroke="#55554f" stroke-width="0.5"/>
<rect x="1043.2" y="350.7" width="7.8" height="6" fill="rgba(255,255,255,0.28)" stroke="#4e4e4a" stroke-width="0.8"/>
<rect x="1033" y="350.7" width="7.8" height="6" fill="rgba(255,255,255,0.28)" stroke="#4e4e4a" stroke-width="0.8"/>
<rect x="1051.9" y="349.3" width="3.9" height="6.8" fill="#77776f" stroke="#55554f" stroke-width="0.6"/>
<rect x="1028.2" y="349.3" width="3.9" height="6.8" fill="#77776f" stroke="#55554f" stroke-width="0.6"/>
<rect x="1029" y="377.1" width="26" height="2" fill="none" stroke="#66665f" stroke-width="0.8"/>
<path d="M1030.18 365.82 L1030.72 363.8 L1031.61 361.9 L1032.81 360.19 L1034.29 358.71 L1036 357.51 L1037.9 356.62 L1039.92 356.08 L1042 355.9 L1044.08 356.08 L1046.1 356.62 L1048 357.51 L1049.71 358.71 L1051.19 360.19 L1052.39 361.9 L1053.28 363.8 L1053.82 365.82" fill="none" stroke="#66665f" stroke-width="1"/>
<rect x="984.2" y="375.6" width="10" height="14.3" fill="#9c9c92" stroke="#4c4c48" stroke-width="1"/>
<path d="M993 386.33 L985.4 386.33" fill="none" stroke="#55554f" stroke-width="1"/>
<path d="M993 382.75 L985.4 382.75" fill="none" stroke="#55554f" stroke-width="1"/>
<path d="M993 379.18 L985.4 379.18" fill="none" stroke="#55554f" stroke-width="1"/>
<path d="M989.2 389.9 L989.2 375.6" fill="none" stroke="#d0d0c4" stroke-width="0.8"/>
<rect x="984.2" y="347.9" width="10" height="15" fill="#9c9c92" stroke="#4c4c48" stroke-width="1"/>
<path d="M993 359.9 L985.4 359.9" fill="none" stroke="#55554f" stroke-width="1"/>
<path d="M993 356.9 L985.4 356.9" fill="none" stroke="#55554f" stroke-width="1"/>
<path d="M993 353.9 L985.4 353.9" fill="none" stroke="#55554f" stroke-width="1"/>
<path d="M993 350.9 L985.4 350.9" fill="none" stroke="#55554f" stroke-width="1"/>
<path d="M989.2 362.9 L989.2 347.9" fill="none" stroke="#d0d0c4" stroke-width="0.8"/>
<rect x="984.2" y="362.9" width="7.8" height="12.7" fill="rgba(255,255,255,0.28)" stroke="#4e4e4a" stroke-width="0.8"/>
<rect x="992.8" y="365.4" width="6.7" height="6.9" fill="rgba(255,255,255,0.28)" stroke="#4e4e4a" stroke-width="1"/>
<rect x="994" y="366.6" width="4.3" height="4.5" fill="none" stroke="#8a8a82" stroke-width="0.6"/>
<rect x="1025.2" y="333.6" width="8.3" height="10" fill="rgba(255,255,255,0.28)" stroke="#4e4e4a" stroke-width="0.9"/>
<ellipse cx="1029.35" cy="338.6" rx="2.74" ry="3.6" fill="none" stroke="#77776f" stroke-width="0.8"/>
<rect x="1028.79" y="319.65" width="4.41" height="9.9" fill="rgba(255,255,255,0.28)" stroke="#4e4e4a" stroke-width="0.9"/>
<ellipse cx="1023.64" cy="324.6" rx="5.29" ry="4.62" fill="rgba(255,255,255,0.28)" stroke="#4e4e4a" stroke-width="0.9"/>
<ellipse cx="1023.64" cy="324.6" rx="2.65" ry="2.31" fill="none" stroke="#8a8a84" stroke-width="0.7"/>
<path d="M1034.5 314.6 L1003.5 314.6" fill="none" stroke="#8a8a84" stroke-width="0.7"/>
<circle cx="1032.7" cy="318.1" r="0.9" fill="#4a4a46" stroke="#4a4a46" stroke-width="0.3"/>
<circle cx="1032.7" cy="313.6" r="0.9" fill="#4a4a46" stroke="#4a4a46" stroke-width="0.3"/>
<circle cx="1032.5" cy="304.1" r="0.9" fill="#4a4a46" stroke="#4a4a46" stroke-width="0.3"/>
<rect x="969.35" y="366.1" width="6.3" height="4.2" fill="rgba(255,255,255,0.28)" stroke="#4e4e4a" stroke-width="0.9"/>
<ellipse cx="972.5" cy="375.2" rx="2.94" ry="5.04" fill="rgba(255,255,255,0.28)" stroke="#4e4e4a" stroke-width="0.9"/>
<ellipse cx="972.5" cy="375.2" rx="1.47" ry="2.52" fill="none" stroke="#8a8a84" stroke-width="0.7"/>
<circle cx="966" cy="365.6" r="1" fill="#4a4a46" stroke="#4a4a46" stroke-width="0.3"/>
<circle cx="960.5" cy="365.6" r="1" fill="#4a4a46" stroke="#4a4a46" stroke-width="0.3"/>
<circle cx="947.5" cy="365.6" r="1" fill="#4a4a46" stroke="#4a4a46" stroke-width="0.3"/>
<rect x="908" y="380.1" width="11.3" height="9.3" fill="rgba(255,255,255,0.28)" stroke="#4e4e4a" stroke-width="1"/>
<ellipse cx="913.65" cy="384.75" rx="4.29" ry="3.53" fill="rgba(255,255,255,0.28)" stroke="#66665f" stroke-width="0.9"/>
<ellipse cx="913.65" cy="384.75" rx="2.26" ry="1.86" fill="none" stroke="#8a8a84" stroke-width="0.6"/>
<rect x="908.2" y="366.3" width="11.5" height="11.6" fill="#8a8a84" stroke="#44443f" stroke-width="1"/>
<path d="M916.83 376.9 L916.83 367.3" fill="none" stroke="#4c4c48" stroke-width="1.2"/>
<path d="M913.95 376.9 L913.95 367.3" fill="none" stroke="#4c4c48" stroke-width="1.2"/>
<path d="M911.08 376.9 L911.08 367.3" fill="none" stroke="#4c4c48" stroke-width="1.2"/>
<path d="M904.7 311.3 L856 311.3" fill="none" stroke="#8a8a84" stroke-width="0.8"/>
<rect x="890.5" y="300.3" width="12.5" height="9" fill="rgba(255,255,255,0.28)" stroke="#4e4e4a" stroke-width="1"/>
<rect x="892.1" y="301.9" width="9.3" height="5.8" fill="none" stroke="#77776f" stroke-width="0.8"/>
<circle cx="896.75" cy="304.8" r="0.7" fill="#66665f" stroke="#66665f" stroke-width="0.3"/>
<rect x="862.5" y="299.6" width="11.3" height="10" fill="#5c5c58" stroke="#444440" stroke-width="0.8"/>
<path d="M872.8 304.6 L863.5 304.6" fill="none" stroke="#8a8a84" stroke-width="0.6"/>
<path d="M868.15 308.6 L868.15 300.6" fill="none" stroke="#8a8a84" stroke-width="0.6"/>
<rect x="890.8" y="338.6" width="12.5" height="12.5" fill="rgba(255,255,255,0.28)" stroke="#4e4e4a" stroke-width="1"/>
<rect x="881.75" y="380.6" width="7" height="7" fill="rgba(255,255,255,0.28)" stroke="#4e4e4a" stroke-width="0.9"/>
<rect x="881.75" y="385.8" width="7" height="2.1" fill="#77776f" stroke="#4e4e4a" stroke-width="0.6"/>
<path d="M889.75 386.6 L889.75 381.6" fill="none" stroke="#4e4e4a" stroke-width="0.9"/>
<path d="M880.75 386.6 L880.75 381.6" fill="none" stroke="#4e4e4a" stroke-width="0.9"/>
<rect x="870.25" y="380.6" width="7" height="7" fill="rgba(255,255,255,0.28)" stroke="#4e4e4a" stroke-width="0.9"/>
<rect x="870.25" y="385.8" width="7" height="2.1" fill="#77776f" stroke="#4e4e4a" stroke-width="0.6"/>
<path d="M878.25 386.6 L878.25 381.6" fill="none" stroke="#4e4e4a" stroke-width="0.9"/>
<path d="M869.25 386.6 L869.25 381.6" fill="none" stroke="#4e4e4a" stroke-width="0.9"/>
<rect x="881.75" y="359.6" width="7" height="7" fill="rgba(255,255,255,0.28)" stroke="#4e4e4a" stroke-width="0.9"/>
<rect x="881.75" y="359.3" width="7" height="2.1" fill="#77776f" stroke="#4e4e4a" stroke-width="0.6"/>
<path d="M889.75 365.6 L889.75 360.6" fill="none" stroke="#4e4e4a" stroke-width="0.9"/>
<path d="M880.75 365.6 L880.75 360.6" fill="none" stroke="#4e4e4a" stroke-width="0.9"/>
<rect x="870.25" y="359.6" width="7" height="7" fill="rgba(255,255,255,0.28)" stroke="#4e4e4a" stroke-width="0.9"/>
<rect x="870.25" y="359.3" width="7" height="2.1" fill="#77776f" stroke="#4e4e4a" stroke-width="0.6"/>
<path d="M878.25 365.6 L878.25 360.6" fill="none" stroke="#4e4e4a" stroke-width="0.9"/>
<path d="M869.25 365.6 L869.25 360.6" fill="none" stroke="#4e4e4a" stroke-width="0.9"/>
<rect x="889.5" y="370.1" width="7" height="7" fill="rgba(255,255,255,0.28)" stroke="#4e4e4a" stroke-width="0.9"/>
<rect x="894.7" y="370.1" width="2.1" height="7" fill="#77776f" stroke="#4e4e4a" stroke-width="0.6"/>
<path d="M895.5 378.1 L890.5 378.1" fill="none" stroke="#4e4e4a" stroke-width="0.9"/>
<path d="M895.5 369.1 L890.5 369.1" fill="none" stroke="#4e4e4a" stroke-width="0.9"/>
<rect x="862.5" y="370.1" width="7" height="7" fill="rgba(255,255,255,0.28)" stroke="#4e4e4a" stroke-width="0.9"/>
<rect x="862.2" y="370.1" width="2.1" height="7" fill="#77776f" stroke="#4e4e4a" stroke-width="0.6"/>
<path d="M868.5 378.1 L863.5 378.1" fill="none" stroke="#4e4e4a" stroke-width="0.9"/>
<path d="M868.5 369.1 L863.5 369.1" fill="none" stroke="#4e4e4a" stroke-width="0.9"/>
<path d="M888.5 382.1 L870.5 382.1 L868 379.6 L868 367.6 L870.5 365.1 L888.5 365.1 L891 367.6 L891 379.6Z" fill="rgba(255,255,255,0.28)" stroke="#4e4e4a" stroke-width="1"/>
<rect x="793.8" y="350.9" width="48.4" height="49" fill="none" stroke="#4e4e4a" stroke-width="1"/>
<rect x="823.8" y="394.2" width="11.7" height="11.7" fill="rgba(255,255,255,0.28)" stroke="#4e4e4a" stroke-width="1.1"/>
<rect x="823.8" y="402.98" width="11.7" height="2.93" fill="rgba(120,120,110,0.14)" stroke="#4e4e4a" stroke-width="0.8"/>
<rect x="833.39" y="394.2" width="2.11" height="8.77" fill="none" stroke="#4e4e4a" stroke-width="0.8"/>
<rect x="823.8" y="394.2" width="2.11" height="8.77" fill="none" stroke="#4e4e4a" stroke-width="0.8"/>
<rect x="807.2" y="394.2" width="12.3" height="11.7" fill="rgba(255,255,255,0.28)" stroke="#4e4e4a" stroke-width="1.1"/>
<rect x="807.2" y="402.98" width="12.3" height="2.93" fill="rgba(120,120,110,0.14)" stroke="#4e4e4a" stroke-width="0.8"/>
<rect x="817.29" y="394.2" width="2.21" height="8.77" fill="none" stroke="#4e4e4a" stroke-width="0.8"/>
<rect x="807.2" y="394.2" width="2.21" height="8.77" fill="none" stroke="#4e4e4a" stroke-width="0.8"/>
<rect x="793.8" y="393.4" width="10.4" height="10" fill="#66665f" stroke="#4a4a46" stroke-width="0.8"/>
<rect x="795.2" y="394.8" width="7.6" height="7.2" fill="#8a8a80" stroke="#4a4a46" stroke-width="0.5"/>
<rect x="793.6" y="356.9" width="11.1" height="34" fill="rgba(255,255,255,0.28)" stroke="#4e4e4a" stroke-width="1.1"/>
<rect x="793.6" y="356.9" width="2.77" height="34" fill="rgba(120,120,110,0.14)" stroke="#4e4e4a" stroke-width="0.8"/>
<rect x="796.38" y="379.34" width="7.77" height="9.52" fill="none" stroke="#4e4e4a" stroke-width="0.8"/>
<rect x="796.38" y="369.14" width="7.77" height="9.52" fill="none" stroke="#4e4e4a" stroke-width="0.8"/>
<rect x="796.38" y="358.94" width="7.77" height="9.52" fill="none" stroke="#4e4e4a" stroke-width="0.8"/>
<rect x="812.2" y="365.9" width="10.3" height="18.7" fill="rgba(255,255,255,0.28)" stroke="#4e4e4a" stroke-width="1"/>
<circle cx="798" cy="348.4" r="4.8" fill="#b9b9ae" stroke="#55554f" stroke-width="1"/>
<circle cx="798" cy="348.4" r="2.64" fill="#8f8f86" stroke="#55554f" stroke-width="0.8"/>
<path d="M798 348.4 L793.36 347.16" fill="none" stroke="#55554f" stroke-width="0.7"/>
<path d="M798 348.4 L796.76 343.76" fill="none" stroke="#55554f" stroke-width="0.7"/>
<path d="M798 348.4 L801.39 345.01" fill="none" stroke="#55554f" stroke-width="0.7"/>
<path d="M798 348.4 L802.64 349.64" fill="none" stroke="#55554f" stroke-width="0.7"/>
<path d="M798 348.4 L799.24 353.04" fill="none" stroke="#55554f" stroke-width="0.7"/>
<path d="M798 348.4 L794.61 351.79" fill="none" stroke="#55554f" stroke-width="0.7"/>
<rect x="819.7" y="317.1" width="22.5" height="8.5" fill="rgba(255,255,255,0.28)" stroke="#4e4e4a" stroke-width="1"/>
<path d="M840.2 321.35 L821.7 321.35" fill="none" stroke="#66665f" stroke-width="1.6"/>
<circle cx="868" cy="447.8" r="6" fill="rgba(255,255,255,0.25)" stroke="#7c7c7e" stroke-width="1.1"/>
<path d="M887.87 435.6 L881.5 441.37 L875.73 435 L882.1 429.23Z" fill="rgba(255,255,255,0.3)" stroke="#6a6a6c" stroke-width="1"/>
<path d="M889.19 436.16 L881.67 427.86" fill="none" stroke="#5e5e60" stroke-width="1.5"/>
<path d="M889.19 436.16 L883.01 441.76" fill="none" stroke="#6a6a6c" stroke-width="1.2"/>
<path d="M881.67 427.86 L875.49 433.46" fill="none" stroke="#6a6a6c" stroke-width="1.2"/>
<path d="M860.37 429.31 L865.29 436.37 L858.23 441.29 L853.31 434.23Z" fill="rgba(255,255,255,0.3)" stroke="#6a6a6c" stroke-width="1"/>
<path d="M861.1 428.08 L851.9 434.48" fill="none" stroke="#5e5e60" stroke-width="1.5"/>
<path d="M861.1 428.08 L865.86 434.92" fill="none" stroke="#6a6a6c" stroke-width="1.2"/>
<path d="M851.9 434.48 L856.67 441.32" fill="none" stroke="#6a6a6c" stroke-width="1.2"/>
<path d="M538.5 184.9 L538.5 174.2" fill="none" stroke="#2e2e2c" stroke-width="1.7"/>
<path d="M573 184.9 L573 174.2" fill="none" stroke="#2e2e2c" stroke-width="1.7"/>
<path d="M538.5 182.7 L573 182.7" fill="none" stroke="#444440" stroke-width="0.9"/>
<path d="M538.5 174.8 L539.85 174.9 L541.17 175.19 L542.42 175.66 L543.57 176.31 L544.6 177.11 L545.48 178.06 L546.18 179.11 L546.7 180.26 L547.02 181.46 L547.12 182.7" fill="none" stroke="#444440" stroke-width="0.9"/>
<path d="M547.12 174.8 L545.78 174.9 L544.46 175.19 L543.21 175.66 L542.06 176.31 L541.03 177.11 L540.15 178.06 L539.44 179.11 L538.92 180.26 L538.61 181.46 L538.5 182.7" fill="none" stroke="#444440" stroke-width="0.9"/>
<path d="M547.12 174.8 L548.47 174.9 L549.79 175.19 L551.04 175.66 L552.19 176.31 L553.22 177.11 L554.1 178.06 L554.81 179.11 L555.33 180.26 L555.64 181.46 L555.75 182.7" fill="none" stroke="#444440" stroke-width="0.9"/>
<path d="M555.75 174.8 L554.4 174.9 L553.08 175.19 L551.83 175.66 L550.68 176.31 L549.65 177.11 L548.77 178.06 L548.07 179.11 L547.55 180.26 L547.23 181.46 L547.12 182.7" fill="none" stroke="#444440" stroke-width="0.9"/>
<path d="M547.12 184.1 L547.12 181.5" fill="none" stroke="#2e2e2c" stroke-width="1.3"/>
<path d="M555.75 174.8 L557.1 174.9 L558.42 175.19 L559.67 175.66 L560.82 176.31 L561.85 177.11 L562.73 178.06 L563.43 179.11 L563.95 180.26 L564.27 181.46 L564.38 182.7" fill="none" stroke="#444440" stroke-width="0.9"/>
<path d="M564.38 174.8 L563.03 174.9 L561.71 175.19 L560.46 175.66 L559.31 176.31 L558.28 177.11 L557.4 178.06 L556.69 179.11 L556.17 180.26 L555.86 181.46 L555.75 182.7" fill="none" stroke="#444440" stroke-width="0.9"/>
<path d="M555.75 184.1 L555.75 181.5" fill="none" stroke="#2e2e2c" stroke-width="1.3"/>
<path d="M564.38 174.8 L565.72 174.9 L567.04 175.19 L568.29 175.66 L569.44 176.31 L570.47 177.11 L571.35 178.06 L572.06 179.11 L572.58 180.26 L572.89 181.46 L573 182.7" fill="none" stroke="#444440" stroke-width="0.9"/>
<path d="M573 174.8 L571.65 174.9 L570.33 175.19 L569.08 175.66 L567.93 176.31 L566.9 177.11 L566.02 178.06 L565.32 179.11 L564.8 180.26 L564.48 181.46 L564.38 182.7" fill="none" stroke="#444440" stroke-width="0.9"/>
<path d="M564.38 184.1 L564.38 181.5" fill="none" stroke="#2e2e2c" stroke-width="1.3"/>
<path d="M632 184.9 L632 174.2" fill="none" stroke="#2e2e2c" stroke-width="1.7"/>
<path d="M597.5 184.9 L597.5 174.2" fill="none" stroke="#2e2e2c" stroke-width="1.7"/>
<path d="M632 182.7 L597.5 182.7" fill="none" stroke="#444440" stroke-width="0.9"/>
<path d="M632 174.8 L630.65 174.9 L629.33 175.19 L628.08 175.66 L626.93 176.31 L625.9 177.11 L625.02 178.06 L624.32 179.11 L623.8 180.26 L623.48 181.46 L623.38 182.7" fill="none" stroke="#444440" stroke-width="0.9"/>
<path d="M623.38 174.8 L624.72 174.9 L626.04 175.19 L627.29 175.66 L628.44 176.31 L629.47 177.11 L630.35 178.06 L631.06 179.11 L631.58 180.26 L631.89 181.46 L632 182.7" fill="none" stroke="#444440" stroke-width="0.9"/>
<path d="M623.38 174.8 L622.03 174.9 L620.71 175.19 L619.46 175.66 L618.31 176.31 L617.28 177.11 L616.4 178.06 L615.69 179.11 L615.17 180.26 L614.86 181.46 L614.75 182.7" fill="none" stroke="#444440" stroke-width="0.9"/>
<path d="M614.75 174.8 L616.1 174.9 L617.42 175.19 L618.67 175.66 L619.82 176.31 L620.85 177.11 L621.73 178.06 L622.43 179.11 L622.95 180.26 L623.27 181.46 L623.38 182.7" fill="none" stroke="#444440" stroke-width="0.9"/>
<path d="M623.38 184.1 L623.38 181.5" fill="none" stroke="#2e2e2c" stroke-width="1.3"/>
<path d="M614.75 174.8 L613.4 174.9 L612.08 175.19 L610.83 175.66 L609.68 176.31 L608.65 177.11 L607.77 178.06 L607.07 179.11 L606.55 180.26 L606.23 181.46 L606.12 182.7" fill="none" stroke="#444440" stroke-width="0.9"/>
<path d="M606.12 174.8 L607.47 174.9 L608.79 175.19 L610.04 175.66 L611.19 176.31 L612.22 177.11 L613.1 178.06 L613.81 179.11 L614.33 180.26 L614.64 181.46 L614.75 182.7" fill="none" stroke="#444440" stroke-width="0.9"/>
<path d="M614.75 184.1 L614.75 181.5" fill="none" stroke="#2e2e2c" stroke-width="1.3"/>
<path d="M606.12 174.8 L604.78 174.9 L603.46 175.19 L602.21 175.66 L601.06 176.31 L600.03 177.11 L599.15 178.06 L598.44 179.11 L597.92 180.26 L597.61 181.46 L597.5 182.7" fill="none" stroke="#444440" stroke-width="0.9"/>
<path d="M597.5 174.8 L598.85 174.9 L600.17 175.19 L601.42 175.66 L602.57 176.31 L603.6 177.11 L604.48 178.06 L605.18 179.11 L605.7 180.26 L606.02 181.46 L606.12 182.7" fill="none" stroke="#444440" stroke-width="0.9"/>
<path d="M606.12 184.1 L606.12 181.5" fill="none" stroke="#2e2e2c" stroke-width="1.3"/>
<rect x="653.3" y="122.3" width="5.7" height="8.2" fill="rgba(255,255,255,0.28)" stroke="#4e4e4a" stroke-width="0.8"/>
<rect x="691.5" y="123.3" width="6" height="7.5" fill="#66665f" stroke="#4a4a46" stroke-width="0.8"/>
<rect x="692.9" y="124.7" width="3.2" height="4.7" fill="#8a8a80" stroke="#4a4a46" stroke-width="0.5"/>
<rect x="659.2" y="122" width="31.6" height="34.7" fill="rgba(255,255,255,0.28)" stroke="#55554f" stroke-width="1.3"/>
<rect x="661.2" y="123.2" width="27.6" height="31.5" fill="none" stroke="#77776f" stroke-width="0.8"/>
<rect x="659.2" y="122" width="31.6" height="1.6" fill="#66665f" stroke="#55554f" stroke-width="0.5"/>
<rect x="665.52" y="124.6" width="8.22" height="6" fill="rgba(255,255,255,0.28)" stroke="#4e4e4a" stroke-width="0.8"/>
<rect x="676.26" y="124.6" width="8.22" height="6" fill="rgba(255,255,255,0.28)" stroke="#4e4e4a" stroke-width="0.8"/>
<rect x="660.46" y="123.2" width="4.11" height="6.8" fill="#77776f" stroke="#55554f" stroke-width="0.6"/>
<rect x="685.43" y="123.2" width="4.11" height="6.8" fill="#77776f" stroke="#55554f" stroke-width="0.6"/>
<rect x="661.2" y="152.7" width="27.6" height="2" fill="none" stroke="#66665f" stroke-width="0.8"/>
<path d="M687.45 140.63 L686.88 138.5 L685.95 136.5 L684.68 134.7 L683.12 133.14 L681.32 131.87 L679.32 130.94 L677.19 130.37 L675 130.18 L672.81 130.37 L670.68 130.94 L668.68 131.87 L666.88 133.14 L665.32 134.7 L664.05 136.5 L663.12 138.5 L662.55 140.63" fill="none" stroke="#66665f" stroke-width="1"/>
<rect x="650.8" y="173.3" width="11.7" height="9.5" fill="#9c9c92" stroke="#4c4c48" stroke-width="1"/>
<path d="M653.72 174.5 L653.72 181.6" fill="none" stroke="#55554f" stroke-width="1"/>
<path d="M656.65 174.5 L656.65 181.6" fill="none" stroke="#55554f" stroke-width="1"/>
<path d="M659.58 174.5 L659.58 181.6" fill="none" stroke="#55554f" stroke-width="1"/>
<path d="M650.8 178.05 L662.5 178.05" fill="none" stroke="#d0d0c4" stroke-width="0.8"/>
<rect x="675" y="173.3" width="11.7" height="9.5" fill="#9c9c92" stroke="#4c4c48" stroke-width="1"/>
<path d="M677.92 174.5 L677.92 181.6" fill="none" stroke="#55554f" stroke-width="1"/>
<path d="M680.85 174.5 L680.85 181.6" fill="none" stroke="#55554f" stroke-width="1"/>
<path d="M683.78 174.5 L683.78 181.6" fill="none" stroke="#55554f" stroke-width="1"/>
<path d="M675 178.05 L686.7 178.05" fill="none" stroke="#d0d0c4" stroke-width="0.8"/>
<rect x="662.5" y="175.5" width="12.5" height="7.3" fill="rgba(255,255,255,0.28)" stroke="#4e4e4a" stroke-width="0.8"/>
<rect x="665.3" y="168.3" width="6.6" height="6.6" fill="rgba(255,255,255,0.28)" stroke="#4e4e4a" stroke-width="1"/>
<rect x="666.5" y="169.5" width="4.2" height="4.2" fill="none" stroke="#8a8a82" stroke-width="0.6"/>
<rect x="657.5" y="197.5" width="7" height="7" fill="rgba(255,255,255,0.28)" stroke="#4e4e4a" stroke-width="0.9"/>
<rect x="657.5" y="202.7" width="7" height="2.1" fill="#77776f" stroke="#4e4e4a" stroke-width="0.6"/>
<path d="M656.5 198.5 L656.5 203.5" fill="none" stroke="#4e4e4a" stroke-width="0.9"/>
<path d="M665.5 198.5 L665.5 203.5" fill="none" stroke="#4e4e4a" stroke-width="0.9"/>
<rect x="667.5" y="197.5" width="7" height="7" fill="rgba(255,255,255,0.28)" stroke="#4e4e4a" stroke-width="0.9"/>
<rect x="667.5" y="202.7" width="7" height="2.1" fill="#77776f" stroke="#4e4e4a" stroke-width="0.6"/>
<path d="M666.5 198.5 L666.5 203.5" fill="none" stroke="#4e4e4a" stroke-width="0.9"/>
<path d="M675.5 198.5 L675.5 203.5" fill="none" stroke="#4e4e4a" stroke-width="0.9"/>
<rect x="650.5" y="189" width="7" height="7" fill="rgba(255,255,255,0.28)" stroke="#4e4e4a" stroke-width="0.9"/>
<rect x="650.2" y="189" width="2.1" height="7" fill="#77776f" stroke="#4e4e4a" stroke-width="0.6"/>
<path d="M651.5 188 L656.5 188" fill="none" stroke="#4e4e4a" stroke-width="0.9"/>
<path d="M651.5 197 L656.5 197" fill="none" stroke="#4e4e4a" stroke-width="0.9"/>
<rect x="674.5" y="189" width="7" height="7" fill="rgba(255,255,255,0.28)" stroke="#4e4e4a" stroke-width="0.9"/>
<rect x="679.7" y="189" width="2.1" height="7" fill="#77776f" stroke="#4e4e4a" stroke-width="0.6"/>
<path d="M675.5 188 L680.5 188" fill="none" stroke="#4e4e4a" stroke-width="0.9"/>
<path d="M675.5 197 L680.5 197" fill="none" stroke="#4e4e4a" stroke-width="0.9"/>
<path d="M658.5 186 L673.5 186 L676 188.5 L676 196.5 L673.5 199 L658.5 199 L656 196.5 L656 188.5Z" fill="rgba(255,255,255,0.28)" stroke="#4e4e4a" stroke-width="1"/>
<rect x="588.3" y="202.5" width="44.2" height="42.5" fill="none" stroke="#4e4e4a" stroke-width="1"/>
<rect x="589" y="199" width="9.3" height="8.5" fill="#66665f" stroke="#4a4a46" stroke-width="0.8"/>
<rect x="590.4" y="200.4" width="6.5" height="5.7" fill="#8a8a80" stroke="#4a4a46" stroke-width="0.5"/>
<rect x="600.8" y="195.8" width="11.7" height="10.9" fill="rgba(255,255,255,0.28)" stroke="#4e4e4a" stroke-width="1.1"/>
<rect x="600.8" y="195.8" width="11.7" height="2.72" fill="rgba(120,120,110,0.14)" stroke="#4e4e4a" stroke-width="0.8"/>
<rect x="600.8" y="198.53" width="2.11" height="8.17" fill="none" stroke="#4e4e4a" stroke-width="0.8"/>
<rect x="610.39" y="198.53" width="2.11" height="8.17" fill="none" stroke="#4e4e4a" stroke-width="0.8"/>
<rect x="615.8" y="195.8" width="11.7" height="10.9" fill="rgba(255,255,255,0.28)" stroke="#4e4e4a" stroke-width="1.1"/>
<rect x="615.8" y="195.8" width="11.7" height="2.72" fill="rgba(120,120,110,0.14)" stroke="#4e4e4a" stroke-width="0.8"/>
<rect x="615.8" y="198.53" width="2.11" height="8.17" fill="none" stroke="#4e4e4a" stroke-width="0.8"/>
<rect x="625.39" y="198.53" width="2.11" height="8.17" fill="none" stroke="#4e4e4a" stroke-width="0.8"/>
<rect x="589.2" y="210" width="10.2" height="31.7" fill="rgba(255,255,255,0.28)" stroke="#4e4e4a" stroke-width="1.1"/>
<rect x="589.2" y="210" width="2.55" height="31.7" fill="rgba(120,120,110,0.14)" stroke="#4e4e4a" stroke-width="0.8"/>
<rect x="591.75" y="211.9" width="7.14" height="8.88" fill="none" stroke="#4e4e4a" stroke-width="0.8"/>
<rect x="591.75" y="221.41" width="7.14" height="8.88" fill="none" stroke="#4e4e4a" stroke-width="0.8"/>
<rect x="591.75" y="230.92" width="7.14" height="8.88" fill="none" stroke="#4e4e4a" stroke-width="0.8"/>
<rect x="605.8" y="215.8" width="8.9" height="15.9" fill="rgba(255,255,255,0.28)" stroke="#4e4e4a" stroke-width="1"/>
<circle cx="593" cy="248.3" r="4.8" fill="#b9b9ae" stroke="#55554f" stroke-width="1"/>
<circle cx="593" cy="248.3" r="2.64" fill="#8f8f86" stroke="#55554f" stroke-width="0.8"/>
<path d="M593 248.3 L597.64 249.54" fill="none" stroke="#55554f" stroke-width="0.7"/>
<path d="M593 248.3 L594.24 252.94" fill="none" stroke="#55554f" stroke-width="0.7"/>
<path d="M593 248.3 L589.61 251.69" fill="none" stroke="#55554f" stroke-width="0.7"/>
<path d="M593 248.3 L588.36 247.06" fill="none" stroke="#55554f" stroke-width="0.7"/>
<path d="M593 248.3 L591.76 243.66" fill="none" stroke="#55554f" stroke-width="0.7"/>
<path d="M593 248.3 L596.39 244.91" fill="none" stroke="#55554f" stroke-width="0.7"/>
<rect x="612.5" y="257.5" width="21.7" height="7.5" fill="rgba(255,255,255,0.28)" stroke="#4e4e4a" stroke-width="1"/>
<path d="M614.5 261.25 L632.2 261.25" fill="none" stroke="#66665f" stroke-width="1.6"/>
<rect x="650" y="228.7" width="15.8" height="43.3" fill="rgba(255,255,255,0.28)" stroke="#4e4e4a" stroke-width="1"/>
<rect x="654.2" y="235.3" width="11.1" height="11.4" fill="#5c5c58" stroke="#444440" stroke-width="0.8"/>
<path d="M655.2 241 L664.3 241" fill="none" stroke="#8a8a84" stroke-width="0.6"/>
<path d="M659.75 236.3 L659.75 245.7" fill="none" stroke="#8a8a84" stroke-width="0.6"/>
<rect x="656.3" y="258.3" width="7.9" height="11.7" fill="rgba(255,255,255,0.28)" stroke="#4e4e4a" stroke-width="1"/>
<rect x="657.9" y="259.9" width="4.7" height="8.5" fill="none" stroke="#77776f" stroke-width="0.8"/>
<circle cx="660.25" cy="264.15" r="0.7" fill="#66665f" stroke="#66665f" stroke-width="0.3"/>
<rect x="685.3" y="235.3" width="13" height="12.2" fill="rgba(255,255,255,0.28)" stroke="#4e4e4a" stroke-width="1"/>
<rect x="716.26" y="141.7" width="8.28" height="4.14" fill="rgba(255,255,255,0.28)" stroke="#4e4e4a" stroke-width="0.9"/>
<ellipse cx="720.4" cy="150.67" rx="3.86" ry="4.97" fill="rgba(255,255,255,0.28)" stroke="#4e4e4a" stroke-width="0.9"/>
<ellipse cx="720.4" cy="150.67" rx="1.93" ry="2.48" fill="none" stroke="#8a8a84" stroke-width="0.7"/>
<circle cx="731" cy="165.5" r="1.1" fill="#4a4a46" stroke="#4a4a46" stroke-width="0.3"/>
<rect x="700" y="205" width="26.5" height="8.5" fill="rgba(255,255,255,0.28)" stroke="#4e4e4a" stroke-width="0.8"/>
<ellipse cx="711" cy="209.2" rx="4.2" ry="3" fill="rgba(255,255,255,0.28)" stroke="#4e4e4a" stroke-width="0.9"/>
<rect x="701.7" y="214.5" width="6.6" height="10.5" fill="rgba(255,255,255,0.28)" stroke="#4e4e4a" stroke-width="0.9"/>
<ellipse cx="705" cy="219.75" rx="2.18" ry="3.78" fill="none" stroke="#77776f" stroke-width="0.8"/>
<rect x="702.5" y="229.11" width="3.99" height="7.47" fill="rgba(255,255,255,0.28)" stroke="#4e4e4a" stroke-width="0.9"/>
<ellipse cx="711.14" cy="232.85" rx="4.79" ry="3.49" fill="rgba(255,255,255,0.28)" stroke="#4e4e4a" stroke-width="0.9"/>
<ellipse cx="711.14" cy="232.85" rx="2.39" ry="1.74" fill="none" stroke="#8a8a84" stroke-width="0.7"/>
<circle cx="701.5" cy="239.5" r="1" fill="#4a4a46" stroke="#4a4a46" stroke-width="0.3"/>
<circle cx="701.5" cy="247" r="1" fill="#4a4a46" stroke="#4a4a46" stroke-width="0.3"/>
<rect x="728" y="228.7" width="9.5" height="27.1" fill="#9c9c92" stroke="#4c4c48" stroke-width="1"/>
<path d="M729.2 232.09 L736.3 232.09" fill="none" stroke="#55554f" stroke-width="1"/>
<path d="M729.2 235.47 L736.3 235.47" fill="none" stroke="#55554f" stroke-width="1"/>
<path d="M729.2 238.86 L736.3 238.86" fill="none" stroke="#55554f" stroke-width="1"/>
<path d="M729.2 242.25 L736.3 242.25" fill="none" stroke="#55554f" stroke-width="1"/>
<path d="M729.2 245.64 L736.3 245.64" fill="none" stroke="#55554f" stroke-width="1"/>
<path d="M729.2 249.03 L736.3 249.03" fill="none" stroke="#55554f" stroke-width="1"/>
<path d="M729.2 252.41 L736.3 252.41" fill="none" stroke="#55554f" stroke-width="1"/>
<path d="M732.75 228.7 L732.75 255.8" fill="none" stroke="#d0d0c4" stroke-width="0.8"/>
<rect x="779.5" y="197.5" width="8" height="7.8" fill="#66665f" stroke="#4a4a46" stroke-width="0.8"/>
<rect x="780.9" y="198.9" width="5.2" height="5" fill="#8a8a80" stroke="#4a4a46" stroke-width="0.5"/>
<rect x="779.5" y="237" width="8" height="6" fill="rgba(255,255,255,0.28)" stroke="#4e4e4a" stroke-width="0.8"/>
<rect x="754.2" y="205.2" width="33.3" height="31.5" fill="rgba(255,255,255,0.28)" stroke="#55554f" stroke-width="1.3"/>
<rect x="756.2" y="207.2" width="30.1" height="27.5" fill="none" stroke="#77776f" stroke-width="0.8"/>
<rect x="785.9" y="205.2" width="1.6" height="31.5" fill="#66665f" stroke="#55554f" stroke-width="0.5"/>
<rect x="778.9" y="211.5" width="6" height="8.19" fill="rgba(255,255,255,0.28)" stroke="#4e4e4a" stroke-width="0.8"/>
<rect x="778.9" y="222.21" width="6" height="8.19" fill="rgba(255,255,255,0.28)" stroke="#4e4e4a" stroke-width="0.8"/>
<rect x="779.5" y="206.46" width="6.8" height="4.09" fill="#77776f" stroke="#55554f" stroke-width="0.6"/>
<rect x="779.5" y="231.34" width="6.8" height="4.09" fill="#77776f" stroke="#55554f" stroke-width="0.6"/>
<rect x="756.2" y="207.2" width="2" height="27.5" fill="none" stroke="#66665f" stroke-width="0.8"/>
<path d="M769.71 233.36 L771.83 232.79 L773.82 231.86 L775.62 230.6 L777.17 229.05 L778.43 227.25 L779.36 225.26 L779.93 223.14 L780.12 220.95 L779.93 218.76 L779.36 216.64 L778.43 214.65 L777.17 212.85 L775.62 211.3 L773.82 210.04 L771.83 209.11 L769.71 208.54" fill="none" stroke="#66665f" stroke-width="1"/>
<circle cx="615.8" cy="149.2" r="6" fill="rgba(255,255,255,0.25)" stroke="#7c7c7e" stroke-width="1.1"/>
<path d="M598.42 161.13 L604.37 154.92 L610.58 160.87 L604.63 167.08Z" fill="rgba(255,255,255,0.3)" stroke="#6a6a6c" stroke-width="1"/>
<path d="M597.07 160.67 L605.16 168.41" fill="none" stroke="#5e5e60" stroke-width="1.5"/>
<path d="M597.07 160.67 L602.83 154.64" fill="none" stroke="#6a6a6c" stroke-width="1.2"/>
<path d="M605.16 168.41 L610.92 162.39" fill="none" stroke="#6a6a6c" stroke-width="1.2"/>
<path d="M624.91 167.05 L619.45 160.41 L626.09 154.95 L631.55 161.59Z" fill="rgba(255,255,255,0.3)" stroke="#6a6a6c" stroke-width="1"/>
<path d="M624.29 168.34 L632.94 161.23" fill="none" stroke="#5e5e60" stroke-width="1.5"/>
<path d="M624.29 168.34 L618.99 161.9" fill="none" stroke="#6a6a6c" stroke-width="1.2"/>
<path d="M632.94 161.23 L627.64 154.79" fill="none" stroke="#6a6a6c" stroke-width="1.2"/>
<rect x="675" y="291.7" width="11.7" height="11.6" fill="#8a8a84" stroke="#44443f" stroke-width="1"/>
<path d="M676 294.6 L685.7 294.6" fill="none" stroke="#4c4c48" stroke-width="1.2"/>
<path d="M676 297.5 L685.7 297.5" fill="none" stroke="#4c4c48" stroke-width="1.2"/>
<path d="M676 300.4 L685.7 300.4" fill="none" stroke="#4c4c48" stroke-width="1.2"/>
<path d="M423.4 642 L413.2 642" fill="none" stroke="#2e2e2c" stroke-width="1.7"/>
<path d="M423.4 677 L413.2 677" fill="none" stroke="#2e2e2c" stroke-width="1.7"/>
<path d="M421.2 642 L421.2 677" fill="none" stroke="#444440" stroke-width="0.9"/>
<path d="M413.8 642 L413.89 643.83 L414.16 645.61 L414.61 647.3 L415.21 648.86 L415.97 650.25 L416.85 651.44 L417.84 652.4 L418.91 653.1 L420.04 653.52 L421.2 653.67" fill="none" stroke="#444440" stroke-width="0.9"/>
<path d="M413.8 653.67 L413.89 651.84 L414.16 650.06 L414.61 648.37 L415.21 646.81 L415.97 645.42 L416.85 644.23 L417.84 643.27 L418.91 642.57 L420.04 642.14 L421.2 642" fill="none" stroke="#444440" stroke-width="0.9"/>
<path d="M413.8 653.67 L413.89 655.49 L414.16 657.27 L414.61 658.96 L415.21 660.52 L415.97 661.92 L416.85 663.11 L417.84 664.06 L418.91 664.76 L420.04 665.19 L421.2 665.33" fill="none" stroke="#444440" stroke-width="0.9"/>
<path d="M413.8 665.33 L413.89 663.51 L414.16 661.73 L414.61 660.04 L415.21 658.48 L415.97 657.08 L416.85 655.89 L417.84 654.94 L418.91 654.24 L420.04 653.81 L421.2 653.67" fill="none" stroke="#444440" stroke-width="0.9"/>
<path d="M422.6 653.67 L420 653.67" fill="none" stroke="#2e2e2c" stroke-width="1.3"/>
<path d="M413.8 665.33 L413.89 667.16 L414.16 668.94 L414.61 670.63 L415.21 672.19 L415.97 673.58 L416.85 674.77 L417.84 675.73 L418.91 676.43 L420.04 676.86 L421.2 677" fill="none" stroke="#444440" stroke-width="0.9"/>
<path d="M413.8 677 L413.89 675.17 L414.16 673.39 L414.61 671.7 L415.21 670.14 L415.97 668.75 L416.85 667.56 L417.84 666.6 L418.91 665.9 L420.04 665.48 L421.2 665.33" fill="none" stroke="#444440" stroke-width="0.9"/>
<path d="M422.6 665.33 L420 665.33" fill="none" stroke="#2e2e2c" stroke-width="1.3"/>
<path d="M747.1 642 L757.3 642" fill="none" stroke="#2e2e2c" stroke-width="1.7"/>
<path d="M747.1 677 L757.3 677" fill="none" stroke="#2e2e2c" stroke-width="1.7"/>
<path d="M749.3 642 L749.3 677" fill="none" stroke="#444440" stroke-width="0.9"/>
<path d="M756.7 642 L756.61 643.83 L756.34 645.61 L755.89 647.3 L755.29 648.86 L754.53 650.25 L753.65 651.44 L752.66 652.4 L751.59 653.1 L750.46 653.52 L749.3 653.67" fill="none" stroke="#444440" stroke-width="0.9"/>
<path d="M756.7 653.67 L756.61 651.84 L756.34 650.06 L755.89 648.37 L755.29 646.81 L754.53 645.42 L753.65 644.23 L752.66 643.27 L751.59 642.57 L750.46 642.14 L749.3 642" fill="none" stroke="#444440" stroke-width="0.9"/>
<path d="M756.7 653.67 L756.61 655.49 L756.34 657.27 L755.89 658.96 L755.29 660.52 L754.53 661.92 L753.65 663.11 L752.66 664.06 L751.59 664.76 L750.46 665.19 L749.3 665.33" fill="none" stroke="#444440" stroke-width="0.9"/>
<path d="M756.7 665.33 L756.61 663.51 L756.34 661.73 L755.89 660.04 L755.29 658.48 L754.53 657.08 L753.65 655.89 L752.66 654.94 L751.59 654.24 L750.46 653.81 L749.3 653.67" fill="none" stroke="#444440" stroke-width="0.9"/>
<path d="M747.9 653.67 L750.5 653.67" fill="none" stroke="#2e2e2c" stroke-width="1.3"/>
<path d="M756.7 665.33 L756.61 667.16 L756.34 668.94 L755.89 670.63 L755.29 672.19 L754.53 673.58 L753.65 674.77 L752.66 675.73 L751.59 676.43 L750.46 676.86 L749.3 677" fill="none" stroke="#444440" stroke-width="0.9"/>
<path d="M756.7 677 L756.61 675.17 L756.34 673.39 L755.89 671.7 L755.29 670.14 L754.53 668.75 L753.65 667.56 L752.66 666.6 L751.59 665.9 L750.46 665.48 L749.3 665.33" fill="none" stroke="#444440" stroke-width="0.9"/>
<path d="M747.9 665.33 L750.5 665.33" fill="none" stroke="#2e2e2c" stroke-width="1.3"/>
<rect x="475.8" y="485.8" width="48.4" height="48.4" fill="none" stroke="#4e4e4a" stroke-width="1"/>
<rect x="472" y="486.7" width="9.3" height="9.1" fill="#66665f" stroke="#4a4a46" stroke-width="0.8"/>
<rect x="473.4" y="488.1" width="6.5" height="6.3" fill="#8a8a80" stroke="#4a4a46" stroke-width="0.5"/>
<rect x="484.2" y="486.7" width="34.1" height="10.8" fill="rgba(255,255,255,0.28)" stroke="#4e4e4a" stroke-width="1.1"/>
<rect x="484.2" y="486.7" width="34.1" height="2.7" fill="rgba(120,120,110,0.14)" stroke="#4e4e4a" stroke-width="0.8"/>
<rect x="486.25" y="489.4" width="9.55" height="7.56" fill="none" stroke="#4e4e4a" stroke-width="0.8"/>
<rect x="496.48" y="489.4" width="9.55" height="7.56" fill="none" stroke="#4e4e4a" stroke-width="0.8"/>
<rect x="506.71" y="489.4" width="9.55" height="7.56" fill="none" stroke="#4e4e4a" stroke-width="0.8"/>
<circle cx="527.5" cy="490.3" r="4.8" fill="#b9b9ae" stroke="#55554f" stroke-width="1"/>
<circle cx="527.5" cy="490.3" r="2.64" fill="#8f8f86" stroke="#55554f" stroke-width="0.8"/>
<path d="M527.5 490.3 L532.14 491.54" fill="none" stroke="#55554f" stroke-width="0.7"/>
<path d="M527.5 490.3 L528.74 494.94" fill="none" stroke="#55554f" stroke-width="0.7"/>
<path d="M527.5 490.3 L524.11 493.69" fill="none" stroke="#55554f" stroke-width="0.7"/>
<path d="M527.5 490.3 L522.86 489.06" fill="none" stroke="#55554f" stroke-width="0.7"/>
<path d="M527.5 490.3 L526.26 485.66" fill="none" stroke="#55554f" stroke-width="0.7"/>
<path d="M527.5 490.3 L530.89 486.91" fill="none" stroke="#55554f" stroke-width="0.7"/>
<rect x="470" y="500" width="11.3" height="11.7" fill="rgba(255,255,255,0.28)" stroke="#4e4e4a" stroke-width="1.1"/>
<rect x="470" y="500" width="2.82" height="11.7" fill="rgba(120,120,110,0.14)" stroke="#4e4e4a" stroke-width="0.8"/>
<rect x="472.82" y="500" width="8.48" height="2.11" fill="none" stroke="#4e4e4a" stroke-width="0.8"/>
<rect x="472.82" y="509.59" width="8.48" height="2.11" fill="none" stroke="#4e4e4a" stroke-width="0.8"/>
<rect x="470" y="515" width="11.3" height="12.5" fill="rgba(255,255,255,0.28)" stroke="#4e4e4a" stroke-width="1.1"/>
<rect x="470" y="515" width="2.82" height="12.5" fill="rgba(120,120,110,0.14)" stroke="#4e4e4a" stroke-width="0.8"/>
<rect x="472.82" y="515" width="8.48" height="2.25" fill="none" stroke="#4e4e4a" stroke-width="0.8"/>
<rect x="472.82" y="525.25" width="8.48" height="2.25" fill="none" stroke="#4e4e4a" stroke-width="0.8"/>
<rect x="490.8" y="505" width="18.4" height="9.2" fill="rgba(255,255,255,0.28)" stroke="#4e4e4a" stroke-width="1"/>
<rect x="549.2" y="513" width="6.6" height="22" fill="rgba(255,255,255,0.28)" stroke="#4e4e4a" stroke-width="1"/>
<path d="M552.5 515 L552.5 533" fill="none" stroke="#66665f" stroke-width="1.6"/>
<rect x="501.5" y="554.5" width="7" height="7" fill="rgba(255,255,255,0.28)" stroke="#4e4e4a" stroke-width="0.9"/>
<rect x="501.5" y="554.2" width="7" height="2.1" fill="#77776f" stroke="#4e4e4a" stroke-width="0.6"/>
<path d="M500.5 555.5 L500.5 560.5" fill="none" stroke="#4e4e4a" stroke-width="0.9"/>
<path d="M509.5 555.5 L509.5 560.5" fill="none" stroke="#4e4e4a" stroke-width="0.9"/>
<rect x="501.5" y="585" width="7" height="7" fill="rgba(255,255,255,0.28)" stroke="#4e4e4a" stroke-width="0.9"/>
<rect x="501.5" y="590.2" width="7" height="2.1" fill="#77776f" stroke="#4e4e4a" stroke-width="0.6"/>
<path d="M500.5 586 L500.5 591" fill="none" stroke="#4e4e4a" stroke-width="0.9"/>
<path d="M509.5 586 L509.5 591" fill="none" stroke="#4e4e4a" stroke-width="0.9"/>
<rect x="491" y="563.12" width="7" height="7" fill="rgba(255,255,255,0.28)" stroke="#4e4e4a" stroke-width="0.9"/>
<rect x="490.7" y="563.12" width="2.1" height="7" fill="#77776f" stroke="#4e4e4a" stroke-width="0.6"/>
<path d="M492 562.12 L497 562.12" fill="none" stroke="#4e4e4a" stroke-width="0.9"/>
<path d="M492 571.12 L497 571.12" fill="none" stroke="#4e4e4a" stroke-width="0.9"/>
<rect x="491" y="576.38" width="7" height="7" fill="rgba(255,255,255,0.28)" stroke="#4e4e4a" stroke-width="0.9"/>
<rect x="490.7" y="576.38" width="2.1" height="7" fill="#77776f" stroke="#4e4e4a" stroke-width="0.6"/>
<path d="M492 575.38 L497 575.38" fill="none" stroke="#4e4e4a" stroke-width="0.9"/>
<path d="M492 584.38 L497 584.38" fill="none" stroke="#4e4e4a" stroke-width="0.9"/>
<rect x="512" y="563.12" width="7" height="7" fill="rgba(255,255,255,0.28)" stroke="#4e4e4a" stroke-width="0.9"/>
<rect x="517.2" y="563.12" width="2.1" height="7" fill="#77776f" stroke="#4e4e4a" stroke-width="0.6"/>
<path d="M513 562.12 L518 562.12" fill="none" stroke="#4e4e4a" stroke-width="0.9"/>
<path d="M513 571.12 L518 571.12" fill="none" stroke="#4e4e4a" stroke-width="0.9"/>
<rect x="512" y="576.38" width="7" height="7" fill="rgba(255,255,255,0.28)" stroke="#4e4e4a" stroke-width="0.9"/>
<rect x="517.2" y="576.38" width="2.1" height="7" fill="#77776f" stroke="#4e4e4a" stroke-width="0.6"/>
<path d="M513 575.38 L518 575.38" fill="none" stroke="#4e4e4a" stroke-width="0.9"/>
<path d="M513 584.38 L518 584.38" fill="none" stroke="#4e4e4a" stroke-width="0.9"/>
<path d="M499 560 L511 560 L513.5 562.5 L513.5 584 L511 586.5 L499 586.5 L496.5 584 L496.5 562.5Z" fill="rgba(255,255,255,0.28)" stroke="#4e4e4a" stroke-width="1"/>
<path d="M570.8 548.5 L570.8 597.5" fill="none" stroke="#8a8a84" stroke-width="0.8"/>
<rect x="572.3" y="563.3" width="10.2" height="10.9" fill="#5c5c58" stroke="#444440" stroke-width="0.8"/>
<path d="M573.3 568.75 L581.5 568.75" fill="none" stroke="#8a8a84" stroke-width="0.6"/>
<path d="M577.4 564.3 L577.4 573.2" fill="none" stroke="#8a8a84" stroke-width="0.6"/>
<rect x="573.3" y="584.2" width="8.4" height="10.8" fill="rgba(255,255,255,0.28)" stroke="#4e4e4a" stroke-width="1"/>
<rect x="574.9" y="585.8" width="5.2" height="7.6" fill="none" stroke="#77776f" stroke-width="0.8"/>
<circle cx="577.5" cy="589.6" r="0.7" fill="#66665f" stroke="#66665f" stroke-width="0.3"/>
<rect x="530" y="583.3" width="11.7" height="11.7" fill="rgba(255,255,255,0.28)" stroke="#4e4e4a" stroke-width="1"/>
<rect x="399.2" y="566" width="8.8" height="7.3" fill="#66665f" stroke="#4a4a46" stroke-width="0.8"/>
<rect x="400.6" y="567.4" width="6" height="4.5" fill="#8a8a80" stroke="#4a4a46" stroke-width="0.5"/>
<rect x="399.2" y="606" width="8.8" height="6" fill="rgba(255,255,255,0.28)" stroke="#4e4e4a" stroke-width="0.8"/>
<rect x="399.2" y="573.3" width="34.1" height="32.5" fill="rgba(255,255,255,0.28)" stroke="#55554f" stroke-width="1.3"/>
<rect x="400.4" y="575.3" width="30.9" height="28.5" fill="none" stroke="#77776f" stroke-width="0.8"/>
<rect x="399.2" y="573.3" width="1.6" height="32.5" fill="#66665f" stroke="#55554f" stroke-width="0.5"/>
<rect x="401.8" y="579.8" width="6" height="8.45" fill="rgba(255,255,255,0.28)" stroke="#4e4e4a" stroke-width="0.8"/>
<rect x="401.8" y="590.85" width="6" height="8.45" fill="rgba(255,255,255,0.28)" stroke="#4e4e4a" stroke-width="0.8"/>
<rect x="400.4" y="574.6" width="6.8" height="4.23" fill="#77776f" stroke="#55554f" stroke-width="0.6"/>
<rect x="400.4" y="600.27" width="6.8" height="4.23" fill="#77776f" stroke="#55554f" stroke-width="0.6"/>
<rect x="429.3" y="575.3" width="2" height="28.5" fill="none" stroke="#66665f" stroke-width="0.8"/>
<path d="M417.4 602.35 L415.21 601.77 L413.16 600.81 L411.3 599.51 L409.7 597.91 L408.4 596.05 L407.44 594 L406.86 591.81 L406.66 589.55 L406.86 587.29 L407.44 585.1 L408.4 583.05 L409.7 581.19 L411.3 579.59 L413.16 578.29 L415.21 577.33 L417.4 576.75" fill="none" stroke="#66665f" stroke-width="1"/>
<rect x="455" y="563.3" width="10.8" height="14.2" fill="#9c9c92" stroke="#4c4c48" stroke-width="1"/>
<path d="M456.2 566.85 L464.6 566.85" fill="none" stroke="#55554f" stroke-width="1"/>
<path d="M456.2 570.4 L464.6 570.4" fill="none" stroke="#55554f" stroke-width="1"/>
<path d="M456.2 573.95 L464.6 573.95" fill="none" stroke="#55554f" stroke-width="1"/>
<path d="M460.4 563.3 L460.4 577.5" fill="none" stroke="#d0d0c4" stroke-width="0.8"/>
<rect x="455" y="590.8" width="10.8" height="15" fill="#9c9c92" stroke="#4c4c48" stroke-width="1"/>
<path d="M456.2 593.8 L464.6 593.8" fill="none" stroke="#55554f" stroke-width="1"/>
<path d="M456.2 596.8 L464.6 596.8" fill="none" stroke="#55554f" stroke-width="1"/>
<path d="M456.2 599.8 L464.6 599.8" fill="none" stroke="#55554f" stroke-width="1"/>
<path d="M456.2 602.8 L464.6 602.8" fill="none" stroke="#55554f" stroke-width="1"/>
<path d="M460.4 590.8 L460.4 605.8" fill="none" stroke="#d0d0c4" stroke-width="0.8"/>
<rect x="458" y="577.5" width="7.8" height="13.3" fill="rgba(255,255,255,0.28)" stroke="#4e4e4a" stroke-width="0.8"/>
<rect x="450.8" y="580.8" width="6.7" height="6.7" fill="rgba(255,255,255,0.28)" stroke="#4e4e4a" stroke-width="1"/>
<rect x="452" y="582" width="4.3" height="4.3" fill="none" stroke="#8a8a82" stroke-width="0.6"/>
<rect x="424.2" y="627.2" width="15.5" height="9.5" fill="#9c9c92" stroke="#4c4c48" stroke-width="1"/>
<path d="M427.3 628.4 L427.3 635.5" fill="none" stroke="#55554f" stroke-width="1"/>
<path d="M430.4 628.4 L430.4 635.5" fill="none" stroke="#55554f" stroke-width="1"/>
<path d="M433.5 628.4 L433.5 635.5" fill="none" stroke="#55554f" stroke-width="1"/>
<path d="M436.6 628.4 L436.6 635.5" fill="none" stroke="#55554f" stroke-width="1"/>
<path d="M424.2 631.95 L439.7 631.95" fill="none" stroke="#d0d0c4" stroke-width="0.8"/>
<rect x="451.7" y="627.2" width="15" height="9.5" fill="#9c9c92" stroke="#4c4c48" stroke-width="1"/>
<path d="M454.7 628.4 L454.7 635.5" fill="none" stroke="#55554f" stroke-width="1"/>
<path d="M457.7 628.4 L457.7 635.5" fill="none" stroke="#55554f" stroke-width="1"/>
<path d="M460.7 628.4 L460.7 635.5" fill="none" stroke="#55554f" stroke-width="1"/>
<path d="M463.7 628.4 L463.7 635.5" fill="none" stroke="#55554f" stroke-width="1"/>
<path d="M451.7 631.95 L466.7 631.95" fill="none" stroke="#d0d0c4" stroke-width="0.8"/>
<rect x="439.7" y="627.2" width="12" height="6.8" fill="rgba(255,255,255,0.28)" stroke="#4e4e4a" stroke-width="0.8"/>
<rect x="442.5" y="634.5" width="6.7" height="6.5" fill="rgba(255,255,255,0.28)" stroke="#4e4e4a" stroke-width="1"/>
<rect x="443.7" y="635.7" width="4.3" height="4.1" fill="none" stroke="#8a8a82" stroke-width="0.6"/>
<rect x="426" y="679.7" width="10" height="7.6" fill="#66665f" stroke="#4a4a46" stroke-width="0.8"/>
<rect x="427.4" y="681.1" width="7.2" height="4.8" fill="#8a8a80" stroke="#4a4a46" stroke-width="0.5"/>
<rect x="469.7" y="679.7" width="10" height="7.6" fill="rgba(255,255,255,0.28)" stroke="#4e4e4a" stroke-width="0.8"/>
<rect x="437.3" y="654.5" width="31.5" height="32.8" fill="rgba(255,255,255,0.28)" stroke="#55554f" stroke-width="1.3"/>
<rect x="439.3" y="656.5" width="27.5" height="29.6" fill="none" stroke="#77776f" stroke-width="0.8"/>
<rect x="437.3" y="685.7" width="31.5" height="1.6" fill="#66665f" stroke="#55554f" stroke-width="0.5"/>
<rect x="443.6" y="678.7" width="8.19" height="6" fill="rgba(255,255,255,0.28)" stroke="#4e4e4a" stroke-width="0.8"/>
<rect x="454.31" y="678.7" width="8.19" height="6" fill="rgba(255,255,255,0.28)" stroke="#4e4e4a" stroke-width="0.8"/>
<rect x="438.56" y="679.3" width="4.1" height="6.8" fill="#77776f" stroke="#55554f" stroke-width="0.6"/>
<rect x="463.44" y="679.3" width="4.1" height="6.8" fill="#77776f" stroke="#55554f" stroke-width="0.6"/>
<rect x="439.3" y="656.5" width="27.5" height="2" fill="none" stroke="#66665f" stroke-width="0.8"/>
<path d="M465.46 669.81 L464.89 671.93 L463.96 673.92 L462.7 675.72 L461.15 677.27 L459.35 678.53 L457.36 679.46 L455.24 680.03 L453.05 680.22 L450.86 680.03 L448.74 679.46 L446.75 678.53 L444.95 677.27 L443.4 675.72 L442.14 673.92 L441.21 671.93 L440.64 669.81" fill="none" stroke="#66665f" stroke-width="1"/>
<rect x="491" y="661" width="6.5" height="23.7" fill="rgba(255,255,255,0.28)" stroke="#4e4e4a" stroke-width="1"/>
<path d="M494.25 663 L494.25 682.7" fill="none" stroke="#66665f" stroke-width="1.6"/>
<circle cx="384.2" cy="656.7" r="6" fill="rgba(255,255,255,0.25)" stroke="#7c7c7e" stroke-width="1.1"/>
<path d="M401.83 640.69 L396.61 647.53 L389.77 642.31 L394.99 635.47Z" fill="rgba(255,255,255,0.3)" stroke="#6a6a6c" stroke-width="1"/>
<path d="M403.22 641 L394.32 634.21" fill="none" stroke="#5e5e60" stroke-width="1.5"/>
<path d="M403.22 641 L398.16 647.63" fill="none" stroke="#6a6a6c" stroke-width="1.2"/>
<path d="M394.32 634.21 L389.26 640.84" fill="none" stroke="#6a6a6c" stroke-width="1.2"/>
<path d="M395.75 674.58 L389.72 668.45 L395.85 662.42 L401.88 668.55Z" fill="rgba(255,255,255,0.3)" stroke="#6a6a6c" stroke-width="1"/>
<path d="M395.24 675.92 L403.23 668.07" fill="none" stroke="#5e5e60" stroke-width="1.5"/>
<path d="M395.24 675.92 L389.39 669.97" fill="none" stroke="#6a6a6c" stroke-width="1.2"/>
<path d="M403.23 668.07 L397.38 662.12" fill="none" stroke="#6a6a6c" stroke-width="1.2"/>
<rect x="486.5" y="600.5" width="11" height="9" fill="rgba(255,255,255,0.28)" stroke="#4e4e4a" stroke-width="1"/>
<ellipse cx="492" cy="605" rx="4.18" ry="3.42" fill="rgba(255,255,255,0.28)" stroke="#66665f" stroke-width="0.9"/>
<ellipse cx="492" cy="605" rx="2.2" ry="1.8" fill="none" stroke="#8a8a84" stroke-width="0.6"/>
<rect x="519.6" y="628.48" width="3.9" height="8.55" fill="rgba(255,255,255,0.28)" stroke="#4e4e4a" stroke-width="0.9"/>
<ellipse cx="515.05" cy="632.75" rx="4.68" ry="3.99" fill="rgba(255,255,255,0.28)" stroke="#4e4e4a" stroke-width="0.9"/>
<ellipse cx="515.05" cy="632.75" rx="2.34" ry="1.99" fill="none" stroke="#8a8a84" stroke-width="0.7"/>
<circle cx="523.5" cy="606" r="0.9" fill="#4a4a46" stroke="#4a4a46" stroke-width="0.3"/>
<circle cx="523.5" cy="611" r="0.9" fill="#4a4a46" stroke="#4a4a46" stroke-width="0.3"/>
<circle cx="518" cy="608.5" r="0.9" fill="#4a4a46" stroke="#4a4a46" stroke-width="0.3"/>
<rect x="517.5" y="646.7" width="7.5" height="9.3" fill="rgba(255,255,255,0.28)" stroke="#4e4e4a" stroke-width="0.9"/>
<ellipse cx="521.25" cy="651.35" rx="2.48" ry="3.35" fill="none" stroke="#77776f" stroke-width="0.8"/>
<rect x="519.6" y="661.98" width="3.9" height="8.55" fill="rgba(255,255,255,0.28)" stroke="#4e4e4a" stroke-width="0.9"/>
<ellipse cx="515.05" cy="666.25" rx="4.68" ry="3.99" fill="rgba(255,255,255,0.28)" stroke="#4e4e4a" stroke-width="0.9"/>
<ellipse cx="515.05" cy="666.25" rx="2.34" ry="1.99" fill="none" stroke="#8a8a84" stroke-width="0.7"/>
<circle cx="523.5" cy="678" r="0.9" fill="#4a4a46" stroke="#4a4a46" stroke-width="0.3"/>
<circle cx="523.5" cy="683" r="0.9" fill="#4a4a46" stroke="#4a4a46" stroke-width="0.3"/>
<circle cx="518" cy="680.5" r="0.9" fill="#4a4a46" stroke="#4a4a46" stroke-width="0.3"/>
<rect x="528.7" y="601.7" width="12.1" height="11.6" fill="#8a8a84" stroke="#44443f" stroke-width="1"/>
<path d="M531.73 602.7 L531.73 612.3" fill="none" stroke="#4c4c48" stroke-width="1.2"/>
<path d="M534.75 602.7 L534.75 612.3" fill="none" stroke="#4c4c48" stroke-width="1.2"/>
<path d="M537.77 602.7 L537.77 612.3" fill="none" stroke="#4c4c48" stroke-width="1.2"/>
</g>
<g id="L-text" shape-rendering="auto">
<text x="7.5" y="25" font-size="19.8" font-weight="bold" fill="#1c1c1c" stroke="#1c1c1c" stroke-width="0.7" textLength="137" lengthAdjust="spacingAndGlyphs">BUILDING - C</text>
<text x="155.5" y="22" font-size="14.6" fill="#2a2a2a" textLength="243" lengthAdjust="spacingAndGlyphs" xml:space="preserve">TYPICAL  2nd, 4th, 6th  FLOOR PLAN</text>
<text transform="translate(75 307.8) rotate(-90)" y="5.13" font-size="15" font-weight="normal" fill="#333333" text-anchor="middle" textLength="113.5" lengthAdjust="spacingAndGlyphs" stroke="#333333" stroke-width="0.45">ADJ. CLUB HOUSE</text>
<text transform="translate(1094.6 316.1) rotate(-90)" y="4.51" font-size="13.3" font-weight="normal" fill="#333333" text-anchor="middle" textLength="103.4" lengthAdjust="spacingAndGlyphs" stroke="#333333" stroke-width="0.45">ADJ. DRIVE WAY</text>
<text transform="translate(586 754)" y="5.13" font-size="15" font-weight="normal" fill="#333333" text-anchor="middle" textLength="115" lengthAdjust="spacingAndGlyphs" stroke="#333333" stroke-width="0.4">ADJ. ‘B’ BUILDING</text>
<text transform="translate(353.3 150) scale(0.9 1)" y="3.32" font-size="10" font-weight="normal" fill="#3c3c3c" text-anchor="middle" stroke="#3c3c3c" stroke-width="0.3">ALT</text>
<text transform="translate(353.3 160.8) scale(0.9 1)" y="3.32" font-size="10" font-weight="normal" fill="#3c3c3c" text-anchor="middle" stroke="#3c3c3c" stroke-width="0.3">TERRACE</text>
<text transform="translate(246.75 266.5) scale(0.9 1)" y="3.32" font-size="10" font-weight="normal" fill="#3c3c3c" text-anchor="middle" stroke="#3c3c3c" stroke-width="0.3">ALT</text>
<text transform="translate(246.75 277) scale(0.9 1)" y="3.32" font-size="10" font-weight="normal" fill="#3c3c3c" text-anchor="middle" stroke="#3c3c3c" stroke-width="0.3">DRY</text>
<text transform="translate(246.75 287) scale(0.9 1)" y="3.32" font-size="10" font-weight="normal" fill="#3c3c3c" text-anchor="middle" stroke="#3c3c3c" stroke-width="0.3">TER.</text>
<text transform="translate(246.75 307.75) scale(0.9 1)" y="3.32" font-size="10" font-weight="normal" fill="#3c3c3c" text-anchor="middle" stroke="#3c3c3c" stroke-width="0.3">ALT</text>
<text transform="translate(246.75 318) scale(0.9 1)" y="3.32" font-size="10" font-weight="normal" fill="#3c3c3c" text-anchor="middle" stroke="#3c3c3c" stroke-width="0.3">DRY</text>
<text transform="translate(246.75 328) scale(0.9 1)" y="3.32" font-size="10" font-weight="normal" fill="#3c3c3c" text-anchor="middle" stroke="#3c3c3c" stroke-width="0.3">TER.</text>
<text transform="translate(247.5 345) scale(0.9 1)" y="2.38" font-size="7.4" font-weight="normal" fill="#4e4e4e" text-anchor="middle" stroke="#4e4e4e" stroke-width="0.15">DRY TER.</text>
<text transform="translate(247.5 353) scale(0.9 1)" y="2.38" font-size="7.4" font-weight="normal" fill="#4e4e4e" text-anchor="middle" stroke="#4e4e4e" stroke-width="0.15">4'6"X6'2"</text>
<text transform="translate(152 314.5) scale(0.9 1)" y="2.38" font-size="7.4" font-weight="normal" fill="#4e4e4e" text-anchor="middle" stroke="#4e4e4e" stroke-width="0.15">TOILET</text>
<text transform="translate(152 322.5) scale(0.9 1)" y="2.38" font-size="7.4" font-weight="normal" fill="#4e4e4e" text-anchor="middle" stroke="#4e4e4e" stroke-width="0.15">5'0"X7'6"</text>
<text transform="translate(147 372) scale(0.9 1)" y="3.32" font-size="10" font-weight="normal" fill="#3c3c3c" text-anchor="middle" stroke="#3c3c3c" stroke-width="0.3">BED ROOM</text>
<text transform="translate(147 381.7) scale(0.9 1)" y="3.32" font-size="10" font-weight="normal" fill="#3c3c3c" text-anchor="middle" stroke="#3c3c3c" stroke-width="0.3">13'0"X10'0"</text>
<text transform="translate(218.75 367) scale(0.9 1)" y="2.38" font-size="7.4" font-weight="normal" fill="#4e4e4e" text-anchor="middle" stroke="#4e4e4e" stroke-width="0.15">TOI.</text>
<text transform="translate(218.75 376) scale(0.9 1)" y="2.38" font-size="7.4" font-weight="normal" fill="#4e4e4e" text-anchor="middle" stroke="#4e4e4e" stroke-width="0.15">7'0"X4'0"</text>
<text transform="translate(291.3 317.5) scale(0.9 1)" y="3.32" font-size="10" font-weight="normal" fill="#3c3c3c" text-anchor="middle" stroke="#3c3c3c" stroke-width="0.3">KITCHEN</text>
<text transform="translate(291.3 329.2) scale(0.9 1)" y="3.32" font-size="10" font-weight="normal" fill="#3c3c3c" text-anchor="middle" stroke="#3c3c3c" stroke-width="0.3">8'0"X8'6"</text>
<text transform="translate(348.5 356.5) scale(0.9 1)" y="3.32" font-size="10" font-weight="normal" fill="#3c3c3c" text-anchor="middle" stroke="#3c3c3c" stroke-width="0.3">LIVING</text>
<text transform="translate(348.5 368.25) scale(0.9 1)" y="3.32" font-size="10" font-weight="normal" fill="#3c3c3c" text-anchor="middle" stroke="#3c3c3c" stroke-width="0.3">10'0"X15'0"</text>
<text transform="translate(290 376.5) scale(0.9 1)" y="3.32" font-size="10" font-weight="normal" fill="#3c3c3c" text-anchor="middle" stroke="#3c3c3c" stroke-width="0.3">DINING</text>
<text transform="translate(290 388.5) scale(0.9 1)" y="3.32" font-size="10" font-weight="normal" fill="#3c3c3c" text-anchor="middle" stroke="#3c3c3c" stroke-width="0.3">8'4"X9'0"</text>
<text transform="translate(128.75 415.25) scale(0.9 1)" y="2.38" font-size="7.4" font-weight="normal" fill="#4e4e4e" text-anchor="middle" stroke="#4e4e4e" stroke-width="0.15">TOILET</text>
<text transform="translate(128.75 422.75) scale(0.9 1)" y="2.38" font-size="7.4" font-weight="normal" fill="#4e4e4e" text-anchor="middle" stroke="#4e4e4e" stroke-width="0.15">4'6"X7'6"</text>
<text transform="translate(176.25 441) scale(0.9 1)" y="3.32" font-size="10" font-weight="normal" fill="#3c3c3c" text-anchor="middle" stroke="#3c3c3c" stroke-width="0.3">BED ROOM</text>
<text transform="translate(176.25 452) scale(0.9 1)" y="3.32" font-size="10" font-weight="normal" fill="#3c3c3c" text-anchor="middle" stroke="#3c3c3c" stroke-width="0.3">10'0"X12'6"</text>
<text transform="translate(242.5 437.75) scale(0.9 1)" y="3.32" font-size="10" font-weight="normal" fill="#3c3c3c" text-anchor="middle" stroke="#3c3c3c" stroke-width="0.3">BED ROOM</text>
<text transform="translate(242.5 449.5) scale(0.9 1)" y="3.32" font-size="10" font-weight="normal" fill="#3c3c3c" text-anchor="middle" stroke="#3c3c3c" stroke-width="0.3">10'0"X10'6"</text>
<text transform="translate(299.75 432.75) scale(0.9 1)" y="3.32" font-size="10" font-weight="normal" fill="#3c3c3c" text-anchor="middle" stroke="#3c3c3c" stroke-width="0.3">TERRACE</text>
<text transform="translate(299.75 444) scale(0.9 1)" y="3.32" font-size="10" font-weight="normal" fill="#3c3c3c" text-anchor="middle" stroke="#3c3c3c" stroke-width="0.3">9'0"X8'9"</text>
<text transform="translate(363 426.5) scale(0.9 1)" y="3.32" font-size="10" font-weight="normal" fill="#3c3c3c" text-anchor="middle" stroke="#3c3c3c" stroke-width="0.3">ALT</text>
<text transform="translate(363 437.75) scale(0.9 1)" y="3.32" font-size="10" font-weight="normal" fill="#3c3c3c" text-anchor="middle" stroke="#3c3c3c" stroke-width="0.3">TERRACE</text>
<text transform="translate(408.8 150) scale(0.9 1)" y="3.32" font-size="10" font-weight="normal" fill="#3c3c3c" text-anchor="middle" stroke="#3c3c3c" stroke-width="0.3">ALT</text>
<text transform="translate(408.8 160.8) scale(0.9 1)" y="3.32" font-size="10" font-weight="normal" fill="#3c3c3c" text-anchor="middle" stroke="#3c3c3c" stroke-width="0.3">TERRACE</text>
<text transform="translate(450.8 155.8) scale(0.9 1)" y="2.38" font-size="7.4" font-weight="normal" fill="#4e4e4e" text-anchor="middle" stroke="#4e4e4e" stroke-width="0.15">TOILET</text>
<text transform="translate(450.8 164.2) scale(0.9 1)" y="2.38" font-size="7.4" font-weight="normal" fill="#4e4e4e" text-anchor="middle" stroke="#4e4e4e" stroke-width="0.15">4'0"X7'0"</text>
<text transform="translate(493.7 145.8) scale(0.9 1)" y="3.32" font-size="10" font-weight="normal" fill="#3c3c3c" text-anchor="middle" stroke="#3c3c3c" stroke-width="0.3">BED ROOM</text>
<text transform="translate(493.7 157.5) scale(0.9 1)" y="3.32" font-size="10" font-weight="normal" fill="#3c3c3c" text-anchor="middle" stroke="#3c3c3c" stroke-width="0.3">9'0"X10'0"</text>
<text transform="translate(555.6 153.7) scale(0.9 1)" y="3.32" font-size="10" font-weight="normal" fill="#3c3c3c" text-anchor="middle" stroke="#3c3c3c" stroke-width="0.3">TERRACE</text>
<text transform="translate(555.6 165.5) scale(0.9 1)" y="3.32" font-size="10" font-weight="normal" fill="#3c3c3c" text-anchor="middle" stroke="#3c3c3c" stroke-width="0.3">9'9"X8'0"</text>
<text transform="translate(414.75 215.75) scale(0.9 1)" y="3.32" font-size="10" font-weight="normal" fill="#3c3c3c" text-anchor="middle" stroke="#3c3c3c" stroke-width="0.3">BED ROOM</text>
<text transform="translate(414.75 227) scale(0.9 1)" y="3.32" font-size="10" font-weight="normal" fill="#3c3c3c" text-anchor="middle" stroke="#3c3c3c" stroke-width="0.3">10'0"X11'6"</text>
<text transform="translate(457.75 233.75) scale(0.9 1)" y="2.38" font-size="7.4" font-weight="normal" fill="#4e4e4e" text-anchor="middle" stroke="#4e4e4e" stroke-width="0.15">TOILET</text>
<text transform="translate(457.75 242) scale(0.9 1)" y="2.38" font-size="7.4" font-weight="normal" fill="#4e4e4e" text-anchor="middle" stroke="#4e4e4e" stroke-width="0.15">4'0"X7'0"</text>
<text transform="translate(494 216.25) scale(0.9 1)" y="3.32" font-size="10" font-weight="normal" fill="#3c3c3c" text-anchor="middle" stroke="#3c3c3c" stroke-width="0.3">KITCHEN</text>
<text transform="translate(494 227.75) scale(0.9 1)" y="3.32" font-size="10" font-weight="normal" fill="#3c3c3c" text-anchor="middle" stroke="#3c3c3c" stroke-width="0.3">+ DINING</text>
<text transform="translate(494 239) scale(0.9 1)" y="3.32" font-size="10" font-weight="normal" fill="#3c3c3c" text-anchor="middle" stroke="#3c3c3c" stroke-width="0.3">7'6"X14'0"</text>
<text transform="translate(552 229) scale(0.9 1)" y="3.32" font-size="10" font-weight="normal" fill="#3c3c3c" text-anchor="middle" stroke="#3c3c3c" stroke-width="0.3">LIVING</text>
<text transform="translate(552 239.7) scale(0.9 1)" y="3.32" font-size="10" font-weight="normal" fill="#3c3c3c" text-anchor="middle" stroke="#3c3c3c" stroke-width="0.3">10'3"X13'0"</text>
<text transform="translate(442.25 290.75) scale(0.88 1)" y="3.39" font-size="10.2" font-weight="normal" fill="#3c3c3c" text-anchor="middle" stroke="#3c3c3c" stroke-width="0.3">DUCT</text>
<text transform="translate(728 290.8) scale(0.88 1)" y="3.39" font-size="10.2" font-weight="normal" fill="#3c3c3c" text-anchor="middle" stroke="#3c3c3c" stroke-width="0.3">DUCT</text>
<text transform="translate(484.75 291.5) scale(0.9 1)" y="2.38" font-size="7.4" font-weight="normal" fill="#4e4e4e" text-anchor="middle" stroke="#4e4e4e" stroke-width="0.15">DRY</text>
<text transform="translate(484.75 300.75) scale(0.9 1)" y="2.38" font-size="7.4" font-weight="normal" fill="#4e4e4e" text-anchor="middle" stroke="#4e4e4e" stroke-width="0.15">TER.</text>
<text transform="translate(484.75 309) scale(0.9 1)" y="2.38" font-size="7.4" font-weight="normal" fill="#4e4e4e" text-anchor="middle" stroke="#4e4e4e" stroke-width="0.15">4'0"X7'0"</text>
<text transform="translate(509.75 289.5) scale(0.9 1)" y="3.32" font-size="10" font-weight="normal" fill="#3c3c3c" text-anchor="middle" stroke="#3c3c3c" stroke-width="0.3">ALT</text>
<text transform="translate(509.75 300.75) scale(0.9 1)" y="3.32" font-size="10" font-weight="normal" fill="#3c3c3c" text-anchor="middle" stroke="#3c3c3c" stroke-width="0.3">DRY</text>
<text transform="translate(509.75 310.75) scale(0.9 1)" y="3.32" font-size="10" font-weight="normal" fill="#3c3c3c" text-anchor="middle" stroke="#3c3c3c" stroke-width="0.3">TER.</text>
<text transform="translate(662 289.5) scale(0.9 1)" y="3.32" font-size="10" font-weight="normal" fill="#3c3c3c" text-anchor="middle" stroke="#3c3c3c" stroke-width="0.3">ALT</text>
<text transform="translate(662 300.75) scale(0.9 1)" y="3.32" font-size="10" font-weight="normal" fill="#3c3c3c" text-anchor="middle" stroke="#3c3c3c" stroke-width="0.3">DRY</text>
<text transform="translate(662 310.75) scale(0.9 1)" y="3.32" font-size="10" font-weight="normal" fill="#3c3c3c" text-anchor="middle" stroke="#3c3c3c" stroke-width="0.3">TER.</text>
<text transform="translate(541 285.8) scale(0.9 1)" y="3.32" font-size="10" font-weight="normal" fill="#3c3c50" text-anchor="middle" stroke="#3c3c50" stroke-width="0.3">LIFT</text>
<text transform="translate(541 297.5) scale(0.9 1)" y="3.32" font-size="10" font-weight="normal" fill="#3c3c50" text-anchor="middle" stroke="#3c3c50" stroke-width="0.3">6'0"X6'0"</text>
<text transform="translate(629.5 285.8) scale(0.9 1)" y="3.32" font-size="10" font-weight="normal" fill="#3c3c50" text-anchor="middle" stroke="#3c3c50" stroke-width="0.3">LIFT</text>
<text transform="translate(629.5 297.5) scale(0.9 1)" y="3.32" font-size="10" font-weight="normal" fill="#3c3c50" text-anchor="middle" stroke="#3c3c50" stroke-width="0.3">6'0"X6'0"</text>
<text transform="translate(446 339) scale(0.9 1)" y="3.39" font-size="10.2" font-weight="normal" fill="#3c3c3c" text-anchor="middle" stroke="#3c3c3c" stroke-width="0.3">PASSAGE</text>
<text transform="translate(588 341.3) scale(0.9 1)" y="3.39" font-size="10.2" font-weight="normal" fill="#3c3c3c" text-anchor="middle" stroke="#3c3c3c" stroke-width="0.3">ENT. LOBBY</text>
<text transform="translate(520.5 404.2) scale(0.92 1)" y="3.25" font-size="9.8" font-weight="normal" fill="#3c3c3c" text-anchor="middle" stroke="#3c3c3c" stroke-width="0.3">UP</text>
<text transform="translate(546.3 404.2) scale(0.92 1)" y="3.25" font-size="9.8" font-weight="normal" fill="#3c3c3c" text-anchor="middle" stroke="#3c3c3c" stroke-width="0.3">DN</text>
<text transform="translate(789.5 148) scale(0.9 1)" y="3.32" font-size="10" font-weight="normal" fill="#3c3c3c" text-anchor="middle" stroke="#3c3c3c" stroke-width="0.3">ALT</text>
<text transform="translate(789.5 159) scale(0.9 1)" y="3.32" font-size="10" font-weight="normal" fill="#3c3c3c" text-anchor="middle" stroke="#3c3c3c" stroke-width="0.3">TERRACE</text>
<text transform="translate(870.5 152) scale(0.9 1)" y="3.32" font-size="10" font-weight="normal" fill="#3c3c3c" text-anchor="middle" stroke="#3c3c3c" stroke-width="0.3">TERRACE</text>
<text transform="translate(870.5 162.5) scale(0.9 1)" y="3.32" font-size="10" font-weight="normal" fill="#3c3c3c" text-anchor="middle" stroke="#3c3c3c" stroke-width="0.3">8'3"X8'6"</text>
<text transform="translate(931.75 143.75) scale(0.9 1)" y="3.32" font-size="10" font-weight="normal" fill="#3c3c3c" text-anchor="middle" stroke="#3c3c3c" stroke-width="0.3">BED ROOM</text>
<text transform="translate(931.75 155.5) scale(0.9 1)" y="3.32" font-size="10" font-weight="normal" fill="#3c3c3c" text-anchor="middle" stroke="#3c3c3c" stroke-width="0.3">10'0"X10'6"</text>
<text transform="translate(995.5 136.25) scale(0.9 1)" y="3.32" font-size="10" font-weight="normal" fill="#3c3c3c" text-anchor="middle" stroke="#3c3c3c" stroke-width="0.3">BED ROOM</text>
<text transform="translate(995.5 148.25) scale(0.9 1)" y="3.32" font-size="10" font-weight="normal" fill="#3c3c3c" text-anchor="middle" stroke="#3c3c3c" stroke-width="0.3">10'0"X12'6"</text>
<text transform="translate(1042.5 165) scale(0.9 1)" y="2.38" font-size="7.4" font-weight="normal" fill="#4e4e4e" text-anchor="middle" stroke="#4e4e4e" stroke-width="0.15">TOILET</text>
<text transform="translate(1042.5 173) scale(0.9 1)" y="2.38" font-size="7.4" font-weight="normal" fill="#4e4e4e" text-anchor="middle" stroke="#4e4e4e" stroke-width="0.15">4'6"X7'6"</text>
<text transform="translate(879.25 204) scale(0.9 1)" y="3.32" font-size="10" font-weight="normal" fill="#3c3c3c" text-anchor="middle" stroke="#3c3c3c" stroke-width="0.3">DINING</text>
<text transform="translate(879.25 215) scale(0.9 1)" y="3.32" font-size="10" font-weight="normal" fill="#3c3c3c" text-anchor="middle" stroke="#3c3c3c" stroke-width="0.3">8'4"X9'0"</text>
<text transform="translate(958 215.75) scale(0.9 1)" y="2.38" font-size="7.4" font-weight="normal" fill="#4e4e4e" text-anchor="middle" stroke="#4e4e4e" stroke-width="0.15">TOI.</text>
<text transform="translate(958 224) scale(0.9 1)" y="2.38" font-size="7.4" font-weight="normal" fill="#4e4e4e" text-anchor="middle" stroke="#4e4e4e" stroke-width="0.15">7'0"X4'0"</text>
<text transform="translate(1022.5 209.5) scale(0.9 1)" y="3.32" font-size="10" font-weight="normal" fill="#3c3c3c" text-anchor="middle" stroke="#3c3c3c" stroke-width="0.3">BED ROOM</text>
<text transform="translate(1022.5 221.25) scale(0.9 1)" y="3.32" font-size="10" font-weight="normal" fill="#3c3c3c" text-anchor="middle" stroke="#3c3c3c" stroke-width="0.3">13'0"X10'0"</text>
<text transform="translate(921.75 233.25) scale(0.9 1)" y="2.38" font-size="7.4" font-weight="normal" fill="#4e4e4e" text-anchor="middle" stroke="#4e4e4e" stroke-width="0.15">DRY TER.</text>
<text transform="translate(921.75 242) scale(0.9 1)" y="2.38" font-size="7.4" font-weight="normal" fill="#4e4e4e" text-anchor="middle" stroke="#4e4e4e" stroke-width="0.15">4'6"X6'2"</text>
<text transform="translate(880.5 262) scale(0.9 1)" y="3.32" font-size="10" font-weight="normal" fill="#3c3c3c" text-anchor="middle" stroke="#3c3c3c" stroke-width="0.3">KITCHEN</text>
<text transform="translate(880.5 273.75) scale(0.9 1)" y="3.32" font-size="10" font-weight="normal" fill="#3c3c3c" text-anchor="middle" stroke="#3c3c3c" stroke-width="0.3">8'0"X8'6"</text>
<text transform="translate(823.3 245.75) scale(0.9 1)" y="3.32" font-size="10" font-weight="normal" fill="#3c3c3c" text-anchor="middle" stroke="#3c3c3c" stroke-width="0.3">LIVING</text>
<text transform="translate(823.3 257.5) scale(0.9 1)" y="3.32" font-size="10" font-weight="normal" fill="#3c3c3c" text-anchor="middle" stroke="#3c3c3c" stroke-width="0.3">10'0"X15'0"</text>
<text transform="translate(923.5 266.5) scale(0.9 1)" y="3.32" font-size="10" font-weight="normal" fill="#3c3c3c" text-anchor="middle" stroke="#3c3c3c" stroke-width="0.3">ALT</text>
<text transform="translate(923.5 277) scale(0.9 1)" y="3.32" font-size="10" font-weight="normal" fill="#3c3c3c" text-anchor="middle" stroke="#3c3c3c" stroke-width="0.3">DRY</text>
<text transform="translate(923.5 287) scale(0.9 1)" y="3.32" font-size="10" font-weight="normal" fill="#3c3c3c" text-anchor="middle" stroke="#3c3c3c" stroke-width="0.3">TER.</text>
<text transform="translate(923.5 307.75) scale(0.9 1)" y="3.32" font-size="10" font-weight="normal" fill="#3c3c3c" text-anchor="middle" stroke="#3c3c3c" stroke-width="0.3">ALT</text>
<text transform="translate(923.5 318) scale(0.9 1)" y="3.32" font-size="10" font-weight="normal" fill="#3c3c3c" text-anchor="middle" stroke="#3c3c3c" stroke-width="0.3">DRY</text>
<text transform="translate(923.5 328) scale(0.9 1)" y="3.32" font-size="10" font-weight="normal" fill="#3c3c3c" text-anchor="middle" stroke="#3c3c3c" stroke-width="0.3">TER.</text>
<text transform="translate(1020.5 271.25) scale(0.9 1)" y="2.38" font-size="7.4" font-weight="normal" fill="#4e4e4e" text-anchor="middle" stroke="#4e4e4e" stroke-width="0.15">TOILET</text>
<text transform="translate(1020.5 279.5) scale(0.9 1)" y="2.38" font-size="7.4" font-weight="normal" fill="#4e4e4e" text-anchor="middle" stroke="#4e4e4e" stroke-width="0.15">5'0"X7'6"</text>
<text transform="translate(807 427.75) scale(0.9 1)" y="3.32" font-size="10" font-weight="normal" fill="#3c3c3c" text-anchor="middle" stroke="#3c3c3c" stroke-width="0.3">ALT</text>
<text transform="translate(807 439.5) scale(0.9 1)" y="3.32" font-size="10" font-weight="normal" fill="#3c3c3c" text-anchor="middle" stroke="#3c3c3c" stroke-width="0.3">TERRACE</text>
<text transform="translate(436 520.25) scale(0.9 1)" y="3.32" font-size="10" font-weight="normal" fill="#3c3c3c" text-anchor="middle" stroke="#3c3c3c" stroke-width="0.3">ALT</text>
<text transform="translate(436 531.5) scale(0.9 1)" y="3.32" font-size="10" font-weight="normal" fill="#3c3c3c" text-anchor="middle" stroke="#3c3c3c" stroke-width="0.3">TERRACE</text>
<text transform="translate(572.8 607.3) scale(0.9 1)" y="3.03" font-size="9.2" font-weight="normal" fill="#3c3c3c" text-anchor="middle" stroke="#3c3c3c" stroke-width="0.3">ALT</text>
<text transform="translate(572.8 616.3) scale(0.9 1)" y="3.03" font-size="9.2" font-weight="normal" fill="#3c3c3c" text-anchor="middle" stroke="#3c3c3c" stroke-width="0.3">DRY</text>
<text transform="translate(572.8 625) scale(0.9 1)" y="3.03" font-size="9.2" font-weight="normal" fill="#3c3c3c" text-anchor="middle" stroke="#3c3c3c" stroke-width="0.3">TER.</text>
<text transform="translate(652 509.75) scale(0.9 1)" y="3.32" font-size="10" font-weight="normal" fill="#3c3c3c" text-anchor="middle" stroke="#3c3c3c" stroke-width="0.3">LIVING</text>
<text transform="translate(652 521.5) scale(0.9 1)" y="3.32" font-size="10" font-weight="normal" fill="#3c3c3c" text-anchor="middle" stroke="#3c3c3c" stroke-width="0.3">14'6"X10'0"</text>
<text transform="translate(732.5 520.25) scale(0.9 1)" y="3.32" font-size="10" font-weight="normal" fill="#3c3c3c" text-anchor="middle" stroke="#3c3c3c" stroke-width="0.3">ALT</text>
<text transform="translate(732.5 531.5) scale(0.9 1)" y="3.32" font-size="10" font-weight="normal" fill="#3c3c3c" text-anchor="middle" stroke="#3c3c3c" stroke-width="0.3">TERRACE</text>
<text transform="translate(616.7 565.8) scale(0.9 1)" y="3.32" font-size="10" font-weight="normal" fill="#3c3c3c" text-anchor="middle" stroke="#3c3c3c" stroke-width="0.3">KITCHEN</text>
<text transform="translate(616.7 577) scale(0.9 1)" y="3.32" font-size="10" font-weight="normal" fill="#3c3c3c" text-anchor="middle" stroke="#3c3c3c" stroke-width="0.3">9'0"X8'0"</text>
<text transform="translate(669 564.5) scale(0.9 1)" y="3.32" font-size="10" font-weight="normal" fill="#3c3c3c" text-anchor="middle" stroke="#3c3c3c" stroke-width="0.3">DINING</text>
<text transform="translate(669 576) scale(0.9 1)" y="3.32" font-size="10" font-weight="normal" fill="#3c3c3c" text-anchor="middle" stroke="#3c3c3c" stroke-width="0.3">9'6"X8'4"</text>
<text transform="translate(741.25 587.25) scale(0.9 1)" y="3.32" font-size="10" font-weight="normal" fill="#3c3c3c" text-anchor="middle" stroke="#3c3c3c" stroke-width="0.3">BED ROOM</text>
<text transform="translate(741.25 599) scale(0.9 1)" y="3.32" font-size="10" font-weight="normal" fill="#3c3c3c" text-anchor="middle" stroke="#3c3c3c" stroke-width="0.3">11'0X10'0"</text>
<text transform="translate(598.3 607.3) scale(0.9 1)" y="3.03" font-size="9.2" font-weight="normal" fill="#3c3c3c" text-anchor="middle" stroke="#3c3c3c" stroke-width="0.3">ALT</text>
<text transform="translate(598.3 616.3) scale(0.9 1)" y="3.03" font-size="9.2" font-weight="normal" fill="#3c3c3c" text-anchor="middle" stroke="#3c3c3c" stroke-width="0.3">DRY</text>
<text transform="translate(598.3 625) scale(0.9 1)" y="3.03" font-size="9.2" font-weight="normal" fill="#3c3c3c" text-anchor="middle" stroke="#3c3c3c" stroke-width="0.3">TER.</text>
<text transform="translate(627.5 614.2) scale(0.9 1)" y="2.38" font-size="7.4" font-weight="normal" fill="#4e4e4e" text-anchor="middle" stroke="#4e4e4e" stroke-width="0.15">DRY TER.</text>
<text transform="translate(627.5 622.5) scale(0.9 1)" y="2.38" font-size="7.4" font-weight="normal" fill="#4e4e4e" text-anchor="middle" stroke="#4e4e4e" stroke-width="0.15">5'0"X4'9"</text>
<text transform="translate(657 628.5) scale(0.9 1)" y="2.38" font-size="7.4" font-weight="normal" fill="#4e4e4e" text-anchor="middle" stroke="#4e4e4e" stroke-width="0.15">TOILET</text>
<text transform="translate(657 637.25) scale(0.9 1)" y="2.38" font-size="7.4" font-weight="normal" fill="#4e4e4e" text-anchor="middle" stroke="#4e4e4e" stroke-width="0.15">4'0"X7'0"</text>
<text transform="translate(657 670.5) scale(0.9 1)" y="2.38" font-size="7.4" font-weight="normal" fill="#4e4e4e" text-anchor="middle" stroke="#4e4e4e" stroke-width="0.15">TOILET</text>
<text transform="translate(657 678.5) scale(0.9 1)" y="2.38" font-size="7.4" font-weight="normal" fill="#4e4e4e" text-anchor="middle" stroke="#4e4e4e" stroke-width="0.15">4'0"X7'0"</text>
<text transform="translate(710 652.75) scale(0.9 1)" y="3.32" font-size="10" font-weight="normal" fill="#3c3c3c" text-anchor="middle" stroke="#3c3c3c" stroke-width="0.3">BED ROOM</text>
<text transform="translate(710 664.25) scale(0.9 1)" y="3.32" font-size="10" font-weight="normal" fill="#3c3c3c" text-anchor="middle" stroke="#3c3c3c" stroke-width="0.3">12'0"X10'0"</text>
<text transform="translate(775.75 652.75) scale(0.9 1)" y="3.32" font-size="10" font-weight="normal" fill="#3c3c3c" text-anchor="middle" stroke="#3c3c3c" stroke-width="0.3">TERRACE</text>
<text transform="translate(775.75 664.25) scale(0.9 1)" y="3.32" font-size="10" font-weight="normal" fill="#3c3c3c" text-anchor="middle" stroke="#3c3c3c" stroke-width="0.3">8'0"X9'10"</text>
</g>
<g id="L-label" shape-rendering="auto">
<rect x="141" y="49" width="70" height="20" fill="#c6ccc1"/>
<path d="M173.7 68.5 L179.3 68.5 L179.3 83 L183.7 83 L176.5 96.5 L169.3 83 L173.7 83Z" fill="#c6ccc1" stroke="none" stroke-width="0"/>
<text transform="translate(176 58.4) scale(0.85 1)" y="4.15" font-size="12.3" font-weight="bold" fill="#383d36" text-anchor="middle" stroke="#383d36" stroke-width="0.45">207, 407, 607</text>
<rect x="960" y="49" width="69" height="20" fill="#c6ccc1"/>
<path d="M991.7 68.5 L997.3 68.5 L997.3 83 L1001.7 83 L994.5 96.5 L987.3 83 L991.7 83Z" fill="#c6ccc1" stroke="none" stroke-width="0"/>
<text transform="translate(994.5 58.4) scale(0.85 1)" y="4.15" font-size="12.3" font-weight="bold" fill="#383d36" text-anchor="middle" stroke="#383d36" stroke-width="0.45">204, 404, 604</text>
<rect x="459.3" y="63.8" width="69.7" height="19.5" fill="#c6ccc1"/>
<path d="M491.5 82.8 L497.1 82.8 L497.1 97.8 L501.5 97.8 L494.3 111.3 L487.1 97.8 L491.5 97.8Z" fill="#c6ccc1" stroke="none" stroke-width="0"/>
<text transform="translate(494.15 72.95) scale(0.85 1)" y="4.15" font-size="12.3" font-weight="bold" fill="#383d36" text-anchor="middle" stroke="#383d36" stroke-width="0.45">206, 406, 606</text>
<rect x="645" y="63.8" width="69.5" height="19.5" fill="#c6ccc1"/>
<path d="M677.2 82.8 L682.8 82.8 L682.8 97.8 L687.2 97.8 L680 111.3 L672.8 97.8 L677.2 97.8Z" fill="#c6ccc1" stroke="none" stroke-width="0"/>
<text transform="translate(679.75 72.95) scale(0.85 1)" y="4.15" font-size="12.3" font-weight="bold" fill="#383d36" text-anchor="middle" stroke="#383d36" stroke-width="0.45">205, 405, 605</text>
<rect x="141" y="526" width="70" height="20" fill="#c6ccc1"/>
<path d="M173.7 526.5 L179.3 526.5 L179.3 512.5 L183.7 512.5 L176.5 499 L169.3 512.5 L173.7 512.5Z" fill="#c6ccc1" stroke="none" stroke-width="0"/>
<text transform="translate(176 535.4) scale(0.85 1)" y="4.15" font-size="12.3" font-weight="bold" fill="#383d36" text-anchor="middle" stroke="#383d36" stroke-width="0.45">208, 408, 608</text>
<rect x="960" y="526" width="69" height="20" fill="#c6ccc1"/>
<path d="M991.7 526.5 L997.3 526.5 L997.3 512.5 L1001.7 512.5 L994.5 499 L987.3 512.5 L991.7 512.5Z" fill="#c6ccc1" stroke="none" stroke-width="0"/>
<text transform="translate(994.5 535.4) scale(0.85 1)" y="4.15" font-size="12.3" font-weight="bold" fill="#383d36" text-anchor="middle" stroke="#383d36" stroke-width="0.45">203, 403, 603</text>
<rect x="459.3" y="720.5" width="69.7" height="19.8" fill="#c6ccc1"/>
<path d="M491.5 721 L497.1 721 L497.1 705.5 L501.5 705.5 L494.3 692 L487.1 705.5 L491.5 705.5Z" fill="#c6ccc1" stroke="none" stroke-width="0"/>
<text transform="translate(494.15 729.8) scale(0.85 1)" y="4.15" font-size="12.3" font-weight="bold" fill="#383d36" text-anchor="middle" stroke="#383d36" stroke-width="0.45">201, 401, 601</text>
<rect x="644.5" y="720.5" width="70" height="19.8" fill="#c6ccc1"/>
<path d="M677.2 721 L682.8 721 L682.8 705.5 L687.2 705.5 L680 692 L672.8 705.5 L677.2 705.5Z" fill="#c6ccc1" stroke="none" stroke-width="0"/>
<text transform="translate(679.5 729.8) scale(0.85 1)" y="4.15" font-size="12.3" font-weight="bold" fill="#383d36" text-anchor="middle" stroke="#383d36" stroke-width="0.45">202, 402, 602</text>
</g>
<g id="L-wm" shape-rendering="auto">
<text transform="scale(0.8 1)" x="399.1 459.0 536.9 626.4 686.9 735.8 776.0 857.9 917.8" y="511.3" font-size="84" fill="none" stroke="#d8d8d8" stroke-width="1.4" stroke-opacity="0.65">PROPTIGER</text>
</g>
</g>
</svg>
</body>
</html>
